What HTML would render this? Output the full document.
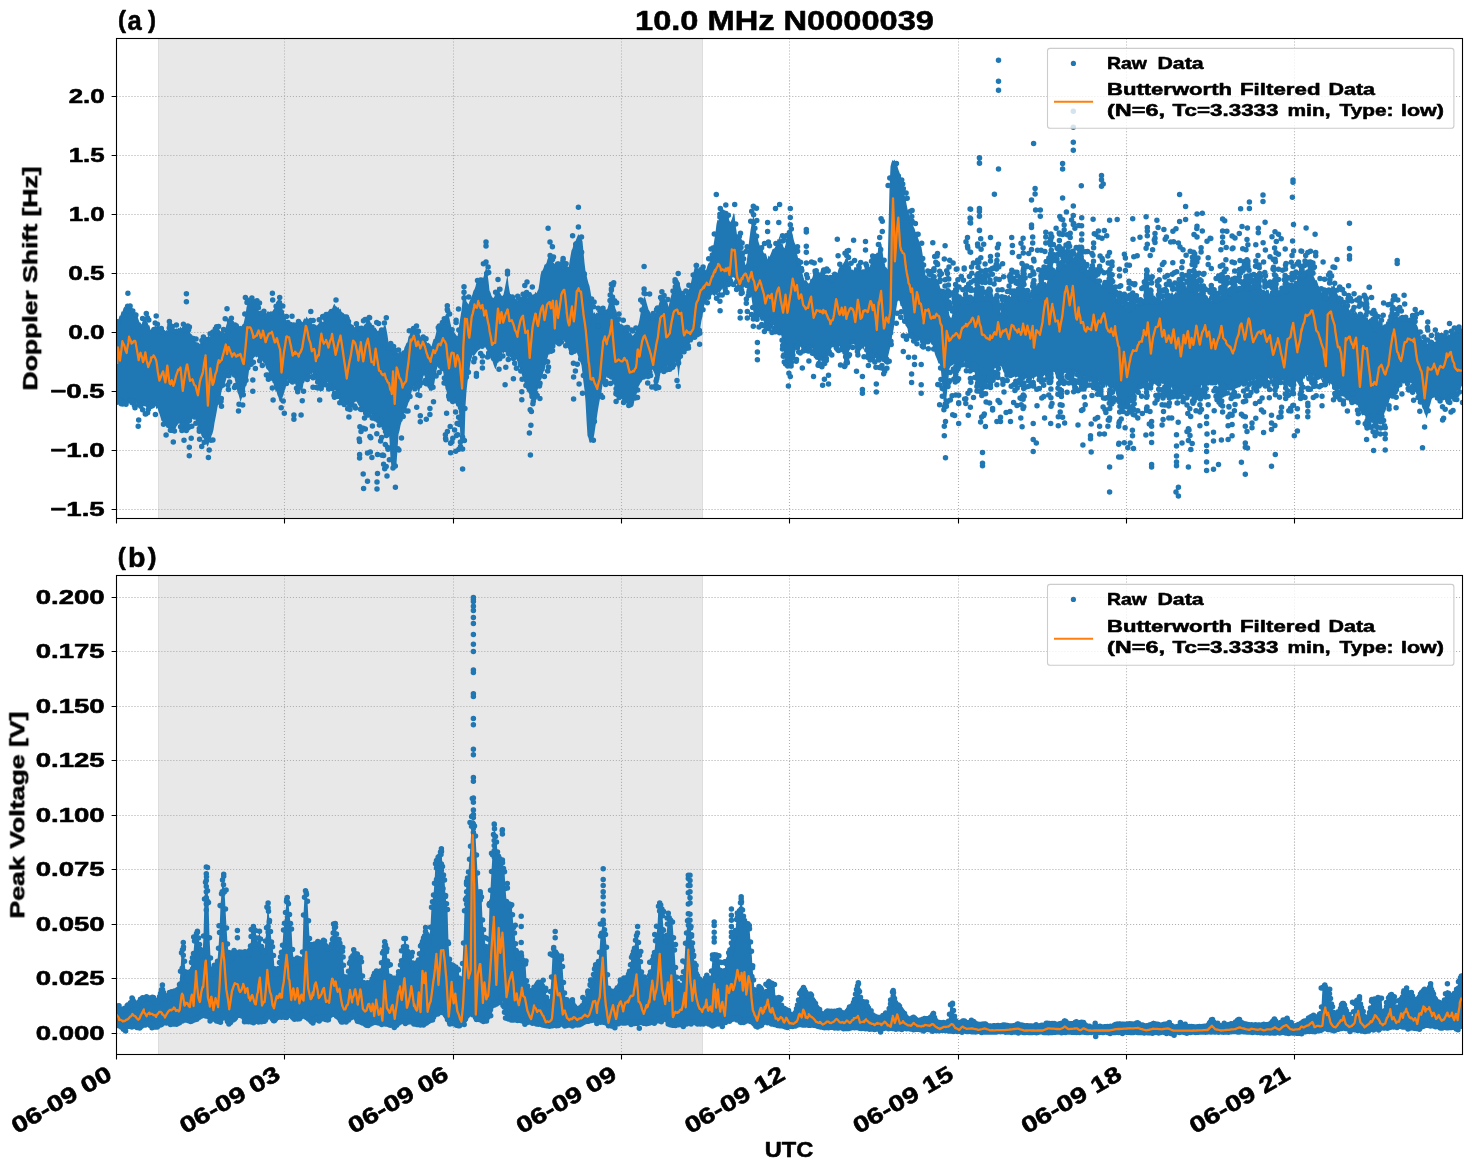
<!DOCTYPE html><html><head><meta charset="utf-8"><title>chart</title><style>html,body{margin:0;padding:0;background:#fff}svg{display:block}text{-webkit-font-smoothing:antialiased}text{font-family:'Liberation Sans',sans-serif;font-weight:bold;fill:#000;stroke:#000;stroke-width:0.55px;stroke-linejoin:round}</style></head><body>
<svg width="1472" height="1172" viewBox="0 0 1472 1172">
<rect width="1472" height="1172" fill="#fff"/><g opacity="0.999">
<defs><clipPath id="ca"><rect x="116.5" y="38.5" width="1346.0" height="480.0"/></clipPath><clipPath id="cb"><rect x="116.5" y="575.5" width="1346.0" height="479.0"/></clipPath></defs>
<g clip-path="url(#ca)">
<rect x="158" y="38.5" width="545" height="480.00" fill="#e8e8e8"/>
<path d="M158.5 38.5V518.5M702.5 38.5V518.5" stroke="#dddddd" stroke-width="1" fill="none"/>
<path d="M284.5 38.5V518.5M453.5 38.5V518.5M621.5 38.5V518.5M789.5 38.5V518.5M958.5 38.5V518.5M1126.5 38.5V518.5M1294.5 38.5V518.5M116.5 96.5H1462.5M116.5 155.5H1462.5M116.5 214.5H1462.5M116.5 273.5H1462.5M116.5 332.5H1462.5M116.5 391.5H1462.5M116.5 450.5H1462.5M116.5 509.5H1462.5" stroke="#b0b0b0" stroke-width="1.1" stroke-dasharray="1.1 1.89" fill="none"/>
<path d="M116.5 322.5 117.5 321 118.5 319.2 119.5 315.8 120.5 315.5 121.5 311.4 122.5 311.6 123.5 308.3 124.5 306.4 125.5 308 126.5 306 127.5 305.5 128.5 305.6 129.5 305.3 130.5 306 131.5 307.6 132.5 308.1 133.5 310.8 134.5 313.1 135.5 312.6 136.5 315.3 137.5 316.1 138.5 319.5 139.5 322.3 140.5 322.5 141.5 324.6 142.5 321.4 143.5 320.6 144.5 318.3 145.5 317.8 146.5 321 147.5 322.2 148.5 325.3 149.5 325.4 150.5 330 151.5 329.1 152.5 329.1 153.5 328.8 154.5 326.4 155.5 325.5 156.5 327.4 157.5 327.8 158.5 328.8 159.5 330.1 160.5 331.6 161.5 330.9 162.5 332.5 163.5 331.5 164.5 329.7 165.5 331.2 166.5 330 167.5 330.6 168.5 329.2 169.5 328.9 170.5 329.2 171.5 329.6 172.5 330.5 173.5 330.3 174.5 331.2 175.5 331.2 176.5 328.3 177.5 329.1 178.5 327.8 179.5 328.5 180.5 326.6 181.5 328.6 182.5 326.7 183.5 326.9 184.5 328.4 185.5 329.1 186.5 328 187.5 328.3 188.5 329.2 189.5 329.8 190.5 333.5 191.5 334.3 192.5 335.2 193.5 338.2 194.5 340.1 195.5 341.6 196.5 342.5 197.5 345.6 198.5 345.8 199.5 344.6 200.5 342.9 201.5 341.9 202.5 340.5 203.5 338.4 204.5 337.7 205.5 336 206.5 337 207.5 337 208.5 335.4 209.5 336.7 210.5 335.9 211.5 333.1 212.5 334 213.5 333.5 214.5 331.4 215.5 330.3 216.5 330.8 217.5 330.2 218.5 329 219.5 330.6 220.5 331.8 221.5 332.8 222.5 332.6 223.5 335.4 224.5 331.8 225.5 328 226.5 324.5 227.5 321.4 228.5 322.7 229.5 321.8 230.5 323.8 231.5 322.1 232.5 322.7 233.5 322.6 234.5 324.6 235.5 325.3 236.5 326.1 237.5 324.5 238.5 324.9 239.5 326.2 240.5 325.7 241.5 326.3 242.5 324.5 243.5 323.8 244.5 319.6 245.5 314.8 246.5 307.6 247.5 304 248.5 301.1 249.5 301.7 250.5 301.5 251.5 303.6 252.5 306.3 253.5 307.3 254.5 308.3 255.5 309.1 256.5 308.3 257.5 308.9 258.5 310.6 259.5 311.3 260.5 310.4 261.5 312 262.5 310.9 263.5 312.5 264.5 311.8 265.5 311.5 266.5 313.5 267.5 311.3 268.5 311.5 269.5 312.1 270.5 311.3 271.5 311.6 272.5 311.2 273.5 309.5 274.5 307.9 275.5 306.9 276.5 306 277.5 303.4 278.5 301.9 279.5 300.2 280.5 304.5 281.5 305.6 282.5 309.7 283.5 311.6 284.5 314.3 285.5 317.5 286.5 321.9 287.5 320.7 288.5 322.2 289.5 321.7 290.5 324.8 291.5 324.8 292.5 324 293.5 326.3 294.5 326.4 295.5 323.9 296.5 325.8 297.5 325.3 298.5 324.7 299.5 324.2 300.5 322.3 301.5 321 302.5 322.6 303.5 319.7 304.5 318.2 305.5 319.1 306.5 316.6 307.5 318.3 308.5 319.4 309.5 321.4 310.5 322.5 311.5 322.1 312.5 324.6 313.5 325 314.5 325.8 315.5 325.8 316.5 325.4 317.5 325.1 318.5 323.7 319.5 322 320.5 321.9 321.5 320.5 322.5 321.9 323.5 321.5 324.5 318.7 325.5 319 326.5 318.2 327.5 317.4 328.5 314.3 329.5 313.7 330.5 310.5 331.5 309.4 332.5 307.8 333.5 304.9 334.5 303.7 335.5 306 336.5 306.6 337.5 307.7 338.5 306.9 339.5 309.4 340.5 308.4 341.5 311.7 342.5 312.5 343.5 313.1 344.5 314.3 345.5 314.3 346.5 316.9 347.5 318.1 348.5 318.2 349.5 321.1 350.5 322.7 351.5 324.2 352.5 324.8 353.5 325.1 354.5 327.4 355.5 325.8 356.5 328.9 357.5 330.1 358.5 329.1 359.5 327.8 360.5 327.5 361.5 328.1 362.5 328.1 363.5 326.1 364.5 324.5 365.5 323.8 366.5 320.2 367.5 319.8 368.5 318.5 369.5 319.4 370.5 322.6 371.5 323.2 372.5 326.5 373.5 325.9 374.5 328.3 375.5 327.6 376.5 329.3 377.5 330.9 378.5 330.5 379.5 330.7 380.5 330.4 381.5 331.8 382.5 330.2 383.5 326.7 384.5 325.4 385.5 325.2 386.5 329.7 387.5 335.3 388.5 342.5 389.5 347.9 390.5 348.2 391.5 348.9 392.5 349.4 393.5 349.7 394.5 349.1 395.5 349.6 396.5 351 397.5 352.5 398.5 353.2 399.5 351.4 400.5 351.9 401.5 352.3 402.5 354.9 403.5 351.8 404.5 347.6 405.5 345.6 406.5 343.1 407.5 342.2 408.5 336.8 409.5 335.4 410.5 332.1 411.5 330.7 412.5 326.2 413.5 327.5 414.5 325.2 415.5 327 416.5 328.7 417.5 329.8 418.5 331.3 419.5 333.8 420.5 336.7 421.5 337.6 422.5 337.3 423.5 338.7 424.5 338.3 425.5 340.1 426.5 341.4 427.5 343.2 428.5 342.6 429.5 345.6 430.5 345.8 431.5 346.2 432.5 342.8 433.5 339.3 434.5 339.1 435.5 335.6 436.5 330.9 437.5 329.7 438.5 329.4 439.5 326.6 440.5 326.7 441.5 325.9 442.5 323.5 443.5 320.7 444.5 319.3 445.5 315 446.5 313.8 447.5 309.9 448.5 314.4 449.5 318.4 450.5 323.4 451.5 327.6 452.5 329.7 453.5 331.4 454.5 332.8 455.5 334.1 456.5 335.6 457.5 336.3 458.5 330.9 459.5 322.8 460.5 316.7 461.5 310.3 462.5 301.4 463.5 292.4 464.5 291.4 465.5 296 466.5 301.6 467.5 303.1 468.5 304.5 469.5 301.5 470.5 299.1 471.5 296.8 472.5 294.2 473.5 290.7 474.5 289.2 475.5 286.5 476.5 281.9 477.5 282.5 478.5 281.9 479.5 280.8 480.5 281.1 481.5 280.7 482.5 280.6 483.5 277 484.5 273.6 485.5 269.6 486.5 267.1 487.5 273.8 488.5 281 489.5 290.5 490.5 292.6 491.5 295.7 492.5 297.4 493.5 298 494.5 296.2 495.5 291.7 496.5 291.4 497.5 286.3 498.5 290 499.5 291.7 500.5 293.7 501.5 295.5 502.5 295.9 503.5 294.4 504.5 290.1 505.5 284.8 506.5 279.5 507.5 274.5 508.5 284.8 509.5 290.4 510.5 296.6 511.5 296.1 512.5 295 513.5 295.4 514.5 296 515.5 298.8 516.5 299.7 517.5 300.4 518.5 300.9 519.5 300.4 520.5 299.2 521.5 297.5 522.5 294.6 523.5 293.3 524.5 291.8 525.5 292.3 526.5 295.1 527.5 296.4 528.5 299.6 529.5 298.8 530.5 299 531.5 298 532.5 295.6 533.5 294.2 534.5 294 535.5 291.8 536.5 293.2 537.5 291 538.5 289.1 539.5 282.8 540.5 275.1 541.5 271 542.5 270.4 543.5 268.2 544.5 264.7 545.5 264.3 546.5 263 547.5 259.2 548.5 256.9 549.5 256.8 550.5 258.7 551.5 259.2 552.5 261.3 553.5 264.3 554.5 265.4 555.5 266.1 556.5 264.9 557.5 268 558.5 268.5 559.5 267 560.5 266.5 561.5 263.9 562.5 262.9 563.5 262.8 564.5 262.7 565.5 261.9 566.5 263.7 567.5 265.7 568.5 268.9 569.5 262 570.5 256.1 571.5 250.6 572.5 248.5 573.5 244.7 574.5 241.6 575.5 240.9 576.5 238.6 577.5 236 578.5 234 579.5 236.9 580.5 239 581.5 238.9 582.5 241.2 583.5 251.9 584.5 262.7 585.5 271.1 586.5 275.2 587.5 279.4 588.5 283.3 589.5 286 590.5 291.6 591.5 297.9 592.5 306.1 593.5 313.5 594.5 312.1 595.5 314.3 596.5 312.4 597.5 313.3 598.5 310.7 599.5 310.8 600.5 313.3 601.5 313.4 602.5 312.3 603.5 313.1 604.5 311.4 605.5 312.4 606.5 310.1 607.5 308.6 608.5 304.7 609.5 297.5 610.5 293.3 611.5 288.4 612.5 292.2 613.5 299.4 614.5 304.5 615.5 308.7 616.5 311 617.5 315.8 618.5 318.5 619.5 322.6 620.5 324.3 621.5 324.1 622.5 324.5 623.5 325.6 624.5 325.2 625.5 327.5 626.5 329.1 627.5 328.8 628.5 329 629.5 332.8 630.5 332.1 631.5 334.1 632.5 335.8 633.5 335 634.5 333.4 635.5 331.3 636.5 329 637.5 326.5 638.5 324 639.5 319.4 640.5 313.7 641.5 308.3 642.5 301.7 643.5 298.2 644.5 296.5 645.5 298.5 646.5 302.5 647.5 306 648.5 309.4 649.5 310.9 650.5 312.9 651.5 315.1 652.5 318.8 653.5 317.9 654.5 314.4 655.5 312.9 656.5 311.5 657.5 309 658.5 305.6 659.5 302 660.5 300.1 661.5 296.4 662.5 294.7 663.5 295.3 664.5 297.6 665.5 300 666.5 300.7 667.5 302.8 668.5 307 669.5 302.5 670.5 298.3 671.5 294.2 672.5 291.8 673.5 286.8 674.5 285.9 675.5 284.2 676.5 281.5 677.5 279.2 678.5 280.5 679.5 283.3 680.5 287.2 681.5 290 682.5 294.2 683.5 295.8 684.5 294.4 685.5 295.2 686.5 292.6 687.5 291.8 688.5 291.2 689.5 287.6 690.5 285.2 691.5 280.1 692.5 275.5 693.5 272.5 694.5 268 695.5 265.8 696.5 266.2 697.5 267.5 698.5 270.1 699.5 270.7 700.5 270.5 701.5 271 702.5 272 703.5 270.4 704.5 270.1 705.5 271.2 706.5 268.8 707.5 265.5 708.5 263.3 709.5 262.6 710.5 255.2 711.5 253.3 712.5 246.9 713.5 245 714.5 238.8 715.5 232.3 716.5 224.1 717.5 219.7 718.5 220.4 719.5 218.1 720.5 216.2 721.5 214.9 722.5 214.2 723.5 217 724.5 214.5 725.5 215.7 726.5 214.4 727.5 215.2 728.5 217.2 729.5 220.9 730.5 221.9 731.5 219.9 732.5 216.9 733.5 213.2 734.5 214.1 735.5 224.8 736.5 230.7 737.5 238.9 738.5 242.9 739.5 245.9 740.5 250.4 741.5 255 742.5 257 743.5 259.1 744.5 260.6 745.5 265.3 746.5 263.1 747.5 255 748.5 245.8 749.5 238.1 750.5 230.2 751.5 224.4 752.5 219.2 753.5 214.3 754.5 221.5 755.5 228.3 756.5 234 757.5 236.4 758.5 241.7 759.5 244.8 760.5 247.5 761.5 247.7 762.5 248.5 763.5 252.5 764.5 253.5 765.5 253.3 766.5 255.2 767.5 259.4 768.5 255.6 769.5 256.7 770.5 254.4 771.5 252.1 772.5 249.2 773.5 248.7 774.5 248.3 775.5 246.4 776.5 243.2 777.5 238.9 778.5 239.6 779.5 236 780.5 238.1 781.5 243.6 782.5 243.6 783.5 247.1 784.5 248.3 785.5 244.4 786.5 240.3 787.5 236 788.5 235.5 789.5 230.4 790.5 226.1 791.5 233 792.5 233.5 793.5 238.8 794.5 242.5 795.5 244.5 796.5 252 797.5 255.4 798.5 260 799.5 265.5 800.5 266.6 801.5 270.5 802.5 273.5 803.5 277.2 804.5 280.4 805.5 280 806.5 280.6 807.5 282.3 808.5 283.6 809.5 283 810.5 278.6 811.5 279.1 812.5 277.2 813.5 273.3 814.5 270.4 815.5 268.5 816.5 272.9 817.5 270.9 818.5 271.9 819.5 272.1 820.5 275.8 821.5 274.1 822.5 275.5 823.5 274.2 824.5 277.1 825.5 274.2 826.5 275.4 827.5 275.2 828.5 276.6 829.5 275.9 830.5 276.8 831.5 277.3 832.5 279.3 833.5 280.9 834.5 275.5 835.5 274.8 836.5 273.5 837.5 272.8 838.5 269 839.5 267.1 840.5 265.2 841.5 264.3 842.5 264.9 843.5 262.9 844.5 261.4 845.5 258.4 846.5 259.1 847.5 259.4 848.5 261.3 849.5 265.6 850.5 265.1 851.5 269.7 852.5 269.6 853.5 270.6 854.5 266.9 855.5 267.3 856.5 267.7 857.5 266 858.5 266.6 859.5 266.8 860.5 266.8 861.5 270 862.5 269.7 863.5 272.1 864.5 271.9 865.5 270.8 866.5 270.6 867.5 270.1 868.5 266.5 869.5 267.3 870.5 264.2 871.5 262.9 872.5 261.1 873.5 260.1 874.5 255.4 875.5 255.9 876.5 252.7 877.5 253 878.5 248.4 879.5 245.3 880.5 241.4 881.5 244.6 882.5 250.9 883.5 259 884.5 262.6 885.5 267 886.5 267.4 887.5 269.6 888.5 228.7 889.5 188.5 890.5 166.5 891.5 162.5 892.5 160 893.5 161 894.5 159.4 895.5 162.7 896.5 163.2 897.5 166.5 898.5 170 899.5 172.6 900.5 177.1 901.5 180.1 902.5 186 903.5 191.5 904.5 195 905.5 198.6 906.5 204 907.5 208.9 908.5 212.2 909.5 215.3 910.5 219 911.5 221.9 912.5 222.8 913.5 226.5 914.5 228.4 915.5 231.7 916.5 236.5 917.5 236.3 918.5 239.2 919.5 242.1 920.5 245.2 921.5 247.2 922.5 253.8 923.5 260.1 924.5 267.3 925.5 275.3 926.5 275.6 927.5 276.3 928.5 277.6 929.5 277.5 930.5 278.3 931.5 276.4 932.5 276.2 933.5 277.3 934.5 278.8 935.5 278.7 936.5 278.7 937.5 279.8 938.5 281 939.5 285.3 940.5 288.6 941.5 290.5 942.5 295.3 943.5 297.2 944.5 296.4 945.5 301.2 946.5 299.3 947.5 305.1 948.5 309.5 949.5 315.6 950.5 317.6 951.5 317.7 952.5 313.1 953.5 311.8 954.5 312.4 955.5 309.6 956.5 306.3 957.5 302 958.5 301.8 959.5 300.8 960.5 301.9 961.5 302.8 962.5 300.8 963.5 304.1 964.5 304.1 965.5 304.2 966.5 305 967.5 301 968.5 302.3 969.5 300.1 970.5 299.8 971.5 298.9 972.5 299.5 973.5 297.4 974.5 298.7 975.5 298.6 976.5 297.8 977.5 299.3 978.5 298 979.5 298.1 980.5 297.1 981.5 298.9 982.5 297.7 983.5 295.7 984.5 295.8 985.5 298.2 986.5 297.3 987.5 295.1 988.5 296.5 989.5 297.7 990.5 298.7 991.5 301.2 992.5 302.4 993.5 305 994.5 309.9 995.5 309.8 996.5 310.7 997.5 313.2 998.5 313.8 999.5 313.1 1000.5 313.1 1001.5 307.6 1002.5 305.6 1003.5 301.7 1004.5 297.8 1005.5 296.7 1006.5 296.5 1007.5 296.3 1008.5 295.1 1009.5 295 1010.5 297.2 1011.5 293.7 1012.5 293.5 1013.5 292.9 1014.5 292.4 1015.5 295 1016.5 292.9 1017.5 293.6 1018.5 294.9 1019.5 296 1020.5 298.6 1021.5 295.8 1022.5 298.6 1023.5 297.5 1024.5 298 1025.5 297.4 1026.5 299.5 1027.5 300.5 1028.5 300.3 1029.5 299.6 1030.5 299 1031.5 298.7 1032.5 295.7 1033.5 294.5 1034.5 292.9 1035.5 292.8 1036.5 293 1037.5 292.7 1038.5 292.7 1039.5 290.4 1040.5 287.2 1041.5 287.6 1042.5 288.6 1043.5 286 1044.5 284.7 1045.5 281.4 1046.5 283.7 1047.5 280.3 1048.5 277.6 1049.5 276.8 1050.5 276 1051.5 275.7 1052.5 273.1 1053.5 274.4 1054.5 272.9 1055.5 270.3 1056.5 269.2 1057.5 267.9 1058.5 268.3 1059.5 268.6 1060.5 267.1 1061.5 264 1062.5 263.2 1063.5 263.3 1064.5 263.1 1065.5 264.2 1066.5 262 1067.5 259.3 1068.5 261.9 1069.5 258 1070.5 258.3 1071.5 257.7 1072.5 256.9 1073.5 258.7 1074.5 259.1 1075.5 262.2 1076.5 263.3 1077.5 263.1 1078.5 265.2 1079.5 264.8 1080.5 266 1081.5 269 1082.5 269.2 1083.5 270.7 1084.5 271.9 1085.5 272.9 1086.5 270.6 1087.5 274 1088.5 276.2 1089.5 274.8 1090.5 275 1091.5 276.5 1092.5 276.7 1093.5 278.4 1094.5 279.3 1095.5 280.5 1096.5 281.5 1097.5 280.3 1098.5 282.6 1099.5 282.3 1100.5 283.3 1101.5 285.2 1102.5 285.6 1103.5 284.1 1104.5 286.5 1105.5 286.5 1106.5 284.2 1107.5 287.8 1108.5 288.8 1109.5 289.1 1110.5 288.7 1111.5 290.4 1112.5 293.2 1113.5 292.6 1114.5 294.1 1115.5 296 1116.5 297.8 1117.5 300.5 1118.5 300.5 1119.5 301.6 1120.5 300.7 1121.5 302.2 1122.5 304.7 1123.5 302.7 1124.5 304.4 1125.5 306.1 1126.5 306 1127.5 306.5 1128.5 309.2 1129.5 307.7 1130.5 307.1 1131.5 305.8 1132.5 307.7 1133.5 305.9 1134.5 306.9 1135.5 303.3 1136.5 303.4 1137.5 303.2 1138.5 301.5 1139.5 304.5 1140.5 303.4 1141.5 300.4 1142.5 302.8 1143.5 301.5 1144.5 302.5 1145.5 302 1146.5 300.7 1147.5 301.5 1148.5 301.9 1149.5 300.8 1150.5 300 1151.5 300 1152.5 300.7 1153.5 302 1154.5 301.8 1155.5 300 1156.5 301 1157.5 302.3 1158.5 301.8 1159.5 299 1160.5 301 1161.5 300.3 1162.5 296.9 1163.5 297.9 1164.5 299 1165.5 295.6 1166.5 296.6 1167.5 297.4 1168.5 296 1169.5 296.1 1170.5 295.5 1171.5 292.2 1172.5 292.2 1173.5 294.8 1174.5 293.8 1175.5 292 1176.5 292.4 1177.5 291.5 1178.5 289 1179.5 290.8 1180.5 288.6 1181.5 289.1 1182.5 287.7 1183.5 286 1184.5 288.5 1185.5 285.3 1186.5 287.5 1187.5 288 1188.5 286.7 1189.5 287.5 1190.5 288.9 1191.5 289.3 1192.5 287.7 1193.5 289.2 1194.5 290.8 1195.5 292.8 1196.5 290.7 1197.5 290.2 1198.5 292.9 1199.5 291.9 1200.5 292.8 1201.5 292.1 1202.5 293.5 1203.5 294.7 1204.5 294.9 1205.5 294.8 1206.5 295.3 1207.5 296.1 1208.5 298.6 1209.5 296.1 1210.5 297.5 1211.5 300.3 1212.5 300.7 1213.5 298.3 1214.5 299.4 1215.5 302 1216.5 300.2 1217.5 300.1 1218.5 298.3 1219.5 297.8 1220.5 297.5 1221.5 298.7 1222.5 298.7 1223.5 295.9 1224.5 296.9 1225.5 294.8 1226.5 294.4 1227.5 295.4 1228.5 292.2 1229.5 293.4 1230.5 294.9 1231.5 292 1232.5 291 1233.5 293.2 1234.5 289.6 1235.5 291.5 1236.5 289.7 1237.5 288.4 1238.5 290.9 1239.5 289.7 1240.5 286.7 1241.5 286.5 1242.5 287.6 1243.5 284.5 1244.5 285.7 1245.5 286.5 1246.5 286.9 1247.5 288 1248.5 287.4 1249.5 287.3 1250.5 285.2 1251.5 285.1 1252.5 285.6 1253.5 286.7 1254.5 288.3 1255.5 285.4 1256.5 285.2 1257.5 284.4 1258.5 287.9 1259.5 287.8 1260.5 288 1261.5 288.2 1262.5 289.7 1263.5 290.1 1264.5 289.9 1265.5 291.3 1266.5 289.1 1267.5 290.2 1268.5 289.6 1269.5 294 1270.5 290.7 1271.5 291.4 1272.5 295.1 1273.5 291.6 1274.5 293 1275.5 293.6 1276.5 294.2 1277.5 293.6 1278.5 290.2 1279.5 290.3 1280.5 293.5 1281.5 291.8 1282.5 291.5 1283.5 291.4 1284.5 291.7 1285.5 289.7 1286.5 290.4 1287.5 289.4 1288.5 287.3 1289.5 287.8 1290.5 287.5 1291.5 285.8 1292.5 285 1293.5 283.2 1294.5 280.8 1295.5 280.3 1296.5 281.3 1297.5 279.3 1298.5 277.8 1299.5 277.4 1300.5 278.8 1301.5 277.6 1302.5 277.6 1303.5 276.3 1304.5 276.3 1305.5 273.2 1306.5 271.5 1307.5 273.1 1308.5 273.2 1309.5 275.3 1310.5 272.5 1311.5 273.5 1312.5 276 1313.5 276.1 1314.5 278 1315.5 280.3 1316.5 280.1 1317.5 282.4 1318.5 285.7 1319.5 287.1 1320.5 287.8 1321.5 292.5 1322.5 292.2 1323.5 296.9 1324.5 298.7 1325.5 298.5 1326.5 298 1327.5 299.1 1328.5 295.1 1329.5 291.1 1330.5 290.8 1331.5 285.5 1332.5 286.8 1333.5 285 1334.5 284.6 1335.5 290 1336.5 292.3 1337.5 293.9 1338.5 296.9 1339.5 299.7 1340.5 300.7 1341.5 302.5 1342.5 304.2 1343.5 305.1 1344.5 304.3 1345.5 306.4 1346.5 305.9 1347.5 307.8 1348.5 307.6 1349.5 310.5 1350.5 309 1351.5 313 1352.5 311.3 1353.5 310.7 1354.5 313.3 1355.5 311 1356.5 312.2 1357.5 314.4 1358.5 312 1359.5 314.6 1360.5 314.6 1361.5 314.6 1362.5 314.2 1363.5 314.6 1364.5 315.1 1365.5 314.1 1366.5 317.9 1367.5 317.2 1368.5 320.3 1369.5 318.3 1370.5 321.5 1371.5 324.1 1372.5 322.7 1373.5 325.7 1374.5 326.5 1375.5 329.8 1376.5 331.3 1377.5 330.1 1378.5 328.6 1379.5 325.5 1380.5 327.6 1381.5 327 1382.5 326.3 1383.5 324.7 1384.5 324.3 1385.5 324.3 1386.5 321.2 1387.5 321.8 1388.5 322.6 1389.5 320.9 1390.5 318.5 1391.5 318.7 1392.5 315.7 1393.5 316.5 1394.5 316.7 1395.5 316.5 1396.5 314.3 1397.5 317.1 1398.5 317.2 1399.5 316.1 1400.5 316.4 1401.5 316.6 1402.5 318.2 1403.5 318.2 1404.5 319.7 1405.5 318.9 1406.5 318.6 1407.5 319.3 1408.5 319.5 1409.5 321.5 1410.5 320.9 1411.5 319.6 1412.5 320 1413.5 321.4 1414.5 320.6 1415.5 321.9 1416.5 324.4 1417.5 326.3 1418.5 329.5 1419.5 333.6 1420.5 334.9 1421.5 338 1422.5 341.8 1423.5 343.8 1424.5 343.7 1425.5 342.8 1426.5 343.8 1427.5 343.5 1428.5 343.4 1429.5 345.2 1430.5 344.4 1431.5 342.4 1432.5 341.2 1433.5 340.5 1434.5 341.9 1435.5 341.5 1436.5 340.5 1437.5 339.6 1438.5 338.5 1439.5 336.5 1440.5 338.2 1441.5 336.9 1442.5 337.2 1443.5 336.8 1444.5 336 1445.5 334.4 1446.5 333.3 1447.5 335.8 1448.5 334 1449.5 334.9 1450.5 332.2 1451.5 331.7 1452.5 331.4 1453.5 332.8 1454.5 330.6 1455.5 331.2 1456.5 331.3 1457.5 330.2 1458.5 330.7 1459.5 331.7 1460.5 328.8 1461.5 330.8 1462.5 330.9 L1462.5 385.7 1461.5 386.2 1460.5 389.4 1459.5 390.9 1458.5 390.5 1457.5 390.1 1456.5 392.6 1455.5 393.7 1454.5 395.2 1453.5 396.9 1452.5 396.9 1451.5 396.6 1450.5 397.7 1449.5 398.6 1448.5 399.3 1447.5 398.4 1446.5 399.6 1445.5 400.5 1444.5 399.7 1443.5 400.4 1442.5 400.1 1441.5 400.7 1440.5 400.2 1439.5 400.7 1438.5 400.7 1437.5 398.7 1436.5 397.9 1435.5 400.3 1434.5 397.3 1433.5 397.7 1432.5 398.1 1431.5 399.7 1430.5 403.8 1429.5 406.8 1428.5 411.3 1427.5 415.2 1426.5 418.5 1425.5 415 1424.5 413.2 1423.5 409.5 1422.5 408.3 1421.5 404.5 1420.5 402.9 1419.5 402.1 1418.5 397.2 1417.5 397.1 1416.5 394.4 1415.5 391.6 1414.5 389.5 1413.5 387.1 1412.5 385.4 1411.5 383.4 1410.5 382.7 1409.5 383.5 1408.5 382.2 1407.5 384.2 1406.5 382.8 1405.5 382.9 1404.5 383.6 1403.5 383.6 1402.5 383.7 1401.5 381.8 1400.5 385.2 1399.5 384.9 1398.5 387.1 1397.5 387.1 1396.5 389.9 1395.5 391.9 1394.5 391.2 1393.5 392.6 1392.5 395 1391.5 395.3 1390.5 397.4 1389.5 399.8 1388.5 403.8 1387.5 404.7 1386.5 407.1 1385.5 411.1 1384.5 412.8 1383.5 416.8 1382.5 415.9 1381.5 416.1 1380.5 414.6 1379.5 418.6 1378.5 416.3 1377.5 415.6 1376.5 417 1375.5 418.8 1374.5 420.3 1373.5 417.1 1372.5 420.2 1371.5 420 1370.5 416.6 1369.5 417.7 1368.5 418.4 1367.5 417.2 1366.5 417.4 1365.5 416.8 1364.5 415.3 1363.5 414.9 1362.5 415.5 1361.5 414.6 1360.5 412 1359.5 410.7 1358.5 407.7 1357.5 405.1 1356.5 405.4 1355.5 401.8 1354.5 399.5 1353.5 399.4 1352.5 399.4 1351.5 399.1 1350.5 397.9 1349.5 398.8 1348.5 397.2 1347.5 394.4 1346.5 395.7 1345.5 394.8 1344.5 393.9 1343.5 392.3 1342.5 394.3 1341.5 393.9 1340.5 391.7 1339.5 389 1338.5 390 1337.5 390.9 1336.5 390.2 1335.5 387.4 1334.5 387.1 1333.5 386.8 1332.5 386.8 1331.5 384.2 1330.5 383.5 1329.5 385.9 1328.5 383.2 1327.5 382.4 1326.5 380.5 1325.5 382.8 1324.5 378.9 1323.5 382 1322.5 378.1 1321.5 380.8 1320.5 378.5 1319.5 379.2 1318.5 377.6 1317.5 377 1316.5 376.8 1315.5 378.4 1314.5 376.8 1313.5 375.8 1312.5 376.7 1311.5 378.5 1310.5 375.9 1309.5 374.5 1308.5 376.2 1307.5 374.7 1306.5 378.7 1305.5 375.8 1304.5 379.1 1303.5 378.6 1302.5 381.4 1301.5 381.8 1300.5 381.8 1299.5 382 1298.5 383.9 1297.5 381.9 1296.5 381.3 1295.5 384.2 1294.5 383.1 1293.5 381.5 1292.5 381.2 1291.5 384.4 1290.5 383.6 1289.5 383.2 1288.5 383 1287.5 384.8 1286.5 381.5 1285.5 382.6 1284.5 382.8 1283.5 380.7 1282.5 380.1 1281.5 383.3 1280.5 382 1279.5 382.5 1278.5 380.1 1277.5 381.6 1276.5 379.5 1275.5 380.5 1274.5 378.3 1273.5 379.5 1272.5 378.5 1271.5 380.5 1270.5 381.4 1269.5 379.3 1268.5 378.1 1267.5 379 1266.5 377.6 1265.5 378.6 1264.5 379.3 1263.5 378.4 1262.5 379.7 1261.5 378.9 1260.5 379.7 1259.5 378.5 1258.5 380.9 1257.5 381.1 1256.5 381.2 1255.5 379.2 1254.5 381.6 1253.5 381.3 1252.5 381.1 1251.5 380.3 1250.5 382.3 1249.5 382 1248.5 381.3 1247.5 383.5 1246.5 381.7 1245.5 382.4 1244.5 384.5 1243.5 381.5 1242.5 384.9 1241.5 384.5 1240.5 383.8 1239.5 382.9 1238.5 383.8 1237.5 384.5 1236.5 383.9 1235.5 385.6 1234.5 383.8 1233.5 384 1232.5 384.1 1231.5 388.2 1230.5 384.9 1229.5 385.4 1228.5 386.4 1227.5 387 1226.5 387.9 1225.5 384.8 1224.5 385.5 1223.5 386.8 1222.5 383.2 1221.5 384 1220.5 383.9 1219.5 382.8 1218.5 385.7 1217.5 383 1216.5 384.4 1215.5 381.7 1214.5 382 1213.5 385.5 1212.5 385.7 1211.5 382.5 1210.5 384.4 1209.5 383.2 1208.5 385.9 1207.5 384.4 1206.5 386.6 1205.5 384.3 1204.5 386.6 1203.5 387.7 1202.5 386.6 1201.5 385 1200.5 388.7 1199.5 389.4 1198.5 386.8 1197.5 390.4 1196.5 388.1 1195.5 389 1194.5 392.5 1193.5 390.6 1192.5 394.9 1191.5 392.2 1190.5 392.5 1189.5 396.4 1188.5 396.6 1187.5 397.6 1186.5 397.3 1185.5 395.7 1184.5 394.5 1183.5 394.4 1182.5 396.3 1181.5 393.6 1180.5 391.1 1179.5 393.1 1178.5 392.5 1177.5 389.7 1176.5 389 1175.5 390.4 1174.5 386.7 1173.5 387.3 1172.5 388.5 1171.5 385.9 1170.5 386.7 1169.5 385.3 1168.5 386.6 1167.5 384.5 1166.5 386.9 1165.5 386.3 1164.5 385.4 1163.5 383.8 1162.5 384.1 1161.5 383.1 1160.5 385.6 1159.5 382.7 1158.5 382 1157.5 382.1 1156.5 382.3 1155.5 383.9 1154.5 384.2 1153.5 381.5 1152.5 381.7 1151.5 381.8 1150.5 383.5 1149.5 383.6 1148.5 381.3 1147.5 384.9 1146.5 382.5 1145.5 382.1 1144.5 384.3 1143.5 384.9 1142.5 385.5 1141.5 386.3 1140.5 387.5 1139.5 387.5 1138.5 390.1 1137.5 388.5 1136.5 390.8 1135.5 393.9 1134.5 395.6 1133.5 395.6 1132.5 395.8 1131.5 398.6 1130.5 398 1129.5 399 1128.5 400 1127.5 400.7 1126.5 404.7 1125.5 405.9 1124.5 405.6 1123.5 407.5 1122.5 406.8 1121.5 407.7 1120.5 404 1119.5 402.1 1118.5 401.6 1117.5 398.5 1116.5 396 1115.5 390.7 1114.5 391.6 1113.5 390.3 1112.5 388.1 1111.5 389 1110.5 387.9 1109.5 387.7 1108.5 387 1107.5 385.3 1106.5 387.9 1105.5 384.8 1104.5 384.6 1103.5 386 1102.5 386.1 1101.5 385 1100.5 384.3 1099.5 383.2 1098.5 381.3 1097.5 382.9 1096.5 381.9 1095.5 380 1094.5 379.6 1093.5 380.7 1092.5 378.7 1091.5 379.1 1090.5 377.1 1089.5 375.9 1088.5 376.2 1087.5 375.5 1086.5 375.8 1085.5 377.4 1084.5 377.1 1083.5 376.3 1082.5 377 1081.5 375.4 1080.5 375.5 1079.5 372.6 1078.5 374.1 1077.5 374.6 1076.5 375.6 1075.5 371.7 1074.5 373.6 1073.5 372.2 1072.5 373.2 1071.5 372.4 1070.5 371.3 1069.5 372.4 1068.5 374.4 1067.5 373.4 1066.5 373.7 1065.5 371.7 1064.5 370.9 1063.5 372.8 1062.5 372.7 1061.5 370.9 1060.5 371.3 1059.5 372.3 1058.5 370.6 1057.5 374.2 1056.5 372.9 1055.5 374.5 1054.5 372.1 1053.5 371.8 1052.5 374.7 1051.5 373 1050.5 373 1049.5 372.5 1048.5 373.4 1047.5 374.4 1046.5 375.7 1045.5 374.7 1044.5 375.2 1043.5 376.5 1042.5 375.7 1041.5 378.3 1040.5 375.4 1039.5 378.9 1038.5 376.9 1037.5 378.2 1036.5 376.3 1035.5 376.9 1034.5 377.5 1033.5 380.2 1032.5 377.8 1031.5 380.6 1030.5 380.4 1029.5 377.7 1028.5 381 1027.5 380.6 1026.5 378.6 1025.5 377 1024.5 379.7 1023.5 377 1022.5 376.5 1021.5 378.8 1020.5 379.2 1019.5 377.8 1018.5 376.9 1017.5 376.8 1016.5 377 1015.5 378.1 1014.5 375.3 1013.5 374.9 1012.5 375.2 1011.5 376.1 1010.5 375.3 1009.5 375.9 1008.5 372.9 1007.5 374.4 1006.5 374.9 1005.5 374.6 1004.5 373 1003.5 372.2 1002.5 369.2 1001.5 366.8 1000.5 365.7 999.5 367.3 998.5 366.5 997.5 366.2 996.5 365 995.5 365.8 994.5 369.1 993.5 370.6 992.5 371.6 991.5 372.6 990.5 373.8 989.5 373.7 988.5 376.2 987.5 381.3 986.5 382.7 985.5 382.8 984.5 385.4 983.5 387.6 982.5 384.3 981.5 381.3 980.5 377.2 979.5 374.7 978.5 373.4 977.5 371.3 976.5 366.7 975.5 366.8 974.5 366.1 973.5 363.6 972.5 365.8 971.5 362 970.5 364.9 969.5 364.9 968.5 363.8 967.5 361.7 966.5 363.8 965.5 362.6 964.5 361.5 963.5 363 962.5 364.5 961.5 362.6 960.5 366.5 959.5 366.1 958.5 366.4 957.5 366.2 956.5 366.4 955.5 365.1 954.5 363.9 953.5 364.6 952.5 365.2 951.5 365.8 950.5 366.4 949.5 368.4 948.5 378.4 947.5 387.5 946.5 397.4 945.5 402.3 944.5 403.3 943.5 400.9 942.5 388.8 941.5 376.8 940.5 365.7 939.5 363.6 938.5 363.4 937.5 360.5 936.5 357.9 935.5 355.8 934.5 352.6 933.5 348.8 932.5 345 931.5 344.4 930.5 342.6 929.5 341.2 928.5 341.3 927.5 341.4 926.5 344.3 925.5 342.1 924.5 342.7 923.5 342 922.5 343.8 921.5 344.1 920.5 343.5 919.5 340.2 918.5 340.9 917.5 341.1 916.5 339 915.5 341.2 914.5 341 913.5 338 912.5 338.2 911.5 337 910.5 334.9 909.5 335.2 908.5 334.8 907.5 328.6 906.5 326.8 905.5 325.6 904.5 321.6 903.5 316.4 902.5 309.5 901.5 306.2 900.5 305.7 899.5 301.1 898.5 300.4 897.5 301.4 896.5 307.7 895.5 314 894.5 322.7 893.5 330.1 892.5 333.1 891.5 341 890.5 346.3 889.5 350.6 888.5 354.8 887.5 359.3 886.5 361.2 885.5 361.8 884.5 363.7 883.5 362.1 882.5 362 881.5 360.4 880.5 358.9 879.5 357.5 878.5 357.5 877.5 358 876.5 356.4 875.5 355.3 874.5 356 873.5 355.1 872.5 354.7 871.5 354.3 870.5 351.9 869.5 352.4 868.5 351.4 867.5 348.8 866.5 348.6 865.5 348.2 864.5 346.2 863.5 350 862.5 348.2 861.5 348.9 860.5 350.8 859.5 350.1 858.5 350.5 857.5 353.7 856.5 350.8 855.5 350.5 854.5 345.4 853.5 342 852.5 342.3 851.5 345.6 850.5 348.9 849.5 350.2 848.5 353.4 847.5 360.1 846.5 361.3 845.5 360.6 844.5 357.8 843.5 354.5 842.5 354 841.5 349.4 840.5 348.5 839.5 345.9 838.5 348.5 837.5 346.8 836.5 345.5 835.5 342.7 834.5 344 833.5 344.2 832.5 343.5 831.5 348.3 830.5 350.5 829.5 352 828.5 352.8 827.5 357.9 826.5 360.7 825.5 358.8 824.5 359.2 823.5 362.3 822.5 362.6 821.5 360.8 820.5 360.8 819.5 363.6 818.5 363.3 817.5 359.1 816.5 357.8 815.5 355.6 814.5 354.3 813.5 353 812.5 349.2 811.5 347.1 810.5 347.5 809.5 347.8 808.5 349.1 807.5 350.3 806.5 352.1 805.5 351.3 804.5 351.8 803.5 352.3 802.5 350.5 801.5 348.9 800.5 345.6 799.5 346.1 798.5 343.9 797.5 342.8 796.5 345.9 795.5 351.2 794.5 353.9 793.5 360.5 792.5 361.4 791.5 361.4 790.5 362.2 789.5 364.2 788.5 361.6 787.5 360.5 786.5 360.8 785.5 361.5 784.5 355.7 783.5 349.5 782.5 343.2 781.5 336.2 780.5 333.6 779.5 332.4 778.5 330.5 777.5 330.7 776.5 327.5 775.5 328.8 774.5 326.9 773.5 325.1 772.5 327.7 771.5 327.9 770.5 327.7 769.5 326.6 768.5 326.7 767.5 326.8 766.5 326.2 765.5 326.9 764.5 325.1 763.5 320.7 762.5 320.7 761.5 320.9 760.5 320 759.5 317.5 758.5 317 757.5 318.2 756.5 317 755.5 319.6 754.5 320.7 753.5 313 752.5 305.1 751.5 297.8 750.5 293.1 749.5 292 748.5 290.9 747.5 286.1 746.5 284.8 745.5 286.6 744.5 286.6 743.5 288.1 742.5 292 741.5 292.4 740.5 290.1 739.5 288.5 738.5 285.5 737.5 285.3 736.5 281.2 735.5 281.5 734.5 277.7 733.5 275.8 732.5 277.6 731.5 280.5 730.5 281.4 729.5 283.2 728.5 283.1 727.5 283.3 726.5 284.3 725.5 286.1 724.5 289 723.5 288.1 722.5 288.8 721.5 289.8 720.5 291.2 719.5 294.4 718.5 292.1 717.5 294 716.5 295.2 715.5 294.6 714.5 296.5 713.5 295.3 712.5 294.5 711.5 294.9 710.5 298.3 709.5 298.1 708.5 297.1 707.5 298.5 706.5 301.1 705.5 303.9 704.5 304.6 703.5 309.1 702.5 316.5 701.5 320.2 700.5 326.5 699.5 333.6 698.5 334.8 697.5 334.4 696.5 336.9 695.5 339.1 694.5 337.7 693.5 339.6 692.5 342.1 691.5 342.5 690.5 342.3 689.5 343.7 688.5 344.8 687.5 345.7 686.5 348.2 685.5 347.4 684.5 350.1 683.5 349.1 682.5 350.9 681.5 355.8 680.5 362.4 679.5 369.6 678.5 378.2 677.5 368 676.5 363 675.5 361.9 674.5 364.8 673.5 362.7 672.5 366.1 671.5 366.6 670.5 367.3 669.5 365.9 668.5 366.5 667.5 365.8 666.5 366.7 665.5 367.7 664.5 369.8 663.5 368.8 662.5 368.5 661.5 372.4 660.5 372.9 659.5 378.1 658.5 379.3 657.5 381.2 656.5 382.8 655.5 377.1 654.5 373.7 653.5 371.2 652.5 369.5 651.5 370.8 650.5 372.9 649.5 372.9 648.5 373.6 647.5 376.1 646.5 375.6 645.5 378 644.5 377.2 643.5 378.9 642.5 380.1 641.5 381.9 640.5 382.9 639.5 384.9 638.5 386.7 637.5 390.1 636.5 395.1 635.5 396.1 634.5 400.1 633.5 405.5 632.5 406.8 631.5 407.4 630.5 406.3 629.5 405.9 628.5 403.8 627.5 404.8 626.5 403.3 625.5 402.9 624.5 401.9 623.5 401.6 622.5 400.4 621.5 398.6 620.5 398.2 619.5 397.5 618.5 395.6 617.5 394.3 616.5 392.5 615.5 388.5 614.5 386.5 613.5 381 612.5 377.3 611.5 376.1 610.5 376 609.5 375.4 608.5 375.8 607.5 373.8 606.5 377.6 605.5 379.6 604.5 380.5 603.5 381.2 602.5 384.9 601.5 391.6 600.5 396.1 599.5 401.3 598.5 406.8 597.5 413.1 596.5 420 595.5 425.9 594.5 433 593.5 438.7 592.5 440 591.5 442.2 590.5 442.8 589.5 442.6 588.5 438 587.5 435.7 586.5 420.1 585.5 401.5 584.5 390.1 583.5 382.6 582.5 373.5 581.5 365.2 580.5 362.6 579.5 359.4 578.5 357.3 577.5 354.6 576.5 351.7 575.5 351.6 574.5 351.6 573.5 351.3 572.5 351.3 571.5 353.4 570.5 353.6 569.5 353.2 568.5 349.5 567.5 347.4 566.5 347.2 565.5 342.7 564.5 342 563.5 339.8 562.5 342 561.5 342.4 560.5 340.5 559.5 340.8 558.5 343.1 557.5 344 556.5 342.1 555.5 344.3 554.5 345.4 553.5 346.2 552.5 344.9 551.5 348.6 550.5 350.6 549.5 354.7 548.5 354.6 547.5 358 546.5 362.3 545.5 365.3 544.5 371 543.5 371.5 542.5 375.5 541.5 379.1 540.5 380.2 539.5 384.5 538.5 386.2 537.5 390.2 536.5 391.5 535.5 393.5 534.5 392.9 533.5 395.7 532.5 394.9 531.5 398.5 530.5 397.4 529.5 395 528.5 392.6 527.5 392.3 526.5 389.5 525.5 386.9 524.5 382.5 523.5 380.5 522.5 377 521.5 373.3 520.5 370.5 519.5 367.2 518.5 365.1 517.5 361.4 516.5 359.9 515.5 356.9 514.5 355.4 513.5 356.9 512.5 356.2 511.5 353.2 510.5 353.3 509.5 352.4 508.5 352.3 507.5 350.3 506.5 350.5 505.5 349.3 504.5 351.5 503.5 353.4 502.5 352.3 501.5 355.1 500.5 355.8 499.5 359.4 498.5 362.4 497.5 363.1 496.5 366.6 495.5 369.5 494.5 367.3 493.5 364.4 492.5 361.3 491.5 360.4 490.5 358.6 489.5 354.5 488.5 352.3 487.5 350.7 486.5 349.6 485.5 347.5 484.5 347.3 483.5 344.8 482.5 343.8 481.5 344.3 480.5 344.6 479.5 346.2 478.5 350 477.5 351.2 476.5 352.6 475.5 354.1 474.5 355.3 473.5 356.3 472.5 355.1 471.5 358.6 470.5 362 469.5 369.8 468.5 374.8 467.5 382.1 466.5 391.1 465.5 406 464.5 440.4 463.5 442.4 462.5 440.8 461.5 441.3 460.5 440.6 459.5 416.3 458.5 407.6 457.5 404.8 456.5 405 455.5 403.8 454.5 401.7 453.5 402.4 452.5 399.8 451.5 401 450.5 401.1 449.5 399.5 448.5 397.4 447.5 395.8 446.5 391 445.5 388.8 444.5 380.8 443.5 374 442.5 367.3 441.5 363.3 440.5 364.4 439.5 365.5 438.5 366.7 437.5 366.8 436.5 370.6 435.5 376.3 434.5 382.4 433.5 387.9 432.5 390.6 431.5 391 430.5 390.5 429.5 391.1 428.5 388.4 427.5 387.3 426.5 384.4 425.5 380.9 424.5 375.6 423.5 375.7 422.5 380 421.5 383.2 420.5 386 419.5 390.9 418.5 392.4 417.5 390 416.5 386.7 415.5 386.9 414.5 383.6 413.5 387.6 412.5 388.7 411.5 391.9 410.5 397.3 409.5 400.9 408.5 402.6 407.5 405.7 406.5 407.9 405.5 411 404.5 412.8 403.5 416.3 402.5 421 401.5 421.9 400.5 425.6 399.5 430.7 398.5 434.2 397.5 449.5 396.5 464.1 395.5 468.7 394.5 466 393.5 466.8 392.5 468.5 391.5 466.9 390.5 459 389.5 440.1 388.5 430.9 387.5 429.4 386.5 428.4 385.5 425.8 384.5 424.2 383.5 423.6 382.5 420.8 381.5 420.1 380.5 421.3 379.5 419.9 378.5 420.3 377.5 418.3 376.5 417.3 375.5 417.9 374.5 416.9 373.5 416 372.5 414.5 371.5 414.6 370.5 416.1 369.5 413.5 368.5 412.8 367.5 413.2 366.5 414.4 365.5 413.5 364.5 412.6 363.5 413.7 362.5 411.8 361.5 409.8 360.5 409.8 359.5 406.6 358.5 405.2 357.5 403.2 356.5 401.5 355.5 401.8 354.5 402.2 353.5 405.6 352.5 406.2 351.5 407.7 350.5 408.1 349.5 407 348.5 408.3 347.5 406.2 346.5 405 345.5 404.8 344.5 403.6 343.5 402 342.5 399.9 341.5 397.7 340.5 398 339.5 397.6 338.5 394.8 337.5 392.8 336.5 391.6 335.5 390.8 334.5 388.5 333.5 387.7 332.5 389.1 331.5 386.8 330.5 386.2 329.5 383.8 328.5 385 327.5 381.9 326.5 383.5 325.5 384.4 324.5 385.2 323.5 387.9 322.5 388.1 321.5 389.9 320.5 392 319.5 389.5 318.5 388.1 317.5 383.9 316.5 382 315.5 380 314.5 378.3 313.5 375.3 312.5 372.6 311.5 375.2 310.5 373.8 309.5 374.8 308.5 374.9 307.5 377.8 306.5 377.2 305.5 378.7 304.5 381.9 303.5 383.6 302.5 389.4 301.5 391 300.5 390.1 299.5 388.8 298.5 389.6 297.5 386.5 296.5 387.5 295.5 384.7 294.5 382 293.5 382.7 292.5 380.8 291.5 381.9 290.5 379.2 289.5 377.8 288.5 379.6 287.5 379.5 286.5 383.4 285.5 388.5 284.5 391.1 283.5 395.1 282.5 397.5 281.5 400.5 280.5 402 279.5 401.2 278.5 397.2 277.5 395.2 276.5 391.6 275.5 390.9 274.5 387.5 273.5 383.4 272.5 382.6 271.5 378.6 270.5 376.9 269.5 375.2 268.5 371 267.5 369.7 266.5 368.9 265.5 366.3 264.5 363.6 263.5 363 262.5 360.2 261.5 359.6 260.5 360.8 259.5 359.7 258.5 358.8 257.5 356.5 256.5 357.5 255.5 356.4 254.5 357 253.5 358.3 252.5 359.7 251.5 360.7 250.5 361.4 249.5 366.8 248.5 374.5 247.5 380.7 246.5 385.6 245.5 386.4 244.5 390.6 243.5 391.5 242.5 396.8 241.5 399.1 240.5 402.2 239.5 398.1 238.5 394.4 237.5 392.4 236.5 387.3 235.5 382.4 234.5 377.9 233.5 376.1 232.5 372.9 231.5 375.5 230.5 375.1 229.5 375.9 228.5 376 227.5 377.4 226.5 378 225.5 381.6 224.5 384.8 223.5 386.1 222.5 388.4 221.5 391.2 220.5 397.4 219.5 398.7 218.5 403 217.5 407 216.5 412.8 215.5 417.9 214.5 423 213.5 429.8 212.5 433.6 211.5 435.7 210.5 439.2 209.5 441 208.5 444.7 207.5 446.7 206.5 444.4 205.5 442 204.5 440.3 203.5 437.9 202.5 437.7 201.5 435.7 200.5 431.9 199.5 428.5 198.5 425.5 197.5 424.1 196.5 421.9 195.5 419.5 194.5 416.3 193.5 418.2 192.5 418 191.5 420 190.5 421.9 189.5 422.9 188.5 423.9 187.5 427.3 186.5 428.8 185.5 429.2 184.5 431.1 183.5 430.4 182.5 427.4 181.5 428 180.5 424.6 179.5 423.4 178.5 423.6 177.5 424.9 176.5 426.3 175.5 428.7 174.5 430.3 173.5 429.1 172.5 431.3 171.5 431 170.5 430.6 169.5 429 168.5 428.5 167.5 427.9 166.5 427.6 165.5 425.5 164.5 424.2 163.5 423.5 162.5 421.4 161.5 420.8 160.5 417.2 159.5 414 158.5 411.4 157.5 408.1 156.5 409.2 155.5 405.9 154.5 406.9 153.5 406.8 152.5 407 151.5 404.8 150.5 405.1 149.5 406 148.5 405.7 147.5 405.8 146.5 403.9 145.5 404.7 144.5 403.5 143.5 402.7 142.5 404.2 141.5 405 140.5 403.3 139.5 404.7 138.5 405.5 137.5 405.2 136.5 402.9 135.5 402.1 134.5 404.6 133.5 401.9 132.5 402.5 131.5 401.6 130.5 401.9 129.5 402.6 128.5 403.7 127.5 403.5 126.5 401.2 125.5 402.9 124.5 401.9 123.5 402 122.5 400.8 121.5 401.6 120.5 403.2 119.5 402.2 118.5 403.7 117.5 401.7 116.5 403.4Z" fill="#1f77b4"/>
<path d="M116.3 402.5h0M118.7 321.9h0M116.4 321.6h0M121.2 403.8h0M123.2 402.1h0M121.3 400.4h0M122.5 403.9h0M124.8 402.4h0M126 404.3h0M130.1 306h0M127.6 306.2h0M130 400.6h0M134.1 401.6h0M132.8 310.9h0M131.8 402.4h0M134.4 405.6h0M135 407.7h0M135.9 314.9h0M135.4 314.8h0M138.9 404.7h0M140.7 404.3h0M140.7 406.2h0M142.6 318.5h0M142.6 409.7h0M145.3 414.1h0M147.6 412.8h0M145.3 403.7h0M145.2 403.6h0M147.4 317.7h0M148.8 320.1h0M148.2 405.1h0M148.4 409.3h0M150.8 406.4h0M152.5 405.8h0M150 404.2h0M153.9 329.6h0M156.2 315.9h0M157.4 324.2h0M155.2 323.1h0M158.1 328.9h0M160.3 329.4h0M161.3 328.5h0M161.3 329.5h0M158.4 330.4h0M159.1 330.8h0M161.4 331.3h0M162.6 332.3h0M163.5 424.2h0M169.3 328h0M172.2 326.6h0M169.4 321.6h0M169.9 325.1h0M171.2 330.2h0M170.4 430.3h0M172.2 430.3h0M173.5 331h0M176.5 331.4h0M174.4 431h0M176.4 324.9h0M180.6 426.8h0M182.6 423.8h0M181.9 430.5h0M183.4 324.2h0M186.3 430.6h0M183.6 329.9h0M185.2 326.6h0M187.8 326h0M188.1 428h0M186.8 327.5h0M189.4 326.9h0M187.3 425.4h0M187 423.3h0M188.6 329.7h0M189.4 420.4h0M193.4 338.6h0M191.8 426.2h0M196 339h0M194.5 416.9h0M196.8 345.1h0M195.9 423.3h0M198.6 423.3h0M200 346.6h0M199.3 431.2h0M199.3 428.6h0M201.7 446.5h0M201.9 340.4h0M203.5 337.5h0M203.5 338.7h0M203.4 336.9h0M204.3 442.2h0M209.2 449.9h0M210.1 333.8h0M211 440.2h0M211.9 332.9h0M213 332h0M212.9 440.1h0M217 330.9h0M215.3 329.1h0M218.6 326.4h0M216.6 326.8h0M218.5 397.9h0M218.2 402h0M220 398.6h0M221.3 398.5h0M221 401.2h0M221.4 333.8h0M222.5 385.3h0M223.6 329.4h0M225.2 318.8h0M228.4 389.6h0M229.6 382h0M230.5 323h0M228.9 375.8h0M227.9 385h0M231.4 318.3h0M229.4 321.1h0M231.5 323.1h0M231.8 372.4h0M234.6 375.1h0M235.4 385.5h0M235 324.9h0M236.2 325.8h0M234.5 387.4h0M238 386.7h0M242.7 405.1h0M243.3 394.8h0M242.5 390.7h0M244.8 313.9h0M245.4 297.4h0M247 302.5h0M246 380.3h0M247.3 300.1h0M247.9 367.7h0M247.7 366.5h0M253.2 302h0M251.1 364.2h0M251.6 361.4h0M251.9 298h0M254.1 306.2h0M252.3 302.3h0M257 300.8h0M253.4 362.2h0M256.4 302.6h0M254.3 306.7h0M258.4 307.8h0M258.1 304.1h0M255.4 368.4h0M259.5 303h0M259.7 360.7h0M260.7 358.8h0M261.6 313.2h0M263.9 311.3h0M262.3 365.6h0M266.4 375h0M268.4 379.3h0M268.4 376h0M271.4 377.9h0M267.5 375.1h0M272.7 300h0M272.3 388.1h0M276.1 306.2h0M278.5 303.7h0M279.6 303.7h0M281.2 407.7h0M279.7 297.5h0M279.4 302.5h0M281.3 312h0M282.8 306h0M283.2 401.1h0M287.9 322.5h0M286.4 316.4h0M289.9 380.3h0M286.5 383.4h0M290.5 324.6h0M292 316.3h0M292.5 381.9h0M293.6 325h0M295.4 325.3h0M296.5 388.3h0M298.5 321.5h0M297.7 391.7h0M297.9 389.8h0M300.6 324.6h0M303.6 391.3h0M307.3 379.4h0M308.9 376.6h0M309.4 322.6h0M310.7 320.5h0M313.7 375.9h0M313.2 320.6h0M310.8 311.4h0M313.6 326.7h0M313.1 377.7h0M316.3 387.6h0M317.7 382h0M317.9 387.9h0M319.2 319.8h0M321.2 388.4h0M324.7 318.2h0M322.7 316.6h0M325.4 384.8h0M327.5 318.9h0M325.8 384.7h0M328.7 389.1h0M326.2 314.5h0M329.9 313.6h0M330.2 385.7h0M329.7 314.6h0M331.3 311.6h0M330.5 386.3h0M332.5 388.4h0M334.6 393.5h0M335.6 396.1h0M336 300h0M334 395.5h0M338 392.3h0M338 396.2h0M337.4 394.3h0M339.8 402.7h0M341.7 399.8h0M344.2 404.6h0M347.7 408.8h0M345.8 317.2h0M347.2 318.7h0M346.5 317.1h0M348.5 321.5h0M350 409.4h0M348.9 417h0M354.6 405.9h0M356.4 323.7h0M355.5 408h0M359.3 329h0M357.7 328h0M361.4 328.3h0M361.2 409.4h0M360.6 409.2h0M365.7 413.1h0M363.5 320.7h0M365.1 319.4h0M364.5 417.9h0M369.6 317.8h0M368.2 415.1h0M369.2 317.5h0M371.9 327.5h0M373.9 415.9h0M372.2 418h0M376.4 416.4h0M373 416.8h0M376.7 322.4h0M377.1 416.3h0M375.8 419h0M378.5 323.6h0M378.3 420.6h0M380.7 420.3h0M382 332.1h0M382.1 421.4h0M381.6 330.1h0M384.4 323.1h0M384.3 427.7h0M384.3 427.6h0M382.8 424h0M382.5 424h0M385.5 431.5h0M387.6 433.5h0M388.1 429.4h0M388.3 348h0M390.7 343.5h0M393.3 349h0M392.3 346.9h0M393.6 346.6h0M393 468h0M393.5 348.7h0M394 350h0M395.3 466.1h0M394.5 351.9h0M398.5 349.9h0M397.9 448.7h0M398.9 450h0M401.5 437.9h0M403.9 352.9h0M403.2 416.5h0M404.4 410.1h0M406.4 411.1h0M408 411h0M409.3 330.8h0M410 396.6h0M413.5 328.5h0M414.8 388.8h0M416 384h0M416.5 326.1h0M419.8 395.4h0M417.9 394.7h0M418.4 331.2h0M419.5 385.7h0M423.2 337.1h0M421.3 383.1h0M426 338.8h0M425.2 380.5h0M426.3 383.8h0M428 346.1h0M433.5 401.8h0M433 387.2h0M436.1 376h0M438.8 329.2h0M438.3 327.4h0M440.6 366.2h0M439.2 372.4h0M439.3 326h0M442.4 322.5h0M442.3 368.6h0M441.3 365.7h0M444.4 378h0M444.3 318.7h0M444.1 383h0M446.4 383.5h0M447.7 310.8h0M448.7 395.4h0M448.8 396.8h0M449.5 399h0M449.6 314.1h0M452.7 401.6h0M453.6 400.4h0M452.1 329.7h0M452.1 398.8h0M455.6 412.1h0M458.7 404.2h0M458.8 330h0M460.5 407.4h0M460.9 420.9h0M458.6 417.3h0M460.5 446.6h0M460.4 441.9h0M464.4 440.6h0M464.9 408.6h0M468.7 297h0M466.4 377.1h0M468.4 372.3h0M473.8 361.8h0M474.7 358.4h0M477.5 280.4h0M477.6 347.4h0M480.5 280.1h0M482.1 346.2h0M482 343.6h0M482.1 280.2h0M480.6 353.5h0M484 343.9h0M486.6 273.4h0M483.4 263.7h0M488.1 266.9h0M488.7 272.5h0M488.7 353.1h0M487.6 357.1h0M488.5 355.8h0M495.6 292.3h0M498 279.6h0M499 369.3h0M499.9 289.2h0M499.7 358.8h0M502.9 355.9h0M505.2 349.5h0M508.4 352.9h0M506.8 349.7h0M508.3 359.6h0M511.4 354.4h0M508.7 354.1h0M509.4 296.6h0M512.3 297h0M513.4 358.6h0M516.7 356.1h0M514.7 363.2h0M520.5 365h0M516.4 368.2h0M517.7 296.2h0M522.1 299.6h0M518.6 298.2h0M520.8 371h0M523.1 294.3h0M522.1 379.3h0M524.8 285.6h0M526.6 292.6h0M525.9 385.5h0M527 282h0M528.2 294.4h0M529.2 294.6h0M527.5 300.6h0M532 396.6h0M530.5 296.4h0M532.9 403.8h0M533.3 401.3h0M533.8 396.6h0M532.3 287.1h0M534.3 397.8h0M535.6 392.9h0M534.3 397.1h0M534.3 397.4h0M537.2 395.4h0M539.4 385.9h0M539.6 385.2h0M539.9 398.5h0M540 383.2h0M544.4 376.6h0M547.7 370.9h0M548.5 366.9h0M544.5 362.2h0M550.1 255.4h0M547.6 361.7h0M552.5 259.4h0M553.5 257.1h0M551 351.3h0M551.5 264.6h0M552.8 346.1h0M552.5 350.4h0M557.6 264h0M556.6 265.6h0M557.7 342.4h0M558.9 266.7h0M558.4 264.1h0M559.2 343.7h0M563.4 264.2h0M563.2 258.9h0M561.3 341.9h0M563.1 258.4h0M562.9 260.7h0M565.7 345.8h0M566.1 263.8h0M568.5 269.4h0M571.6 352.5h0M575.7 244.3h0M575.4 370.9h0M572.6 235.8h0M573.4 363.3h0M574.3 351.2h0M577.3 364.3h0M580.7 359h0M581.5 237.1h0M583.4 375.6h0M581.6 252.2h0M582.5 393.3h0M584.4 274.1h0M591.6 298.9h0M593.4 306.7h0M594.1 302h0M593.4 440.3h0M594.4 421.5h0M599.9 310.8h0M600.9 395.2h0M599.8 310.8h0M602.5 397.3h0M602.5 311.3h0M600.8 312.3h0M605.1 383.1h0M603 308.3h0M605.2 311.9h0M605.6 384.6h0M605.8 381.5h0M610.3 300.8h0M610 300.6h0M611.4 289h0M609.2 375.4h0M611.5 377h0M613.7 282.8h0M613.1 285h0M614.2 381.8h0M610.5 383.4h0M612.5 297h0M613.4 302.6h0M614.6 300.7h0M616.1 388.7h0M616.6 302.7h0M616.4 392.6h0M615.9 393.7h0M617.1 394.4h0M618.7 319.3h0M619 314h0M619.2 397.4h0M619.4 395.3h0M623.3 320.2h0M627.6 327.5h0M626.7 327.4h0M623.6 402.5h0M626 329.9h0M628.8 405.5h0M631.6 330h0M632.6 331.1h0M635.9 327.9h0M637.5 397.4h0M635.1 397.9h0M637.6 389.9h0M642 310h0M642.8 302.2h0M640.7 300.1h0M645 293.7h0M643.5 377h0M647.7 382.9h0M648 376.4h0M650.6 375.6h0M649.9 372.3h0M653.2 313.5h0M653 318h0M651.8 386.9h0M655.9 385.4h0M658.7 387.5h0M656.6 309.5h0M657.5 307.9h0M656.1 380.9h0M661.8 299.5h0M660.6 297.4h0M661.9 291.8h0M664.1 295.4h0M664 367.1h0M663.8 371.4h0M667.9 299.5h0M667.8 368.8h0M666.7 369.7h0M669.8 369.2h0M670 368.3h0M673 291h0M675.1 279.8h0M675.3 286.7h0M672.6 367.3h0M676.5 284.8h0M674 364.7h0M677.2 284.1h0M675.1 281.7h0M678.6 363.1h0M680.4 356.2h0M682.8 293.6h0M683.5 349.4h0M687 348.3h0M684 351.8h0M688.5 292.2h0M688.5 347.9h0M685.9 291h0M688.9 285.3h0M688.2 345.8h0M693.2 274.9h0M696.2 265.5h0M696.5 265.6h0M694.6 337.3h0M698.5 333.9h0M697.1 334.7h0M698.5 271.2h0M700.3 271.6h0M701.2 269.5h0M699.4 330.5h0M699.8 333.3h0M703.3 271.5h0M700.5 272.8h0M703 309.7h0M703.1 267h0M707.3 302.8h0M708.7 258.7h0M708.4 297.3h0M712.3 255.1h0M711 248.9h0M712.9 248.1h0M714.3 234.1h0M716.5 298.2h0M719.7 294.9h0M720.1 310.8h0M719.9 216.9h0M719.9 214.2h0M722.2 295h0M722.3 212h0M724.8 214.8h0M725.9 213.6h0M725.6 292h0M725.2 288.9h0M727 292.4h0M725.2 213.4h0M728.4 215.2h0M725.8 285.3h0M727 216.2h0M726.3 282.4h0M730.5 282.6h0M730.5 281h0M729.1 283.3h0M728.3 284.4h0M733.4 284.4h0M734.7 274.9h0M732.6 283.9h0M736.8 281.4h0M736.6 289.4h0M735.7 223.9h0M739 286.7h0M739.1 240.2h0M739.4 236.2h0M740.5 233.3h0M738.5 287.9h0M737.7 243h0M738 241.7h0M741.6 290.4h0M737.5 288h0M738.3 245.6h0M742.1 243.1h0M742.2 254.5h0M741.2 252.7h0M741.2 293.5h0M741 247.5h0M742.2 292.8h0M741.7 259.1h0M746.3 303.3h0M746 251.6h0M743.6 258.8h0M746.8 285.6h0M746.4 299.1h0M747.1 246.7h0M748.3 295.6h0M749.2 290.4h0M748.9 292.3h0M749 295.2h0M750.7 221.3h0M752.1 292.7h0M752.7 307.4h0M753.6 214.8h0M751.7 211.3h0M751.6 314.6h0M753.8 222.9h0M756.5 208.2h0M757 319.2h0M756.8 220.5h0M754.9 228.2h0M754.6 228.2h0M755.9 317.3h0M756.6 236.3h0M759 327h0M761.6 247.7h0M762.9 325.6h0M764.5 243.5h0M761.7 324.4h0M764.4 331.5h0M765.4 326.4h0M768.8 326.4h0M769.3 327.4h0M766.9 328.1h0M768.4 242h0M769 328.8h0M769.5 245.8h0M772 332.4h0M774.7 328.2h0M777.2 329h0M775.9 243.4h0M776.8 329.7h0M775.9 329h0M775.4 331.7h0M779.6 332.8h0M775.9 329.9h0M782.5 235.8h0M782.7 240.9h0M782.7 345.5h0M782.1 340.2h0M784.1 237.4h0M783.3 356.2h0M783.7 344h0M782.5 348.9h0M783.8 355h0M786.6 356.7h0M784.3 361.9h0M788.1 241.3h0M786.3 362.8h0M785.6 364h0M786.7 235.4h0M787.7 366h0M788.9 373.3h0M787.1 361.1h0M790.7 365.4h0M791.1 366h0M789.4 232.6h0M791.3 229h0M791.2 362.9h0M796.5 359.5h0M792.6 357.5h0M796.2 361.2h0M792.9 354.9h0M796.1 360.6h0M797.6 251.2h0M798.1 260.7h0M799.1 343.1h0M798.5 344.9h0M797.4 347.4h0M796.4 346h0M797.5 246.8h0M800.5 262.2h0M798.9 266.9h0M798.7 351.9h0M800.2 353h0M801.8 270.4h0M801.4 268.5h0M806.6 274.8h0M807.4 277.7h0M803.3 351h0M807.9 347h0M809.5 347.2h0M808.1 350.9h0M808.9 360.9h0M812.4 353.2h0M808.4 347.4h0M811.5 261.9h0M810.8 351.2h0M815.1 271.1h0M816.1 355.8h0M817.3 357.2h0M815.4 272.7h0M816.2 270.7h0M818.1 365.2h0M818.8 363.5h0M821.9 366.8h0M823.2 272.1h0M822.3 274.3h0M821.3 364.3h0M824.7 363.5h0M826.7 269.1h0M822.4 276.5h0M826.6 277.5h0M826.3 358.2h0M825.5 359h0M823.7 270h0M828.2 270.7h0M824.4 379.2h0M825.5 270.9h0M826.3 360.4h0M830.7 277.5h0M830.2 353.7h0M829.2 351.7h0M832.5 278.3h0M831.8 355h0M834.6 343.7h0M832.1 280.4h0M831.6 344.8h0M834.7 274.2h0M836.2 347.5h0M838.6 350.4h0M836.7 348.4h0M838 350h0M837.3 239.3h0M841.4 349.6h0M839.8 264.3h0M840.5 364.9h0M846.6 358.7h0M845.6 356.8h0M844.5 366.4h0M846.7 361.3h0M845 253.3h0M845 365.8h0M846 363.3h0M846.7 255.6h0M847 361.6h0M848.5 257.6h0M847.4 362.8h0M848.6 250.5h0M848.6 356.1h0M851.1 263.3h0M849.5 354.7h0M852.4 341.8h0M854.6 260.6h0M852.7 347.5h0M857.9 355.1h0M858.8 265.8h0M857.4 351.5h0M859.1 267.5h0M860.7 262.6h0M863.2 272.1h0M864 356.8h0M867.2 269.2h0M865.9 264.1h0M866.8 350h0M868.4 365.6h0M866.6 265.7h0M868 357.4h0M868.5 354.1h0M869.9 351.5h0M870.1 360.1h0M871.5 261.3h0M873.6 257.1h0M870.5 356.3h0M872.7 359.4h0M872.3 260.6h0M872.7 255.9h0M874.8 362h0M875.3 355.3h0M876.3 256.6h0M875.9 367.3h0M880.7 249.4h0M878.4 244.6h0M879.7 237.5h0M879.1 360.1h0M881.8 368h0M879.4 367.6h0M878.5 359h0M881.9 365.4h0M883.7 373.7h0M884.1 260.2h0M887.4 362h0M886.9 368.3h0M889.2 361.2h0M886.5 358.9h0M888.1 185.4h0M889.8 178h0M890.9 341.2h0M891.2 344.6h0M890.7 332.7h0M896.3 323.2h0M896.4 163.4h0M897 313.3h0M896 163.8h0M898.4 175.9h0M901.7 180h0M901.3 180.7h0M901.2 311.7h0M900.8 317.3h0M904.7 321.3h0M902.8 191h0M902.7 184h0M906.1 193h0M903.9 199.2h0M907.2 198.2h0M910.5 211.3h0M906.5 339.2h0M910.6 335.7h0M910.8 335.2h0M907.6 336h0M911.8 216.4h0M911.6 336.2h0M912.1 336.5h0M912 222.6h0M915.4 223.4h0M913.7 341h0M916.7 234.4h0M916.4 338.6h0M916.9 343.7h0M922.2 346h0M923.3 347h0M923.6 344.1h0M923.6 265h0M922.7 258.4h0M927.9 341.8h0M929.3 274.2h0M927.8 271h0M928.3 348.7h0M931.1 271.4h0M931.1 275.1h0M932.8 242.8h0M934 268.7h0M933.7 269.5h0M933.7 349.1h0M934.1 276.8h0M934.7 256.6h0M934.1 270.4h0M935.8 262.3h0M937.3 263.5h0M937.5 253.4h0M937 256.1h0M937.8 384.6h0M940 279.9h0M939.8 275.3h0M939.8 281.6h0M939.7 271.3h0M939.9 384.9h0M940.6 368.1h0M940.9 379.4h0M941 291.3h0M941.4 273.8h0M942.9 291.5h0M942.3 396.3h0M942.2 388.6h0M943.9 409.7h0M944.2 294.9h0M944.3 259.1h0M945 294.3h0M945 286h0M944.5 407h0M945.1 245.7h0M945.1 279.8h0M944.9 292.8h0M946 299.8h0M945.9 294.6h0M945.3 404h0M947 294.1h0M946.7 270.8h0M946.6 299.3h0M947 402.2h0M946.7 400.9h0M946.4 406.3h0M947.5 273.6h0M948.6 294.1h0M948.8 302.1h0M948.8 279h0M947.9 290.8h0M948.1 304.9h0M949 267h0M948.6 308.3h0M948 386.5h0M948.8 382.6h0M949.2 295.4h0M949.4 305h0M949.7 260.3h0M949.7 292.5h0M950.1 372.6h0M949.7 380.8h0M952.1 294h0M952 308.5h0M952.4 308.8h0M953.1 262.9h0M952.3 311h0M952.1 395.8h0M953.2 311.1h0M953.4 369.1h0M954.9 304.4h0M954.8 298.2h0M954.1 307.7h0M954.5 292.1h0M954.7 301.1h0M954.2 292.4h0M955 306.6h0M954.2 302.1h0M954.2 298.4h0M953.9 379.1h0M956 304h0M955.2 305.9h0M955.6 309.5h0M955.7 289.5h0M955.9 302.6h0M955.3 308.8h0M956.1 295h0M955.7 375.2h0M955.4 380.5h0M955.8 395.1h0M955.4 368.7h0M955.3 382.1h0M955.9 366.4h0M955.5 372.4h0M956.4 306.2h0M956.9 296.8h0M956.6 290.7h0M956.6 371.1h0M957.9 279.7h0M957.7 300.6h0M957.5 380.6h0M959 287.1h0M958.7 367h0M958.6 378.8h0M958 369h0M959.2 297h0M959 298h0M961.3 276.4h0M962.4 300.9h0M962.9 289.7h0M962.9 301.2h0M962.2 364.8h0M963.6 299.1h0M963.9 301.4h0M963.9 301.6h0M963.5 280.3h0M963.8 304.6h0M963.5 304.7h0M965.6 294.4h0M965.9 364.4h0M966 241.7h0M966.1 296.3h0M966.7 297h0M966.4 287.5h0M966.1 299.8h0M966.2 298.3h0M966.8 302.8h0M966.4 370.8h0M966.7 365.3h0M967.7 289.7h0M967.8 247.9h0M968 393.2h0M968.9 303.1h0M968.7 284.1h0M968.3 298.7h0M968.7 364.8h0M968.3 415.2h0M968.1 363.3h0M969.4 276.6h0M969 299.5h0M969.8 365.7h0M970.1 370.9h0M969.9 390.6h0M970.5 288.3h0M970.2 297.2h0M971 300.4h0M971 282.2h0M970.4 407.2h0M970.4 378.4h0M970.9 382.3h0M969.9 365.5h0M970.6 366.5h0M971.8 273.3h0M971 290.6h0M971.5 266.9h0M971.3 298.8h0M973.4 263h0M973.6 363.8h0M973.1 364.1h0M973.6 369.3h0M974 280.4h0M974.4 290.2h0M974.8 377.4h0M974.7 368.1h0M976 297.3h0M976.4 294.9h0M976.9 275.5h0M976.8 376.8h0M976 366.2h0M977 299.7h0M978 296.1h0M977.7 296.5h0M977.7 260.3h0M977.2 262.5h0M976.9 297.8h0M977 279h0M977.8 246h0M977.9 297.2h0M977.5 297.6h0M977.8 298.6h0M978 267.2h0M977.9 300.2h0M977.9 288.1h0M977.6 289.8h0M977.9 286.7h0M977 299.1h0M977.2 288.4h0M976.9 292.7h0M976.9 279.8h0M977.9 273.7h0M977 291.1h0M977.1 284.5h0M977 291.9h0M977.6 244h0M977 293.7h0M977.9 280.6h0M977 391.1h0M977.3 375.3h0M977.1 386.1h0M978.1 380.6h0M976.9 386.4h0M977 371.2h0M977.6 383.3h0M977.4 378.4h0M977.6 376.1h0M978.9 262.3h0M977.9 386.2h0M980.7 289.3h0M980.3 293.7h0M980.3 291.7h0M980.4 296.6h0M980.7 238.7h0M980.8 257.7h0M981.1 270.9h0M980.2 391.5h0M980.4 379.3h0M980.2 376.4h0M981.8 293.9h0M982 277.5h0M981.5 276.2h0M981.9 298.2h0M981.7 294.3h0M981.5 293h0M981.1 249.3h0M981.7 288.5h0M982 288.3h0M982 292.1h0M982.1 282.3h0M981.2 381.4h0M982 384.1h0M981.2 380.5h0M982.1 394.2h0M981.4 382.5h0M981.7 393.1h0M981.8 395.4h0M981.2 383.5h0M981.7 380.6h0M981.2 382.9h0M981.7 417h0M982 293.3h0M981.9 297.7h0M982.1 388.2h0M983.7 244.3h0M983.8 291.9h0M984.4 279.2h0M984 277.2h0M984.3 414h0M985.2 272.7h0M985.9 270.2h0M985.2 282.6h0M985.1 299.1h0M985.1 263.9h0M985.6 393.7h0M985.1 393.7h0M985 383.5h0M985.4 426.5h0M986.9 298.1h0M987.1 296.2h0M986.8 386.7h0M987.3 291.8h0M988.4 292.5h0M988.2 275.8h0M988.2 294.3h0M988.3 380.6h0M988.5 386.5h0M989.9 282.4h0M988.9 294.7h0M989 290.1h0M989.8 289.5h0M989 297.2h0M989.1 288.9h0M989.4 294.8h0M989 374.1h0M989.5 377.6h0M989.6 403h0M989.2 373.5h0M990 270.5h0M990.5 256.6h0M990.1 295.6h0M990.2 269.7h0M990.2 298.4h0M990.5 261.1h0M990 280h0M990.3 290.7h0M990.7 296.3h0M990 293h0M990.5 237.5h0M989.9 375h0M990.5 384.4h0M990.5 373.1h0M990.5 387.6h0M990.5 375.7h0M992.3 274.2h0M992.1 268.5h0M992.6 299.6h0M992 268.7h0M991.9 299.8h0M992.1 376.9h0M992.8 372.9h0M993 380.2h0M992.7 376.2h0M993.5 302h0M994 377.4h0M994.1 284h0M994.4 194.2h0M995.1 307.1h0M994.4 372.4h0M994.7 372.8h0M995.9 308.1h0M995.6 310.8h0M995.4 306.3h0M995.8 298.4h0M996.1 309.3h0M996.6 300.6h0M996 279.1h0M996.1 307.7h0M996.4 298.5h0M997 303.8h0M996.9 295.4h0M996.2 264.5h0M996.4 269h0M997 310.9h0M995.9 310.1h0M996.2 306.6h0M996.9 260.6h0M996.5 303.5h0M996.9 384.8h0M996.5 375.7h0M996.2 365.4h0M998 290h0M997.1 265h0M998 313h0M997.1 301.6h0M997.2 296.6h0M997.3 310.2h0M997.7 373.4h0M997.8 366.1h0M997.5 376h0M997.9 377.5h0M997.5 365.3h0M998.8 267h0M998.4 368.4h0M998.1 400.4h0M999.2 279.6h0M1001.2 304.9h0M1001.1 308h0M1002.6 263.8h0M1002.7 300h0M1002.1 298h0M1001.9 296.7h0M1002.1 289.7h0M1003.1 299.7h0M1002.9 384.2h0M1002.7 379.5h0M1003.1 381.6h0M1003.2 297.3h0M1003.6 276.8h0M1004 392.1h0M1003.1 381h0M1003.9 297.7h0M1005.2 297.6h0M1007 375.2h0M1006.1 412.4h0M1007.4 291.5h0M1007.2 380.5h0M1007 374h0M1009.3 276.4h0M1009.1 285.9h0M1010.4 280.5h0M1010.2 279.2h0M1010.9 274.3h0M1010.6 375.4h0M1011.8 270.3h0M1011 290.8h0M1011.6 278.4h0M1011.1 292.5h0M1011 281.6h0M1011.2 386.2h0M1012.8 374.6h0M1013.7 278.5h0M1014 384.4h0M1014.2 290.9h0M1014.9 390.5h0M1015.3 272.3h0M1015.8 381.3h0M1016.1 283h0M1017 405.5h0M1016.1 382.8h0M1017.3 283.6h0M1017.5 275.7h0M1017 272.2h0M1017.4 293.5h0M1017.2 383.1h0M1017.2 388h0M1018.4 288.9h0M1019 256.5h0M1018 281.4h0M1018.9 380.4h0M1020.3 285.1h0M1020.8 298.5h0M1020.4 277.5h0M1020.4 298.2h0M1021.1 298.1h0M1020.2 298.8h0M1020.1 277.6h0M1020 379.4h0M1020.5 380.1h0M1020.1 397.9h0M1021.3 288.5h0M1021.2 294.9h0M1021 243.3h0M1021.8 292.3h0M1022 263.5h0M1022 287.2h0M1021.2 282.9h0M1021.8 384.7h0M1022.9 297.9h0M1022.2 293.4h0M1022.5 295.1h0M1022.1 426.8h0M1022.3 396.8h0M1022.8 377.6h0M1023.9 290.4h0M1023.6 268.7h0M1023.8 298.3h0M1024 284.5h0M1023.3 252.9h0M1023.9 270.2h0M1023.3 293.9h0M1023.3 291.5h0M1023 291.4h0M1024 294.6h0M1023.7 290.6h0M1023.8 265.8h0M1024 294.3h0M1024.1 274h0M1023.8 279h0M1023.2 273.3h0M1023.4 282.5h0M1023.1 271h0M1023.3 384.5h0M1023.3 394.9h0M1023.9 396.5h0M1023.1 399.2h0M1023.8 406.7h0M1023.7 388.5h0M1023.9 376.6h0M1023.4 384.8h0M1024.3 295.4h0M1024 294.7h0M1023.9 383h0M1024.2 396.2h0M1025.1 278.1h0M1026.7 294.9h0M1026.5 266.7h0M1026.8 266h0M1026.9 294.9h0M1026 387h0M1027.5 290.5h0M1028.3 294.5h0M1028.7 253.5h0M1029 299.3h0M1028.6 380.4h0M1028.8 386.3h0M1030.8 296.2h0M1030.2 275.7h0M1031.1 267.8h0M1030.4 385.6h0M1032.6 293.6h0M1032.7 286.3h0M1033.6 143.5h0M1033.1 271.7h0M1033.6 259.3h0M1033.9 274.1h0M1034 288.7h0M1032.9 292h0M1034 285h0M1034 260.9h0M1034 284.7h0M1033.1 283.2h0M1033.9 280.5h0M1033.6 287.2h0M1033.2 382.5h0M1033.5 385.2h0M1033 386.1h0M1036.6 290.6h0M1036.8 389.3h0M1037.9 289h0M1037 405.7h0M1038.7 269.8h0M1038.5 291.4h0M1039.8 285.3h0M1039.1 287.2h0M1039.4 288.8h0M1039.3 388.4h0M1039.2 379.8h0M1040.5 376.6h0M1042 278.7h0M1041.1 279.1h0M1041.1 275.2h0M1041 285.9h0M1042.1 270.5h0M1041.3 280.9h0M1041.3 280.3h0M1041.4 271h0M1041.9 286.2h0M1040.9 275.9h0M1041.8 398.1h0M1041.7 382.1h0M1044 267.1h0M1043.3 284.6h0M1043.8 396.5h0M1043.7 385.3h0M1044 380.1h0M1044.9 251.5h0M1045.5 272.6h0M1046 275.6h0M1045.5 275.9h0M1046.6 277.4h0M1046.2 261.6h0M1048 274.5h0M1047.2 269.6h0M1047.9 377.9h0M1047.7 375.3h0M1048.2 276.2h0M1048.2 277.7h0M1048.8 258.8h0M1049 242.4h0M1049 266.6h0M1049 277.2h0M1048.1 270.1h0M1048.9 257.9h0M1048 377.7h0M1048.8 395.1h0M1049.1 382.4h0M1048 372.8h0M1049.7 259.3h0M1049.1 276h0M1049.6 274.8h0M1050.1 261h0M1050.1 271.1h0M1049.4 377.7h0M1050.1 258.7h0M1050.1 274.1h0M1050.8 270.5h0M1050.5 276.1h0M1049.9 259.9h0M1050.8 268.3h0M1050.4 264.2h0M1050.6 245.1h0M1050.4 270.9h0M1050.9 234h0M1050.6 240.1h0M1050.1 274.7h0M1050.7 269.8h0M1050.9 277h0M1050.5 253.9h0M1050.9 276.9h0M1050.7 269h0M1050.8 381.3h0M1051.1 377.8h0M1051 406.3h0M1050.3 382.5h0M1050.2 377.2h0M1050.9 397.8h0M1050.9 389.1h0M1050.7 423.6h0M1050.8 376.3h0M1050.6 375.4h0M1050.9 373.9h0M1051 238.3h0M1051.8 236.8h0M1052.4 260.9h0M1052 403.5h0M1053 270.5h0M1053.4 244.6h0M1054.5 272.4h0M1054.2 254.7h0M1054.2 258h0M1056.1 228.3h0M1056.9 261.1h0M1057 259.3h0M1057.1 248.2h0M1058.1 249.1h0M1058.4 254.1h0M1058.9 265h0M1058.5 268.8h0M1058.9 267.9h0M1057.9 394.2h0M1058.5 376.5h0M1058.8 383.6h0M1059 374.2h0M1058.1 371.9h0M1058 388.2h0M1058.5 371.9h0M1058.1 374.1h0M1059.2 246.4h0M1059.2 233h0M1059.6 234h0M1059.8 216.4h0M1059.5 254.6h0M1059.4 240.6h0M1060 372.4h0M1059.7 389.3h0M1061 219h0M1060.7 265.4h0M1060.4 379.2h0M1061.5 376.9h0M1061.3 373.4h0M1061.8 378.8h0M1061.1 379.7h0M1061.3 393.8h0M1062.1 405.3h0M1062.3 252.3h0M1062.1 263.7h0M1062.2 262.2h0M1062.6 249.3h0M1062.7 219.7h0M1063 257.4h0M1062.6 249.1h0M1062.7 234.4h0M1064.1 258.9h0M1064.1 260.1h0M1062.9 263.3h0M1063.1 380.7h0M1065 382.6h0M1064.7 423.1h0M1063.9 383.6h0M1064.4 370.4h0M1064.9 252.6h0M1066 257.2h0M1066.9 260h0M1067 261.3h0M1067 258.3h0M1066.3 252.1h0M1066.4 212.1h0M1066 245h0M1067.1 392.2h0M1067.1 375.9h0M1067.7 377.4h0M1068.1 247h0M1068.6 243.5h0M1069 256.2h0M1068.1 376.6h0M1068.1 375.3h0M1068.9 383.1h0M1069.6 246.2h0M1069.6 377.3h0M1069 371.6h0M1070.2 233.2h0M1070.5 257.8h0M1070.3 251.9h0M1070.2 237.6h0M1070.9 382.5h0M1071.6 220.1h0M1071 255.7h0M1071.3 372.4h0M1073 380.1h0M1072.1 375.3h0M1073.7 223.6h0M1073.1 251.3h0M1073 371.7h0M1073.7 391.8h0M1074 254h0M1074.8 387.5h0M1074.1 380.5h0M1074.4 384.8h0M1074.9 228.2h0M1075.4 259.4h0M1075 259.8h0M1076.2 247.6h0M1077.1 255.7h0M1077.6 263h0M1078 425h0M1077.5 374.8h0M1077.1 381h0M1078.9 225.5h0M1078.1 256.6h0M1078.1 256.3h0M1078.7 248.8h0M1079.1 382.6h0M1078.8 373.6h0M1078 390.8h0M1079.8 252.7h0M1079.7 376.3h0M1079.9 258.3h0M1080.8 375.5h0M1081.9 267.4h0M1081 251.1h0M1081.7 262.8h0M1081 269.9h0M1081.9 263.4h0M1081.3 185.8h0M1081.8 234h0M1081.6 239.9h0M1081.7 217.7h0M1081.6 225.7h0M1081.5 266.7h0M1081.3 260.1h0M1081.5 263h0M1081.2 256.7h0M1081.5 265.1h0M1081.4 259.5h0M1081.1 253.6h0M1081.2 258.6h0M1081.7 247.9h0M1081.5 247.2h0M1082 265.7h0M1081.4 259.3h0M1081.4 264.8h0M1081.9 388h0M1081.8 381.7h0M1081.4 377h0M1081.3 379.3h0M1081.8 379.3h0M1081.1 388.9h0M1081.8 377.3h0M1081.7 386.1h0M1081.7 385.5h0M1081 377.9h0M1080.9 379.3h0M1081.5 410.4h0M1082 264h0M1083.3 261.7h0M1083.5 267h0M1084 389h0M1085.1 267.3h0M1084.1 269.9h0M1085 379.7h0M1084.3 397.1h0M1085.1 265.6h0M1085.3 251.7h0M1086 272h0M1085.4 382.8h0M1085.2 386.4h0M1086.8 264.6h0M1086.7 265.5h0M1087.7 274.7h0M1087.3 384.9h0M1087.9 376.9h0M1089.7 379.2h0M1089.5 385h0M1091 269.2h0M1091.1 274.2h0M1090.9 379.1h0M1090.9 270.4h0M1091.9 253.6h0M1091.8 272.8h0M1092.1 385.2h0M1092.9 255.2h0M1092.4 265.8h0M1092 395.4h0M1094.1 270.7h0M1093.5 278h0M1092.9 275.8h0M1093 277.9h0M1093.4 272.5h0M1093.2 268.8h0M1093.5 261.2h0M1093.1 219.3h0M1093.5 387.6h0M1093.9 384.8h0M1094 382.3h0M1094 275.3h0M1094.3 233.7h0M1094.7 379.9h0M1095.9 275.5h0M1095.4 275.3h0M1095.3 234.3h0M1095.1 384.7h0M1097.9 272.1h0M1097.8 274.2h0M1097.2 280.9h0M1097.7 417.5h0M1097.5 394.3h0M1097.1 388.9h0M1097.7 384h0M1098.1 269.4h0M1098.3 273h0M1098.1 389.1h0M1099.3 281.1h0M1099.6 266.3h0M1100.9 389.8h0M1100.8 392.5h0M1100.4 388.3h0M1101 270.4h0M1100.9 394.4h0M1102.1 258.6h0M1102.5 260.2h0M1103 385.3h0M1103.5 397.9h0M1103.1 406.9h0M1104 286.4h0M1104 272.8h0M1104.3 284.9h0M1105 282.6h0M1104.9 409.5h0M1104.4 434h0M1105.9 412.6h0M1105.2 398.3h0M1107.5 397.5h0M1108.8 284.9h0M1108.2 263.1h0M1108.4 272h0M1108.2 286h0M1108.3 419.9h0M1109.8 289.6h0M1110 269.5h0M1109.2 283.4h0M1109.8 283.6h0M1109.4 274h0M1109.1 278.9h0M1109.5 252.4h0M1109.8 279.4h0M1109.8 286.7h0M1109.9 283.5h0M1109.2 288.6h0M1109.5 274.9h0M1109.6 283h0M1109.4 286.4h0M1109.9 290h0M1109.9 390h0M1109.6 395.6h0M1109.1 397.5h0M1109.3 403.2h0M1109.8 408.6h0M1109.9 399.2h0M1109.7 393h0M1109.1 420.3h0M1110.9 286h0M1110.1 392.3h0M1111.5 288.2h0M1111.4 279.8h0M1111.9 280.9h0M1112 291.2h0M1110.9 390.5h0M1111.6 404.1h0M1112.2 274.7h0M1112.7 281.4h0M1112.5 392.2h0M1113.1 402.2h0M1113.8 398.1h0M1114 290.8h0M1115.2 286.9h0M1115.5 291.7h0M1115.9 295h0M1116 399.4h0M1117.2 219.4h0M1117.8 300.9h0M1119 401.4h0M1119.8 294h0M1119.5 275.9h0M1119.4 299.6h0M1119.4 269.3h0M1119.6 286.4h0M1119.6 293.3h0M1119.6 298.4h0M1119 423.1h0M1120 406.2h0M1118.9 443.2h0M1119.7 411.9h0M1119.5 421.5h0M1120.7 298.3h0M1120.7 285.7h0M1120.4 301.4h0M1121.1 411.2h0M1121.2 418.9h0M1124 302.6h0M1123.8 406.8h0M1123.1 411.6h0M1124.3 294.3h0M1124.4 254.2h0M1124.2 296.9h0M1124.3 442.8h0M1125.8 299.6h0M1125 302.2h0M1125.4 306.5h0M1125.1 427.7h0M1126.4 296h0M1127 265.1h0M1126.6 406.6h0M1128 298.7h0M1127.6 403.7h0M1127 413.4h0M1128.4 309.9h0M1128.5 308.2h0M1128.1 310h0M1128 401.8h0M1128.1 400.1h0M1129.4 282.9h0M1129.2 304.4h0M1129 281.3h0M1129 288.4h0M1129.4 265.3h0M1129.9 408.1h0M1129 399.2h0M1129.6 411h0M1129.2 412.1h0M1130.3 294.9h0M1131.9 305.4h0M1131.2 296.5h0M1131.5 304.9h0M1131.8 296.2h0M1131.4 299.7h0M1133 239.3h0M1132.9 304.3h0M1132.1 294.5h0M1132.7 218.8h0M1132.6 283.8h0M1132.9 307.5h0M1132.2 305.8h0M1132.1 294.4h0M1132.8 299.4h0M1132.7 307.2h0M1132.5 307.1h0M1132.7 293h0M1132.1 308.1h0M1132.4 430.3h0M1132.3 400.9h0M1132.8 407.9h0M1132.4 406.4h0M1134 303.8h0M1133.8 256.7h0M1133.5 448.5h0M1133.2 414.6h0M1133.8 409.5h0M1134.5 284.7h0M1134.3 302.3h0M1134.9 283.8h0M1134.7 415.1h0M1134.1 396.6h0M1134.2 403.8h0M1134 399.1h0M1135.9 300.5h0M1135.9 298.3h0M1136.4 295.8h0M1136.9 390h0M1137.2 255.7h0M1136.9 390.7h0M1138.2 392.2h0M1140 237.3h0M1139.9 303.5h0M1139.8 386.7h0M1140.5 301.9h0M1140.4 299.8h0M1141.8 288.6h0M1141.6 396.2h0M1142.3 413.4h0M1142.3 385.7h0M1143.7 287h0M1144.3 282.1h0M1144.6 384.5h0M1146 285.7h0M1145.1 300.9h0M1146.9 292.8h0M1146.1 286.7h0M1146.1 248.2h0M1146.4 300.5h0M1146.5 301.4h0M1147 293.7h0M1146.9 293.7h0M1146.6 279h0M1146.3 297.6h0M1146.4 291.5h0M1146.5 286.1h0M1146.6 295.8h0M1146.1 216.7h0M1145.9 295.6h0M1146 300.2h0M1146.9 293.4h0M1147.1 283.7h0M1146.6 274.5h0M1145.9 288.7h0M1146.2 294.4h0M1146 287.1h0M1146.4 290h0M1146.4 291.5h0M1146.8 300.1h0M1146.6 277.5h0M1146.6 299.8h0M1147.1 271h0M1146 280.4h0M1146.7 270.1h0M1147 296.8h0M1147 275.5h0M1146.6 384.6h0M1146.3 386.7h0M1146.6 397.2h0M1146.6 385.9h0M1146.6 410.5h0M1146.6 408.4h0M1145.9 434.9h0M1146.6 388.3h0M1147.1 395.8h0M1146.5 392.2h0M1146.5 392.6h0M1147.3 302.3h0M1147 406.9h0M1148.4 298.8h0M1148.7 299h0M1150.2 255.5h0M1150.4 290.1h0M1150.9 294.6h0M1150.6 298.1h0M1151 278.7h0M1150.2 300.7h0M1151 290.8h0M1150.9 384.5h0M1150.6 388.1h0M1150 411.4h0M1151.3 298.9h0M1151.6 282.9h0M1151.9 382.2h0M1153 298.1h0M1152.2 276.8h0M1152.9 301.7h0M1154.3 240h0M1155 403h0M1155.9 395.6h0M1156.9 299.8h0M1157.7 285.4h0M1157.8 301.3h0M1157.3 281.5h0M1157.2 301.7h0M1157.5 397.4h0M1157.1 399.7h0M1157.3 382.4h0M1158.7 301.4h0M1158.2 301.5h0M1158.9 286.5h0M1158.4 294.9h0M1158.3 381.3h0M1158.8 384h0M1158.8 394.8h0M1158.7 389.3h0M1158.4 382.5h0M1159.2 279.8h0M1159.2 294.1h0M1159.7 270.1h0M1159.4 290.2h0M1161 296.8h0M1161.8 389.8h0M1162.9 290.7h0M1162.4 264.5h0M1162.7 296h0M1163 397.9h0M1162.3 395h0M1163.5 290h0M1164 262.4h0M1163.5 411.4h0M1163.1 419.4h0M1163.9 229.5h0M1164.9 405.1h0M1164.9 389.6h0M1164.8 387.1h0M1164.4 391.4h0M1165 276.9h0M1165.2 239.3h0M1165.4 289.6h0M1166 290.8h0M1166.5 296.6h0M1166.4 284.5h0M1166.4 237h0M1166.4 291.1h0M1167 294.8h0M1166.6 284.2h0M1166.2 392h0M1166.5 390.1h0M1167.1 392.4h0M1166.1 395h0M1166.1 386.5h0M1166.8 390.6h0M1167.4 275.6h0M1167.5 392h0M1167 384h0M1169.6 296.1h0M1169.2 281.2h0M1169.5 384.8h0M1169.8 384.7h0M1169.2 395.1h0M1169.2 390.8h0M1169.1 386.6h0M1169.4 402.9h0M1169.3 398.1h0M1170.1 284.2h0M1170.7 241.9h0M1170.7 285.1h0M1172.8 262.8h0M1172.3 274.2h0M1172.7 289.3h0M1172.8 287.9h0M1172.8 392.2h0M1172.9 396.8h0M1172.9 231.2h0M1174.3 272.8h0M1174.8 388.3h0M1174.9 282.9h0M1176.7 288.9h0M1176.7 271.7h0M1176.8 394.4h0M1177.6 397.1h0M1177.1 403h0M1177.3 392.7h0M1177.3 389.8h0M1177.6 403h0M1178 287.6h0M1178.5 285.7h0M1179 285.3h0M1178.2 422.2h0M1179.2 279.5h0M1180 247h0M1179.3 291.6h0M1179.1 286h0M1180 283.4h0M1179.9 392.4h0M1180 286h0M1180 395.2h0M1180.2 392.3h0M1181.5 284.7h0M1181.8 267.8h0M1182.3 279h0M1183 286.5h0M1182 274.6h0M1183 249.7h0M1182.7 288.2h0M1182.5 284.6h0M1182.3 261.7h0M1182.7 278.3h0M1182.7 285.5h0M1183.1 401.3h0M1182.8 397.5h0M1183.1 285.1h0M1183.1 401.7h0M1187 280.9h0M1187.1 282.2h0M1186.1 255.3h0M1187 405h0M1186.9 397.7h0M1187 275.3h0M1187 431.6h0M1187.8 413.5h0M1189 287h0M1189.9 278.9h0M1189.6 283.1h0M1189.5 288.1h0M1189.9 287.2h0M1189.4 271.5h0M1190 435.6h0M1189 429.9h0M1189.8 408.8h0M1190.9 276.3h0M1189.9 285h0M1190.2 251.3h0M1190.1 289.2h0M1190.8 449.4h0M1190.1 394.1h0M1190.7 416.5h0M1192 282.3h0M1191.4 290.2h0M1192.8 261.1h0M1192.7 288h0M1192.5 278.5h0M1192.5 286.3h0M1192.1 264.4h0M1192.4 257.3h0M1192.2 284h0M1192.7 400.7h0M1193 403.2h0M1192.5 401.8h0M1192.2 443.4h0M1192.3 394.1h0M1192.9 282.1h0M1193.5 252.2h0M1193.7 258.5h0M1193.8 270.6h0M1193.8 284.8h0M1193.6 286.7h0M1194.9 265.7h0M1194 234.6h0M1194 288.3h0M1194.8 272.5h0M1194.8 276.2h0M1194.6 280.9h0M1194.7 253.7h0M1194.6 275.8h0M1194.8 281.6h0M1194.1 400.9h0M1194.4 397.6h0M1194.6 397.7h0M1194.4 396.4h0M1194.3 397.6h0M1195.8 293.6h0M1195.4 286.3h0M1195.3 397.9h0M1194.9 391h0M1196 410.8h0M1195.5 391.7h0M1196.2 287.6h0M1196.9 273.8h0M1196.4 282.2h0M1196.9 287.7h0M1196.9 261.9h0M1196.6 289.9h0M1196.8 228.5h0M1196.1 393.9h0M1196.8 387.8h0M1197.5 274.8h0M1198 257.9h0M1199 273.3h0M1199.3 289h0M1199.3 280.2h0M1199.9 394.7h0M1199.8 390.6h0M1200 279.8h0M1200.6 285.8h0M1200.3 398.9h0M1201.1 280.7h0M1201.6 287.6h0M1201.5 409.4h0M1202.2 291.9h0M1203.1 293h0M1203.2 293.6h0M1203.4 289.6h0M1203.4 274.3h0M1203.4 286h0M1204 273.4h0M1204 287.4h0M1204.1 389.8h0M1203.7 394.9h0M1203.2 392h0M1204 388.3h0M1205.7 289.6h0M1204.9 391.9h0M1205.4 396.9h0M1205.2 384h0M1206.2 388.7h0M1208 396.6h0M1210.2 290h0M1210.8 238.4h0M1210 292.2h0M1210.2 238.3h0M1211.3 285.5h0M1211.3 268.4h0M1211.1 382.7h0M1212.2 296.7h0M1213.6 298.6h0M1213.1 292.8h0M1214 390.8h0M1214.1 289.7h0M1215.2 382.8h0M1215.5 388.6h0M1216.9 300.6h0M1216.3 300.9h0M1216.6 298.9h0M1216.1 278.4h0M1216.9 296h0M1216 396.3h0M1216.9 396.2h0M1216.1 389.2h0M1217.1 299h0M1217.1 293.4h0M1217.6 293.8h0M1217.4 390.9h0M1217 399.8h0M1218.5 277.6h0M1218.6 276.1h0M1218.2 297.4h0M1219 297.8h0M1218.4 389h0M1218 393.2h0M1218.9 398.2h0M1219 402.2h0M1219.7 277.3h0M1220.9 289.2h0M1220.3 292.3h0M1220.8 287.7h0M1220.3 266.3h0M1220.4 280.7h0M1220.8 404.6h0M1220.3 391.8h0M1221 386.4h0M1221.1 298.4h0M1220.9 249.7h0M1221.5 274.8h0M1221.5 287.6h0M1221.6 291.8h0M1222 384h0M1221.1 384.2h0M1221.7 395.3h0M1221.7 401.1h0M1222.1 277.1h0M1222.8 288.4h0M1222.5 297.2h0M1222.8 265.1h0M1222.5 292.1h0M1223.1 294.8h0M1222.7 276.8h0M1222.8 386.2h0M1222.9 389.6h0M1223.4 279.6h0M1223.9 284.5h0M1224.1 394.1h0M1224 385.9h0M1224.8 291.7h0M1224.3 271.8h0M1224.7 220.8h0M1224 297.2h0M1224.6 296.7h0M1225 286.9h0M1225.9 259.8h0M1225.4 392.8h0M1225.6 387.9h0M1226 269.2h0M1226.3 293.4h0M1226.4 293.4h0M1226.9 231.3h0M1226.2 247.6h0M1225.9 291.6h0M1226 290.6h0M1226.3 284.1h0M1226.6 278.6h0M1226.3 281.7h0M1227.5 277.6h0M1227.2 392.9h0M1229 407h0M1228.9 406.5h0M1229.8 387.9h0M1230.6 289.5h0M1230.9 294.1h0M1231 289.7h0M1230.3 289.9h0M1231.1 293h0M1230.9 282.6h0M1230.6 384.6h0M1231.1 398.4h0M1230 414.2h0M1232 281.5h0M1232.3 279.7h0M1233 279.1h0M1233 248h0M1232.9 287.6h0M1232.4 291.7h0M1232.2 248.7h0M1232.6 388.1h0M1232.8 386h0M1232 394.7h0M1233.3 396.1h0M1234.9 281.4h0M1235 238.1h0M1234.2 279.2h0M1235.1 279.6h0M1234.7 270.9h0M1234.4 262.8h0M1234.9 278.3h0M1234.9 287.2h0M1234.5 290.2h0M1234.1 392.2h0M1234.4 410.8h0M1234.4 385h0M1234.4 392.6h0M1234 382.8h0M1234.1 396.5h0M1234.9 386h0M1235 404.5h0M1233.9 384.9h0M1234.9 285.7h0M1236 385.5h0M1236 396h0M1238.4 384.7h0M1238.3 396h0M1239.7 289.1h0M1240 281.6h0M1239.8 289h0M1239.3 274.1h0M1239.6 288.6h0M1239.5 269.4h0M1239.7 281.1h0M1239.4 276.6h0M1240.6 208.8h0M1240.2 281.8h0M1240.8 272.8h0M1241.4 462.2h0M1241.4 414.2h0M1242 226.5h0M1242.5 283.1h0M1242.7 268.1h0M1242.7 248.8h0M1243.4 284.9h0M1243.5 285.1h0M1243.1 270.5h0M1243.4 401.8h0M1243.3 415.9h0M1243.6 391.1h0M1243.8 383.9h0M1243.2 380.5h0M1244.6 281.3h0M1244 261.8h0M1244.4 264h0M1246.1 278.8h0M1246 249.8h0M1245.7 396h0M1244.9 383.1h0M1245.7 400.9h0M1245.9 276.5h0M1246.3 281.7h0M1247.1 286.9h0M1247.4 288.9h0M1247.8 287.2h0M1247.8 264.1h0M1247 265.5h0M1247 288.8h0M1247.9 261.3h0M1247.2 278.1h0M1247 259.8h0M1246.9 283.1h0M1247.4 228h0M1247.9 266.9h0M1248.1 275.9h0M1248 266.6h0M1247 239.4h0M1247.2 268.2h0M1247.3 283.1h0M1247 431.6h0M1247.1 388.7h0M1247.5 448.1h0M1247.5 395.8h0M1249 270.3h0M1248.9 384.4h0M1249.6 280.5h0M1249 287.1h0M1249 282.7h0M1249.8 287.6h0M1249.6 395.5h0M1250.6 282.3h0M1250.2 278.7h0M1250.9 383.1h0M1251 392.4h0M1251 275.4h0M1253.8 274.5h0M1252.9 280.8h0M1254.7 285.5h0M1253.9 287.2h0M1253.9 388.1h0M1254.4 383.9h0M1253.9 383.2h0M1255.4 280.5h0M1255.3 279.7h0M1255.9 286.1h0M1255.5 266.3h0M1255.2 286.4h0M1255.4 403.6h0M1256.6 275.8h0M1256.3 284.3h0M1256.7 390.8h0M1256.6 391.1h0M1256 385.5h0M1258 255.4h0M1257.8 284.3h0M1257.3 382.1h0M1257.9 382.5h0M1258.6 284.4h0M1259 281.6h0M1259.1 264.9h0M1259.2 286.6h0M1259.7 273.5h0M1259.9 277.6h0M1259.2 267.8h0M1259.1 385.9h0M1259.1 380.5h0M1259.3 378.4h0M1259.7 401.4h0M1259.2 378.5h0M1260.6 276.4h0M1260.8 379.6h0M1260.6 381.7h0M1261.4 410.1h0M1261.5 384h0M1262.1 398.1h0M1263.1 242.7h0M1264.8 287.1h0M1264.4 280.8h0M1264.8 272.5h0M1265.1 222.3h0M1265.5 275.7h0M1265.4 250h0M1264.9 285.7h0M1265.5 282.8h0M1265 286.8h0M1265 282.4h0M1265.4 379.7h0M1265.5 382.3h0M1265.4 385.9h0M1267.8 285.5h0M1267.9 385.5h0M1268.4 382.7h0M1270.1 282.1h0M1269.6 389.6h0M1269.3 397.7h0M1271.7 285.3h0M1272 287.4h0M1271.2 285.5h0M1272 236.8h0M1272.9 292.6h0M1273.8 269.7h0M1273 268.9h0M1273.3 259.5h0M1273.5 267.3h0M1273.5 259.3h0M1273.1 381.8h0M1274.9 281.2h0M1274.5 291.6h0M1274 284.5h0M1275 289.4h0M1274.5 274.7h0M1274.9 279.9h0M1274.6 247.9h0M1274.9 293.2h0M1274.2 291.3h0M1274.5 291.8h0M1274.5 280.9h0M1274.1 384.3h0M1275.9 289.1h0M1276 252.7h0M1275 231.7h0M1275.4 287.3h0M1275.8 290.2h0M1275.1 259.3h0M1276.1 284.1h0M1275.4 261.7h0M1275.4 380.7h0M1275.8 387.5h0M1275.2 381.8h0M1274.9 425.5h0M1275 389.9h0M1275.4 394.8h0M1276 294.5h0M1276.4 294h0M1276.3 241.6h0M1275.9 276.3h0M1276.5 386.5h0M1276.6 379.6h0M1276.3 385h0M1277 292.7h0M1278.9 417.3h0M1279.5 397.3h0M1280.6 382.5h0M1280.9 292.6h0M1281.2 238.7h0M1281.9 288.2h0M1281.9 291h0M1281.6 407.3h0M1282.5 270.3h0M1282.2 290.6h0M1283.2 290.7h0M1284.2 279.7h0M1284.9 280.2h0M1286.1 277.8h0M1285.1 275.5h0M1285.3 277.7h0M1285.8 281.1h0M1285.5 290.4h0M1285.6 285.1h0M1285.5 265h0M1285.2 275.8h0M1285.5 286.3h0M1285.2 279.3h0M1285.5 269h0M1285.2 284.2h0M1286 263.6h0M1285.2 249h0M1285.7 382.4h0M1285.9 381.9h0M1285.3 394.1h0M1285.7 388h0M1285.3 383.5h0M1285.7 398.6h0M1286.7 290.9h0M1287 278.6h0M1287.5 390.8h0M1288.3 288.3h0M1288.6 285h0M1288.5 277.7h0M1288.8 410.8h0M1287.9 383h0M1288.6 395.3h0M1289.4 288.3h0M1290.6 408.3h0M1290.7 384.5h0M1290.9 410.9h0M1291.5 285.4h0M1291.3 262.3h0M1291.9 385.1h0M1292.6 241.1h0M1292 255.6h0M1292.1 273.5h0M1292.1 280.1h0M1292 276.9h0M1292.7 391.7h0M1292.8 405.5h0M1292.9 381h0M1293 388.6h0M1293.1 266.6h0M1293.5 224.5h0M1293.5 405.2h0M1293.7 384.7h0M1293.5 393.7h0M1293.4 383.9h0M1293.2 393.8h0M1295.1 277.3h0M1295 276.1h0M1295.9 271.9h0M1296.7 273.1h0M1297.1 263.9h0M1298.5 262h0M1299.3 278.1h0M1300.1 381.4h0M1300.9 275.4h0M1300.6 265.9h0M1300.2 394.2h0M1300.6 398.6h0M1301.4 274.7h0M1301 272.7h0M1301.7 251.3h0M1301.6 269.8h0M1301 250.9h0M1301.7 272.8h0M1301.5 388.4h0M1301.2 383.8h0M1301.3 391.8h0M1302 269.3h0M1302 272.9h0M1303 387.2h0M1304 273.1h0M1303.9 276.6h0M1303 396.3h0M1304.5 265.5h0M1305 397.4h0M1305.7 255.5h0M1305 261h0M1306.1 228.1h0M1307.8 264.1h0M1307.8 272h0M1307.9 405.7h0M1308 388.2h0M1308.7 262.3h0M1308.3 271.8h0M1308.9 378.8h0M1308.2 389.2h0M1310.4 268.4h0M1310.5 251.2h0M1310.4 262h0M1311 266.4h0M1310.5 269.8h0M1310.1 266h0M1310.5 376.3h0M1310.4 389.2h0M1312 272.8h0M1311.7 274h0M1311.2 378.9h0M1311.8 382.4h0M1313 273.3h0M1313.3 268.2h0M1312.9 262.9h0M1313.3 384.6h0M1313.3 397.5h0M1314.4 266.9h0M1314.2 386.3h0M1314.6 381h0M1315 382.1h0M1315.1 378.4h0M1316.2 395.7h0M1317.7 377.3h0M1319.4 386.8h0M1320 278.6h0M1321.3 288.8h0M1321.2 385.5h0M1323.1 262.1h0M1324.6 279.2h0M1324.4 290.1h0M1324.1 294.3h0M1324.2 291.9h0M1324.9 298.4h0M1325 384.7h0M1324.6 380.7h0M1325.7 297.2h0M1325.3 291.5h0M1325.5 298.7h0M1325.9 292.2h0M1325.1 297.2h0M1325.9 295.9h0M1325.7 383.9h0M1326.5 380.5h0M1328.6 275h0M1328.2 291.9h0M1329.4 274h0M1329.6 283h0M1328.9 289.9h0M1331.6 276.1h0M1333 267h0M1333.5 399.8h0M1334.7 283.2h0M1334.7 387.6h0M1334.8 393.6h0M1335.4 395.3h0M1337 290.3h0M1337 259.6h0M1336.9 392.3h0M1338.5 397.2h0M1339.5 300.6h0M1339.9 299.7h0M1340 299.8h0M1339.1 298.2h0M1339.7 287.1h0M1339.6 392h0M1340 394.2h0M1340 399.6h0M1341.6 289.7h0M1341 299.3h0M1341.5 393.6h0M1342.5 289.4h0M1343.5 302.2h0M1343.4 401.1h0M1343.9 394h0M1344.3 293.5h0M1346.1 393.9h0M1346.1 306.2h0M1346.9 396h0M1347.5 305.8h0M1347.3 394.8h0M1347.4 411.1h0M1348 298.7h0M1348.3 301.1h0M1348.6 295.6h0M1348.6 285.8h0M1348.1 397.8h0M1351.8 301.1h0M1351.6 400.5h0M1352.9 310.5h0M1354.1 293.8h0M1354 307.4h0M1354 398.7h0M1352.9 400.1h0M1355.5 401.5h0M1358 422.5h0M1357.5 410.2h0M1358.3 413.7h0M1359 299.2h0M1359.5 298.1h0M1359.2 306.3h0M1360.3 314.2h0M1359.9 302.6h0M1361.3 303.9h0M1364.3 295.3h0M1364.8 296.5h0M1366 315h0M1365 305.9h0M1365.5 308.3h0M1365.2 423.8h0M1366.3 299h0M1366.9 307.4h0M1366 299.2h0M1366.2 302.2h0M1366.7 304h0M1367 420.9h0M1367.1 428.1h0M1366.6 439.4h0M1366.7 426h0M1367.2 311.7h0M1367.9 418.4h0M1368.7 423.5h0M1369.1 287.2h0M1370.9 415.8h0M1372 322.4h0M1371.4 320.9h0M1371.6 297.6h0M1371 427.2h0M1371.2 419.1h0M1372.1 313.3h0M1372.3 312.4h0M1373.8 310.4h0M1373.7 318.8h0M1373.1 322.9h0M1373.8 323.1h0M1373.1 319.2h0M1373.5 324.2h0M1373 416.2h0M1373.1 420.3h0M1373.1 431.7h0M1373.9 425.9h0M1373.6 418.7h0M1373.6 450.4h0M1374.4 324.1h0M1374.7 324h0M1376.1 329h0M1375.5 319.2h0M1375 313.6h0M1375.8 322.5h0M1375.7 317.2h0M1375.5 330.2h0M1375.6 328h0M1375.4 326.2h0M1375.6 423.3h0M1375.2 433.5h0M1375.1 420.1h0M1375.9 418.7h0M1375.1 435.7h0M1376 421h0M1376.1 432h0M1375.9 325.9h0M1376.5 329.6h0M1376.1 321.9h0M1376.3 416.9h0M1376 416.6h0M1376.9 416.7h0M1377.9 316.4h0M1380 324.2h0M1380.7 327.2h0M1380.2 421.4h0M1380.2 418.1h0M1380.7 427.9h0M1380.6 421.8h0M1381 414.1h0M1381.5 320.3h0M1381.9 416.5h0M1383.2 315.2h0M1383.6 420.6h0M1384.5 425.7h0M1388.1 304.7h0M1389.1 408.9h0M1389 405.7h0M1389.9 320.8h0M1391 304h0M1390.9 316.6h0M1391.3 395.6h0M1392.2 313.3h0M1392.3 309.2h0M1392.9 316.6h0M1393 307.6h0M1392.2 396h0M1393.7 296.1h0M1393 396h0M1393.4 393.4h0M1394.8 296.1h0M1395.2 391.9h0M1397 314.2h0M1396.2 397.2h0M1396.1 407.8h0M1396.4 389.7h0M1397.6 309.5h0M1397.3 309.3h0M1397 386.4h0M1399.7 307.4h0M1399.8 384.7h0M1399.5 384.1h0M1401.3 311.1h0M1404 319.2h0M1401.9 394h0M1405.7 317.2h0M1402.4 317.4h0M1405.7 318.4h0M1408.2 388.6h0M1407.6 383.8h0M1408.7 389.9h0M1413.2 318.1h0M1412.6 315.4h0M1412.6 386.4h0M1412.9 316.9h0M1410.7 320h0M1413.5 390.3h0M1411.4 389.7h0M1415.3 317.5h0M1415.1 321.5h0M1412.6 392.2h0M1413.6 400.2h0M1416.8 314.1h0M1418.1 397.4h0M1420.4 402h0M1420.2 332h0M1419.8 411.2h0M1424.3 344.3h0M1421.7 342.4h0M1422.5 447.7h0M1427.5 340.1h0M1423.8 336.9h0M1427.4 327.5h0M1425.4 340.6h0M1428.2 410.7h0M1430.6 343h0M1431.1 342.2h0M1431.4 335.5h0M1437 338.3h0M1435.3 329.9h0M1437.2 334.8h0M1437.6 398.1h0M1442.5 406.7h0M1441.4 335.5h0M1439.6 337.3h0M1440.1 401.1h0M1445.2 409.2h0M1444.8 335.8h0M1446.1 332.5h0M1448.6 401.9h0M1449.5 323.4h0M1447.8 400.6h0M1448.8 398.4h0M1449.7 402.6h0M1451 412.1h0M1451.2 396.2h0M1451.3 331.3h0M1454.4 327.9h0M1452.3 396.5h0M1457.7 330.6h0M1457 394.4h0M1456.8 399.5h0M1454.8 399.2h0M1459.5 392h0M1459 326.9h0M1461.4 330.9h0M127.9 293.3h0M186.4 293.8h0M186.4 301.7h0M272.4 293.3h0M146.3 313.6h0M227 308.8h0M386.3 317.7h0M138.7 419.9h0M138.2 426.3h0M145.8 413.9h0M155.4 414.4h0M166.1 434.9h0M173.3 442.1h0M184 440.2h0M191.2 438.3h0M199.6 439.2h0M189.3 447.3h0M189.3 455.7h0M208.4 457.4h0M221.5 406.3h0M239 404.3h0M238.5 411h0M252.8 380h0M252.8 391.2h0M273.1 400.1h0M284.3 413.2h0M293.9 415.1h0M293.9 419.2h0M301.1 415.1h0M302.3 400.8h0M313 387.2h0M319.7 400.1h0M334.5 397.2h0M359.6 454.5h0M359.6 458.1h0M363.2 474.1h0M367.5 481.3h0M363.6 488.4h0M377 482h0M377 489.1h0M395.4 487.2h0M363.2 428.2h0M370.3 452.1h0M377.5 454.5h0M384.7 468.8h0M387 476h0M377.5 473.6h0M365.3 428.9h0M372.4 426.1h0M369.9 436.6h0M359.6 441.6h0M359.2 439h0M359.9 426.7h0M367.5 453.1h0M361 431.5h0M371.9 457.4h0M370.8 437.7h0M379.4 425.1h0M376.8 433.8h0M381.6 437.5h0M383.6 464.2h0M382 455.2h0M387.5 447.2h0M386.4 435.4h0M380.6 440.9h0M388 449.3h0M383.6 455.4h0M385.3 444.5h0M389.4 459.7h0M382.8 455h0M386.2 466.5h0M578.4 207.2h0M548.1 228.2h0M578.4 227h0M550 242.1h0M552.4 246.8h0M486 242.1h0M486 246.1h0M486 262.1h0M507.5 271.2h0M507.5 274.1h0M464 286.7h0M464 292.2h0M464 298h0M447.3 305.8h0M447.3 309.4h0M458.5 308.9h0M456.1 320.2h0M456.1 322.6h0M644.1 266.4h0M678.2 273.6h0M644.1 289.1h0M644.1 293.2h0M649.6 293.9h0M611.4 284.3h0M611.4 290.3h0M610.2 295.1h0M598.2 308.2h0M598.2 326.1h0M482.4 356h0M482.4 362h0M482.4 367.9h0M476.4 373.4h0M476.4 376.3h0M505.8 367.2h0M513.4 378.7h0M505.1 384.7h0M521.8 391.8h0M521.8 399.7h0M530.2 409.7h0M531.4 411.6h0M530.9 425.3h0M529.4 433.1h0M530.4 455.1h0M573.6 377h0M579.1 383.9h0M573.6 399h0M616.1 401.4h0M677 380.6h0M678.2 386.3h0M656.7 378.7h0M656 388.2h0M416.7 407.3h0M420.3 415.7h0M420.3 421.7h0M429.9 408.5h0M429.9 414.5h0M426.3 419.3h0M446.6 413.3h0M450.2 426.4h0M445.4 434.8h0M450.6 443.2h0M450.6 452.7h0M462.6 437.2h0M462.6 449.1h0M462.6 469h0M457.1 423.5h0M461.3 416.8h0M451.9 442h0M447.4 431.4h0M445.6 438.4h0M457.7 434.7h0M459.5 424.5h0M456.5 435.5h0M454.6 430.1h0M458.9 449.3h0M452.8 438.3h0M445.9 439.8h0M455.7 451.3h0M458.6 423.3h0M716.3 194.5h0M725.8 205h0M720.3 208.5h0M734.7 204.5h0M753.3 206.2h0M779.6 204.5h0M775.5 208.5h0M790.3 208.5h0M767.6 222.4h0M767.6 231.5h0M778.8 222.4h0M790.3 217.6h0M790.3 224.8h0M806.3 229.6h0M806.3 232h0M806.3 246.3h0M806.3 252.3h0M806.3 263h0M820.2 259.9h0M814.2 263h0M853.6 240.3h0M847.2 251.1h0M865.5 241.5h0M865.5 249.9h0M838.1 255.8h0M881.1 218.8h0M882.3 221.2h0M882.3 231.5h0M903.3 188.5h0M912.1 210.5h0M912.1 221.2h0M918.1 234.3h0M921.7 243.2h0M979.5 157.9h0M979.5 163.2h0M970.6 209.3h0M979.5 209.3h0M979.5 215.9h0M970.6 218.8h0M970.6 223.1h0M979.5 230.3h0M967.5 237.4h0M967.5 246.3h0M970.6 252.3h0M937.2 264.2h0M957 269h0M964.2 269h0M947.9 278.5h0M948.4 285h0M955.6 284.5h0M740.2 311.5h0M740.2 317.9h0M747.3 311.5h0M747.3 317.9h0M753.3 319.1h0M753.3 326.3h0M757.4 342.5h0M757.4 352.1h0M757.4 359.7h0M719.9 301.2h0M699.6 344.2h0M790.3 376.4h0M788.4 386h0M822.6 385.3h0M828.5 384.1h0M813.5 376.4h0M828.5 375.3h0M802.3 368.1h0M856.5 371.2h0M862.4 376.4h0M862.4 389.6h0M862.4 393.2h0M876.3 384.1h0M876.3 392h0M884.7 371.2h0M911.6 374.1h0M911.6 382.4h0M921.2 384.8h0M921.2 393.2h0M903.3 351.4h0M908.5 357.3h0M914.5 357.3h0M914.5 364.5h0M921.2 364.5h0M903.3 335.8h0M952.7 414.7h0M958.7 402.7h0M964.7 399.1h0M998.5 60.3h0M998.5 81.3h0M998.5 90.2h0M998.5 169h0M979.4 157.7h0M979.4 163h0M1073.3 142.2h0M1073.3 150.3h0M1062.6 163.5h0M1062.6 169h0M1101.5 175.4h0M1101.5 179.7h0M1103.2 184h0M1101.5 186.2h0M1035.1 188.6h0M1035.1 194h0M1031.5 200h0M1035.6 210.1h0M1040.3 210.1h0M1040.3 216.3h0M1062.6 198.1h0M1073.3 206h0M1073.3 215.5h0M1073.3 224.4h0M970.1 209.1h0M979.4 208.4h0M979.4 211.5h0M979.4 216.3h0M970.1 217.9h0M970.1 222.7h0M979.4 230.4h0M967.5 237.5h0M967.5 245.9h0M970.1 252.1h0M1109.6 220.3h0M1179.6 194.5h0M1185.6 206.5h0M1197 213.9h0M1202.3 213.2h0M1222.6 219.1h0M1185.6 219.6h0M1156.9 220.3h0M1158.1 227.5h0M1147.3 227.5h0M1147.3 231.1h0M1147.3 235.8h0M1155 233.5h0M1155 238.2h0M1155 242.5h0M1147.3 244.2h0M1152.6 249.7h0M1176 228.7h0M1179.6 221.5h0M1197 226.3h0M1202.3 231.1h0M1197 237h0M1207 241.3h0M1222.6 231.1h0M1222.6 237h0M1222.6 242.5h0M1201.1 247.8h0M1201.1 252.1h0M1173.6 241.8h0M1178.4 243h0M1031.5 225.1h0M1031.5 227.5h0M1064.2 225.1h0M1064.2 229.9h0M1067.3 234.7h0M1045.8 232.3h0M1045.8 237h0M1045.8 243h0M1011.7 237.5h0M1012.4 245.4h0M1012.4 252.6h0M1023.1 238.2h0M1023.1 247.8h0M998.5 244.2h0M997.4 247.8h0M997.4 255h0M1032.7 237h0M1032.7 243h0M1031.5 249.5h0M1037.5 250.2h0M1041.1 250.2h0M1051.3 250.2h0M1098.4 231.1h0M1104.3 230.4h0M1102 238.2h0M1106.7 235.8h0M1098.4 237h0M1093.6 243h0M1093.6 247.8h0M1087.6 251.4h0M1079.3 247.3h0M1125.4 258.1h0M1125.4 270.5h0M1112 262.1h0M1112 265.7h0M1107.9 256.1h0M1100.1 256.1h0M937.6 264.5h0M964.2 268.1h0M956.3 269.3h0M993.3 268.1h0M1208.2 257.8h0M1208.2 264.5h0M945.5 457.8h0M982.5 452.6h0M982.5 463.3h0M982.5 465.7h0M1033.2 439.4h0M1036.3 443h0M1033.2 451.4h0M1058.3 425.8h0M1082.9 444.9h0M1091.2 452.1h0M1090.5 435.8h0M1090.5 438.7h0M1099.6 433.9h0M1109.6 466.9h0M1109.6 492h0M1118.7 444.2h0M1118.7 456.9h0M1121.1 456.9h0M1127.8 447.8h0M1130.1 443h0M1132.5 435.8h0M1151.6 421.5h0M1151.6 426.3h0M1151.6 433.9h0M1151.6 442.5h0M1151.6 464.5h0M1151.6 466.9h0M1162.1 425.1h0M1176.5 434.7h0M1176.5 445.9h0M1176.5 456.1h0M1176.5 462.1h0M1176.5 465.7h0M1178.4 487.2h0M1176 492h0M1178.4 496h0M1188.4 466.9h0M1188.4 440.6h0M1188.4 428.7h0M1182 443h0M1206.6 445.4h0M1206.6 451.4h0M1206.6 462.1h0M1206.6 470.5h0M1213.5 469.3h0M1218.5 464.5h0M1213.5 441.1h0M1221.4 440.1h0M1228.1 439.4h0M1207 433.9h0M1213.5 432.3h0M1199.9 425.8h0M1206.6 423.4h0M1228.1 425.8h0M954.6 415.5h0M958.7 423.4h0M980.6 422h0M983.7 415.5h0M996.9 421.5h0M1000.5 417.2h0M1000.5 421.5h0M1010.5 421.5h0M1010 411.5h0M1020.8 417.9h0M1023.1 408.4h0M1033.2 423.4h0M1044.6 417.9h0M1058.3 416.7h0M1062.6 417.2h0M1095.3 419.1h0M1109.6 417.9h0M1091.2 423.9h0M1099.6 426.3h0M1107.9 426.3h0M1118.7 426.3h0M1137.8 410.8h0M1137.8 417.9h0M1149.3 423.9h0M1162.1 404.8h0M1168.8 417.9h0M1171.7 417.9h0M939.6 404.8h0M950.3 400h0M958.7 395.2h0M958.7 403.6h0M965.8 398.8h0M965.8 403.6h0M973.5 397.6h0M986.1 401.9h0M992.6 408.4h0M992.6 410.1h0M999.7 402.4h0M1013.6 402.4h0M1021.2 398.8h0M1021.2 404.8h0M1061.4 390.5h0M1061.4 396.4h0M1060.2 404.8h0M1060.2 412h0M1075.7 388.1h0M1082.9 409.6h0M1085.2 404.8h0M1168.8 406h0M1199.9 404.8h0M1199.9 412h0M1206.6 416.7h0M1214.2 410.8h0M1222.6 406h0M1222.6 412h0M1228.1 416.7h0M1217.8 395.2h0M1208.2 404.8h0M944.3 435.8h0M944.3 426.3h0M945.5 421.5h0M1293 180h0M1293 182.2h0M1292.4 197.3h0M1263 195.1h0M1263 201.5h0M1249.4 202.1h0M1249.4 208.4h0M1258.3 228.3h0M1258.3 232.7h0M1278.5 234.3h0M1315.1 234.3h0M1349.5 223.2h0M1349.5 248.5h0M1349.5 255.7h0M1349.5 258.9h0M1397.2 260.5h0M1397.2 263.6h0M1369.4 287.3h0M1404.1 295.2h0M1421.5 312.6h0M1427.8 322h0M1427.8 329.9h0M1307.8 252.6h0M1315.7 252.6h0M1315.7 255.7h0M1334.7 267.4h0M1293.6 251h0M1278.5 254.2h0M1270 256.7h0M1263.6 262.1h0M1255.8 244.7h0M1247.9 244.7h0M1255.8 261.1h0M1240 260.5h0M1232.1 262.1h0M1239.3 233.6h0M1232.1 235.9h0M1278.5 269.3h0M1278.5 279.4h0M1329.9 273.1h0M1329.9 279.4h0M1383.6 303.1h0M1393.1 299.9h0M1397.8 299.9h0M1404.7 304h0M1415.2 309.4h0M1366.2 298.4h0M1350.5 298.4h0M1356.8 299.9h0M1245.3 474.2h0M1271.5 466.3h0M1275.3 454.6h0M1245.3 442.9h0M1245.3 447.3h0M1232.1 435.7h0M1232.1 424.6h0M1263.6 432.5h0M1271.5 429.4h0M1271.5 423h0M1252 427.8h0M1252 423h0M1245.3 426.2h0M1294.3 435.7h0M1297.4 430.9h0M1307.8 416.7h0M1307.8 411.4h0M1307.8 403.2h0M1297.4 416.7h0M1297.4 408.8h0M1281 416.7h0M1281 412h0M1271.5 415.2h0M1263.6 412h0M1255.8 418.3h0M1245.3 416.7h0M1232.1 415.2h0M1385.2 449.9h0M1385.2 438.8h0M1385.2 434.1h0M1380.4 434.1h0M1377.3 427.1h0M1385.2 427.8h0M1352 402.5h0M1352.7 393.1h0M1442.6 419.9h0M1443.6 418.3h0M1424.6 427.1h0M1453 410.4h0M1462.5 402.5h0M1315.7 386.1h0M1334.7 385.2h0M1322 396.2h0M1322 405.7h0M1343.5 404.1h0M1073.3 111.2h0M1073.3 127.2h0" stroke="#1f77b4" stroke-width="5.5" stroke-linecap="round" fill="none"/>
<path d="M117.2 362.9 117.9 347.5 118.6 351.3 120 360.7 120 360.4 121.4 349.6 122.4 341.2 122.8 342.7 124.2 345 125.6 350.6 126.7 353 127 349.6 128.4 342.9 129.1 336.7 129.8 339.2 131.2 341.5 131.5 343.5 132.6 343 134 340.8 135.1 341 135.4 341.5 136.8 349.1 138.2 357 138.7 360.2 139.6 355.1 140.6 352.7 141 354.5 142.4 358.7 143 362.1 143.8 360.1 145.2 353.6 145.3 352.3 146.6 360.5 148 365.8 148.2 367 149.4 363.6 150.8 360.8 151.1 357.3 152.2 357.4 153.5 355.8 153.6 355.3 155 357.6 156.4 361.2 156.6 362.7 157.8 371.7 159.2 379.2 159.4 380.5 160.6 377.5 162 373.7 163 371.4 163.4 372.9 164.8 380.1 165.4 382.4 166.2 376.1 167.3 365.6 167.6 367.7 169 379.7 169.7 383.5 170.4 384.3 171.6 381 171.8 380.3 173.2 385.3 173.3 385.9 174.6 382.2 176 375.9 177.4 372.2 178.1 369.7 178.8 369.9 180.2 368.3 180.5 367.5 181.6 379 182.8 390.8 183 389 184.4 379.2 185.8 370 186.9 364.6 187.2 364.4 188.6 372 190 380.9 190 379.5 191.4 380.2 192.4 379.2 192.8 380.7 194.2 384.8 195.6 385.9 197 391.7 197.9 395.3 198.4 392.1 199.8 382.2 200.8 378.2 201.2 377.3 202.6 373.5 203.1 371.2 204 364.3 205.4 356.4 205.5 355.3 206.8 383 207.9 405.7 208.2 401.1 209.6 379.8 210.3 368.3 211 373.7 212.4 383.4 212.7 384.9 213.8 382.1 215.1 375.6 215.2 374.7 216.6 371.1 218 362.7 218.7 360.2 219.4 362.6 220.8 360.6 221.8 359.9 222.2 357.7 223.6 352.9 225 347.6 225.8 344.5 226.4 346.9 227 354 227.8 349.7 228.7 347 229.2 348.3 230.6 352.2 231.8 355.2 232 356.7 233.4 353.7 234.2 353.3 234.8 354.3 236.2 356.6 237.6 355.7 237.8 354.8 239 355.3 240.2 354 240.4 353.9 241.8 358.7 243.2 363.4 243.7 364 244.6 356.7 246 342.4 247.3 327.1 247.4 328.4 248.8 327.4 250.2 327.3 250.9 328.6 251.6 330.3 253 334.9 253.3 337.8 254.4 337.2 255.8 335.7 256.9 335.6 257.2 333.7 258.6 330.6 258.6 330.4 260 334.7 260.9 337.9 261.4 336.7 262.8 332.7 262.9 330.6 264.2 335.5 265.6 342.2 265.7 342.1 267 337.9 268.4 334.6 268.8 333.8 269.8 333.3 271.2 332.8 271.9 331.8 272.6 334.3 274 339.7 274.8 342.4 275.4 342.2 276.8 338.1 277.2 339 278.2 343.4 279.6 348.1 280.1 349.5 281 362.4 281.5 372.5 282.4 365.5 283.8 353.1 285.2 345.1 286.3 336.8 286.6 336.4 288 337.1 289.1 337.3 289.4 339.6 290.8 345.4 292.2 352.8 292.7 355.6 293.6 353.1 295 354.1 295.1 351.7 296.4 353.4 297.8 354 298.7 356.6 299.2 354 300.6 352 302 348.5 302.3 347.3 303.4 340.3 304.8 332.1 305.8 325.8 306.2 326.4 307.6 332 308.2 335.5 309 339.3 310.4 343 311.8 351.2 311.8 351.3 313.2 349.3 314.2 349 314.6 350.4 315.9 361.2 316 359.6 317.4 356.6 318.3 354.9 318.8 355.3 320.2 342 321.4 333.6 321.6 335.6 323 341.4 323.8 343.7 324.4 342.7 325.8 341.3 326.1 339.9 327.2 343.2 328.5 347.6 328.6 347.1 330 341.2 331.4 338.1 332.1 333.8 332.8 339.5 334.2 346.2 335.6 354.8 335.7 354.3 337 349.3 338.4 342.7 339.8 338.3 340.5 335.5 341.2 340.2 342.6 349.5 344 359.3 345.3 367.7 345.4 368.6 346.8 378.5 346.9 377.4 348.2 368.7 349.6 360.7 350 359.4 351 354.2 352.4 344.9 353.1 340.6 353.8 341.3 355.2 343.2 356 346 356.6 349.2 358 355.9 358.4 360.5 359.4 351.7 360.8 343.8 360.8 342.1 362.2 354.3 363.2 361.4 363.6 359.6 365 350.4 366 344.8 366.4 343.7 367.8 339.1 367.9 338.6 369.2 346.3 370.6 356.4 371.5 362.2 372 361.7 373.4 361.9 373.9 364.8 374.8 356.1 375.6 348.6 376.2 352.7 377.6 361.3 378.7 368.2 379 370.7 380.4 371 381.8 374.4 382.3 374 383.2 375.2 384.2 374.4 384.6 373.6 386 378.8 387 380.2 387.4 381.6 388.8 383.5 389 383.1 390.2 389.4 391.6 391.7 391.8 394 393 373.9 393 371.3 394.4 397.3 394.7 403.9 395.8 383.5 396.6 367.5 397.2 368.7 398.6 374.3 399.5 378.2 400 378.3 401.4 381.3 402.6 387.6 402.8 386.3 404.2 383.5 405.6 381.8 406.2 381.1 407 372.4 408.4 363 409.8 349 410.7 339.7 411.2 341.1 412.6 338.6 413.9 335.7 414 336.1 415.4 341.8 416.2 346 416.8 345.5 418.2 341.5 418.6 344.2 419.6 345.5 420.3 348.5 421 346.4 422.4 343.6 422.7 341.6 423.8 343.8 425.1 347.2 425.2 347.8 426.6 353 427.5 355.4 428 357.4 429.4 358.8 430.6 361.9 430.8 359.2 432.2 354.2 433.4 350 433.6 350.5 435 353.1 435.8 350.6 436.4 350.5 437.8 345.5 438.2 344.4 439.2 343.7 440.6 345.3 440.6 344.9 442 341 443 338.2 443.4 339.7 444.8 341.2 445.9 343.7 446.2 344.1 447.6 357.3 449 367.9 449 368.4 450.4 358.4 451.3 353.6 451.8 352.6 453.2 353.1 453.7 353.2 454.6 359.8 455.4 366.5 456 362.6 457.3 355.1 457.4 355.1 458.8 358.8 459.7 362.9 460.2 368.6 461.6 382.5 462.1 388.5 463 359.5 463.3 347 464.4 329.8 465 318.7 465.8 319.3 466.9 319 467.2 322.5 468.6 334.9 469.3 337.7 470 332.4 471.4 319.4 471.7 316.6 472.8 313.3 474.2 306.7 474.5 304.4 475.6 307.2 476.9 307.8 477 307.5 478.3 301 478.4 301.5 479.8 306.2 480.7 308.4 481.2 306.7 482.4 305 482.6 306.2 484 312.9 484.1 315.5 485.4 312.1 486 310.5 486.8 315.8 488.2 323.1 488.8 325.1 489.6 331.2 491 338.1 492 344.9 492.4 344.5 493.8 342.8 495.1 342.9 495.2 342.9 496.6 324.9 497.9 309.4 498 308.6 499.4 317.4 499.8 323.1 500.8 316 501.5 312.2 502.2 315.1 503.2 322.5 503.6 321.1 505 316.4 505.1 315.4 506.4 312.6 507.5 309.4 507.8 309.8 509.2 319 509.4 321.1 510.6 320.9 511.8 320.2 512 320.8 513.4 324.2 514.6 328.3 514.8 329.9 516.2 332.1 517.5 336.7 517.6 334.3 519 326.9 520.4 320.7 520.6 320.3 521.8 317.2 523 315.6 523.2 317.8 524.6 327.4 525.4 333.1 526 331.8 527.4 332.5 527.8 330.6 528.8 344.7 529.7 357.8 530.2 352 531.6 337.4 532.6 327 533 324.9 534.4 318.1 535.4 313.6 535.8 313.9 537.2 323.7 538 326.1 538.6 322.9 540 314.1 540.9 310 541.4 308.2 542.8 305.5 542.8 305.7 544.2 317.4 544.5 320.1 545.6 313.7 546.9 305.5 547 305 548.4 302.9 549.3 302.2 549.8 302.1 550.9 308.3 551.2 308.1 552.6 301.4 552.9 300.8 554 314.9 554.8 328.5 555.4 316.5 556.4 301 556.8 305 558.1 318 558.2 316.8 559.6 307.4 561 298.2 561.2 295 562.4 292 563.8 289.9 564.3 289.8 565.2 296.1 566.6 309.9 566.7 312.5 568 321.6 569.1 325.3 569.4 324.9 570.8 314.3 572 306.3 572.2 310.3 573.6 319.2 573.9 321.3 575 312 576.4 296.1 576.7 291.4 577.8 289.9 578.6 288.3 579.2 291.1 580.6 291.4 581 291.7 582 301.1 583.4 312.8 583.4 313.8 584.8 322.9 585.8 330.3 586.2 334.9 587.6 349.6 588.7 362.8 589 363.1 590.4 378 590.6 379.2 591.8 379.6 593 377.9 593.2 378.2 594.6 383 595.4 384.4 596 385.9 597.3 389 597.4 387.7 598.8 381.8 599.7 378.8 600.2 374.2 601.6 358.1 603 343.8 603 341.9 604.4 338.2 604.9 336.4 605.8 340.7 606.8 344.2 607.2 340.9 608.6 336.5 609.7 334.5 610 332.1 611.4 324.4 611.6 320 612.8 335.6 613.8 347.4 614.2 351.4 615.4 361.8 615.6 361.7 617 360.9 618.4 359.5 618.5 359.5 619.8 360.4 620.9 361.1 621.2 361.3 622.6 361.3 624 358.4 624.5 357.9 625.4 359.9 626.8 361 626.9 360.7 628.2 366.7 629.6 372.6 629.8 371.4 631 372.3 632.4 371.7 632.9 371 633.8 371.4 635.2 368.6 636 367.7 636.6 363.2 637.6 349.8 638 349.5 639.4 356.5 639.6 356.2 640.8 349.1 642.2 340.9 642.4 340.3 643.6 336.8 644.8 335.4 645 336.1 646.4 340.2 647.8 344.5 647.9 345 649.2 348.9 650.6 353.8 650.8 354.3 652 359.9 653.2 364.9 653.4 363.1 654.8 353.6 655.6 349.6 656.2 345.1 657.6 338.5 657.9 337.5 659 327.2 660.3 318.8 660.4 317.9 661.8 316 663.2 315.7 663.9 314.1 664.6 319.9 666 334.6 666.3 337.3 667.4 336.7 668.8 334.6 669.9 333.3 670.2 330.4 671.6 321.8 673 315.2 673.5 312.7 674.4 311 675.8 310.1 677 309.7 677.2 309.6 678.6 313.9 679 313 680 313.8 681.3 312.8 681.4 313.8 682.8 325.5 683.7 333.4 684.2 335.4 685.6 332.8 686.6 330.5 687 331.2 688.4 332.9 689.8 332.4 690.2 334.1 691.2 332 692.6 330 693.3 328.7 694 323.7 695.4 310.4 696.2 304.1 696.8 302.1 698.2 299.9 699.6 293.8 700.7 290.2 701 290.2 702.4 288.8 703.8 286.4 703.9 288.1 705.2 285.1 706.6 283.6 706.7 282.6 708 284.8 709.1 284.5 709.4 284.9 710.8 280.4 712.2 276.2 712.7 276.6 713.6 273.3 715 269.9 715.1 272 716.4 268.3 717.8 266 718.2 263.9 719.2 264.8 720.6 267.9 721 270.7 722 269.2 723.4 269.9 724.8 271.2 725.8 268.4 726.2 270.9 727.6 268.9 728.2 267.8 729 272.5 729.4 274.8 730.4 266.5 731.8 249.4 731.8 250.5 733.2 250.3 734.6 249.9 734.9 251.1 736 264.4 736.6 272.5 737.4 278 738.8 280.4 739.7 284.1 740.2 283.4 741.6 278.1 742.5 279.1 743 276.5 744.4 274.4 745.4 273.5 745.8 273.7 747.2 277.2 748.5 281.3 748.6 279.8 750 277.3 751.4 272 751.6 272 752.8 278.8 754.2 281.5 755.6 290.2 755.7 290.5 757 287.8 758.4 284.1 759.3 283 759.8 280.5 761.2 284.4 761.7 286.6 762.6 289.8 764 294.5 765.2 302.8 765.4 303.5 766.8 298.4 767.6 295.8 768.2 295.4 769.6 296.7 770 298.2 771 295.4 771.7 293.9 772.4 300.1 773.6 311.2 773.8 310.7 775.2 301.1 776.5 294.1 776.6 292.9 778 289 778.8 287.5 779.4 290.8 780.8 300.5 782 306.6 782.2 307.7 783.1 312.5 783.6 309 785 298.9 785.5 294.6 786.4 303.9 787.4 312.8 787.8 311.2 789.2 302.4 790.3 295.1 790.6 294.2 792 283.6 792.7 278.7 793.4 281.8 794.8 289.6 795.1 290.6 796.2 287.4 797 285 797.6 290.6 798.7 298.1 799 298.7 800.4 297 801.1 294.4 801.8 296.9 803.2 305.1 803.4 305.2 804.6 306.8 805.8 309.3 806 308.2 807.4 307.6 808.2 307.8 808.8 304.2 810.2 299.2 811.1 296.6 811.6 301.9 813 312.7 813.7 317.8 814.4 315.4 815.8 312.6 816.6 310.1 817.2 310.3 818.6 310.7 820 311.9 820.2 310.7 821.4 311.4 822.8 313.3 823.3 309.8 824.2 312.5 825.6 311.1 826.1 313.3 827 315.2 828.4 318.7 829.8 320.6 830.4 324.2 831.2 320.7 832.6 320.3 833.3 318.1 834 315 835.4 304.6 836.2 299.2 836.8 301.7 838.2 309.5 839.3 313.9 839.6 314.7 841 311.4 841.7 307.6 842.4 311.7 843.3 315.1 843.8 312.5 845.2 307 845.2 307.3 846.4 318.8 846.6 317.5 848 313.1 849.4 309.9 849.5 309.3 850.8 307.9 852.2 309.1 852.4 308.7 853.6 311.5 855 320.3 855.3 322 856.4 313.7 857.8 299.8 857.9 299.7 859.2 307.7 860.6 318.9 860.8 318.3 862 317.3 863.2 311 863.4 312 864.8 310.1 866.2 310.6 866.3 310.7 867.6 312.1 867.9 311.9 869 307.1 870.4 301.1 870.8 301.2 871.8 304 872.7 310 873.2 307 873.9 304.9 874.6 309.4 876 320.8 876.8 330 877.4 320 878.7 302.1 878.8 304.8 880.2 296.1 881.1 290.9 881.6 298.8 883 317.2 883.9 328.5 884.4 327.4 885.8 319.1 886.3 317.3 887.2 319.4 888.6 322.6 888.7 320.4 890 313.5 890.6 308.3 891.4 262.3 891.8 236 892.8 207.4 893 198.3 894.2 234.2 894.9 261.4 895.6 251.3 896.8 231.6 897 230.2 898.3 217.6 898.4 219.5 899.8 241.1 900.2 246.2 901.2 250.4 902.1 251.3 902.6 253 904 253.5 904.5 255 905.4 263.3 906.1 268.9 906.8 272.9 908.2 279.8 908.5 283 909.6 284.8 910.9 292.1 911 290.4 912.1 288.4 912.4 291.3 913.8 305 914.5 312.3 915.2 306.4 916.6 294.8 916.9 292.2 918 295.5 919.3 303.7 919.4 302.6 920.8 303.8 921.2 305.5 922.2 312 923.6 320.2 923.6 323.4 925 312.5 925.3 310 926.4 310.6 927.8 310.6 928.4 309.3 929.2 311.8 930.6 318 931.2 318.6 932 317.6 933.4 316.3 933.6 317.9 934.8 317.7 936.2 314.4 936.5 313.8 937.6 315.7 939 316 939.6 318.6 940.4 323.4 941.8 326.1 942 329.3 943.2 347.3 944.4 367.3 944.6 361.6 946 343 946.7 331 947.4 334.1 948.8 338.7 949.1 340.9 950.2 340.1 951.6 337.9 952.7 336.5 953 335.7 954.4 335.7 955.8 333.3 956.3 333.1 957.2 334 958.6 336.9 959.4 338.4 960 336.8 961.4 330.3 962.3 327.8 962.8 328 964.2 326.3 965.6 325.8 965.9 324 967 326.4 968.2 324 968.4 324.1 969.8 322.3 970.6 321.9 971.2 320 972.6 317.7 973 318.1 974 320.8 975.4 326.7 975.4 327.2 976.8 323.1 978.2 318 978.5 316.5 979.6 323.6 981 327.4 981.9 334.4 982.4 334.9 983.8 334.7 985.2 336.3 986.2 338 986.6 337.9 988 338.6 989.4 339.7 990 339.6 990.2 335.3 990.8 337.2 992.1 337.4 992.2 337.9 993.6 334 994.5 332.2 995 334.2 996.4 334.6 996.4 334.2 997.8 324.4 998.1 322.1 999.2 327.9 1000.5 336.8 1000.6 335.6 1002 333 1002.8 330.6 1003.4 331.6 1004.8 330.2 1006.2 329.2 1006.4 330.9 1007.6 334.6 1008.8 338.6 1009 339.1 1010.4 331.1 1011.7 324.9 1011.8 325.5 1013.2 325.6 1014.6 328.4 1014.8 329.3 1016 330.2 1017.2 331.4 1017.4 332.6 1018.8 328.9 1018.8 331.4 1020.2 332.2 1020.8 334.8 1021.6 332.9 1023 324.7 1023.1 323.7 1024.4 330.6 1025.5 334.7 1025.8 334.5 1027.2 326.4 1027.4 325.7 1028.6 330.5 1030 335.8 1030.3 338.6 1031.4 332.7 1032.7 325.8 1032.8 329.3 1033.9 347.7 1034.2 345.8 1035.6 335.7 1036.3 330.2 1037 330.5 1038.4 332.7 1039.8 333.8 1039.9 334.8 1041.2 328.6 1042.6 322 1042.7 320.2 1044 309.6 1045.1 302.9 1045.4 300.8 1046.8 299.6 1047 298.4 1048.2 309.6 1049.4 324.3 1049.6 322.6 1051 312.4 1052.3 303.9 1052.4 305.2 1053.8 312.1 1055.2 320 1055.4 321.6 1056.6 320.8 1057.8 320.6 1058 321.3 1059.4 329.3 1059.4 331.5 1060.8 323.5 1062.2 316.8 1062.6 313.4 1063.6 304.4 1064.9 292 1065 293.3 1066.4 286.7 1066.6 286.1 1067.8 291.5 1069.2 301.6 1069.7 305.3 1070.6 299.6 1072 291.7 1072.8 285.9 1073.4 292.2 1074.8 306.8 1075.2 310.8 1076.2 318 1076.9 319.6 1077.6 317.1 1078.6 307.4 1079 312.6 1080.4 317.8 1080.9 323.1 1081.8 322.6 1082.9 322 1083.2 322.8 1084.6 329.8 1085.2 330.4 1086 331.6 1087.4 327.1 1087.6 327.5 1088.8 328.8 1090.2 329.2 1091.2 330 1091.6 326.9 1093 320.5 1093.6 314.6 1094.4 319.3 1095.8 329.4 1096 330.3 1097.2 324.8 1098.4 321.2 1098.6 320.5 1100 321.5 1100.8 322.6 1101.4 319 1102.8 315.5 1103.9 313.2 1104.2 314.1 1105.6 320.8 1106.7 327.7 1107 328.1 1108.4 331.3 1109.1 330.9 1109.8 332.3 1111.2 328.4 1111.5 331.1 1112.6 332.6 1113.4 335.8 1114 333.8 1115.1 326.2 1115.4 331.3 1116.8 338.3 1117.5 341.7 1118.2 345.6 1119.2 347.5 1119.6 355.7 1121 377.2 1121.1 380.4 1122.4 366.5 1123.8 353.4 1123.9 351.9 1125.2 361.5 1126.6 374 1127 377 1128 371.6 1129.4 363.3 1130.1 360.6 1130.8 356.3 1132.2 352.7 1133 350.2 1133.6 350.6 1135 350.8 1135.9 350.2 1136.4 350.9 1137.8 345.4 1139 343.7 1139.2 342.2 1140.6 341.4 1142 341.6 1142.1 339.4 1143.4 334.2 1143.8 330.1 1144.8 333.3 1146.1 335.4 1146.2 335.1 1147.6 324.6 1147.8 322.3 1149 334.6 1150.4 347.7 1150.9 353.6 1151.8 346.1 1153.2 336.4 1153.3 336.5 1154.6 331.2 1155.7 327.3 1156 326.8 1157.4 326.9 1158.1 326 1158.8 322.6 1159.8 318.5 1160.2 321.5 1161.6 332.4 1162.1 336.6 1163 334.9 1164.1 330 1164.4 331.3 1165.8 339 1166.4 341.9 1167.2 339.6 1168.4 337.4 1168.6 335.4 1170 338.8 1171.2 343 1171.4 342.3 1172.8 333.3 1173.6 329.3 1174.2 333.6 1175.6 344.5 1176 348.4 1177 343.7 1178.4 337.9 1178.4 338.4 1179.8 347.5 1180.8 356.4 1181.2 354.4 1182.6 344.2 1183.6 334.8 1184 337.2 1185.4 343.5 1185.6 342.8 1186.8 335.4 1187.9 331.1 1188.2 332.8 1189.6 345.7 1189.9 347.9 1191 340.5 1191.5 337.9 1192.4 340.9 1193.4 344.9 1193.8 342.8 1195.2 334.1 1196.3 325.7 1196.6 326.1 1198 335.4 1199.4 342.6 1199.9 344.6 1200.8 339.3 1202.2 332.3 1202.3 332.4 1203.6 330 1205 325.8 1205.1 325.2 1206.4 332.4 1207 336.6 1207.8 333.9 1209 331.6 1209.2 332.6 1210.6 342.3 1211.3 348.3 1212 344 1213.4 341.6 1213.7 339.2 1214.8 344.1 1215.4 349 1216.2 346 1217.6 340.6 1219 336.7 1219 338.1 1220.4 331.1 1221.4 325.8 1221.8 327.7 1223.2 337.7 1223.3 338.2 1224.6 339.5 1226 341 1226.2 343.2 1227.4 344.9 1228.8 346 1230 347.7 1230.2 346.6 1230.5 347.1 1231.6 350.5 1233 353.4 1233 352.1 1234.4 349.4 1235.8 343.3 1236.8 338.8 1237.2 337.9 1238.6 334.5 1240 325.8 1241.4 323.4 1241.6 323.6 1242.8 330.1 1244.2 336.7 1244.7 339.7 1245.6 336.1 1247 327.1 1248.4 319.5 1248.8 318.5 1249.8 321.3 1251.2 331.9 1252.6 339.5 1253.2 342.2 1254 340.3 1255.4 337.6 1256.8 334.8 1257.3 333.5 1258.2 332.3 1259.6 331.5 1260.5 332.9 1261 333.8 1262.4 330.4 1263.6 330.4 1263.8 330.1 1265.2 336.4 1266.6 341.1 1266.8 341.8 1268 338.6 1269.4 336.7 1270 335.2 1270.8 341.3 1272.2 349.9 1273.1 354.9 1273.6 353.6 1275 348.8 1276.4 343.6 1277.8 340.5 1277.9 338.2 1279.2 343.6 1280.6 350.5 1281 353.4 1282 356.8 1283.4 363.7 1284.2 367.4 1284.8 363.1 1286.2 349.3 1287.3 340.9 1287.6 339 1289 338.4 1290.4 336.8 1290.5 337 1291.8 328.3 1293 323.9 1293.2 322.8 1294.6 333.3 1296 342.3 1297.4 352.3 1297.4 351 1298.8 344.9 1300.2 339.4 1301.5 329.2 1301.6 330.9 1303 324.7 1304.4 321.9 1305.6 314.6 1305.8 315.1 1307.2 316 1308.6 314.6 1309.4 314.4 1310 313.5 1311.4 310.4 1312.6 310.7 1312.8 312 1314.2 318.2 1315.6 326.4 1316.4 330.9 1317 331.1 1318.4 333.2 1319.8 338 1320.5 339.8 1321.2 342.8 1322.6 346.9 1323.6 349.2 1324 355.2 1325.4 362.9 1325.8 366.2 1326.8 341 1327.7 314.4 1328.2 314.1 1329.6 312.4 1330.9 311.4 1331 311.8 1332.4 318.4 1333.8 322.6 1334.7 325.3 1335.2 330.5 1336.6 339.5 1337.8 346.4 1338 347.2 1339.4 347 1340.8 352.4 1341 352.4 1342.2 365.4 1343.2 375.5 1343.6 369.7 1345 351.2 1345.7 338.1 1346.4 340.3 1347.8 338.2 1349.2 336.6 1349.8 336.6 1350.6 340.3 1352 344.2 1353 345.5 1353.4 348.2 1354.8 341.6 1356.1 337.6 1356.2 339.1 1357.6 356.6 1359 375.7 1359.9 386.9 1360.4 381.7 1361.8 363.7 1363.1 346.7 1363.2 346 1364.6 348.4 1366 348.9 1366.9 348.1 1367.4 353.2 1368.8 366.1 1370.2 377.1 1371 385.9 1371.6 384 1373 385 1374.1 382.8 1374.4 382 1375.8 384.3 1376.3 384.8 1377.2 379.1 1378.6 370.2 1378.9 367.7 1380 366.4 1381.4 364.7 1382 366.1 1382.8 368.7 1384.2 372.9 1385.2 374.5 1385.6 373.9 1387 368.5 1388.3 365.6 1388.4 365.7 1389.8 354.7 1390.9 346.3 1391.2 344.6 1392.6 335.7 1394 330.7 1394 329.3 1395.4 337.8 1396.8 349.4 1397.2 351.9 1398.2 353.1 1399.6 358.4 1401 360.6 1401 361.2 1402.4 355.1 1403.8 346.1 1404.7 342.2 1405.2 342.6 1406.6 341.8 1407.9 338.5 1408 339 1409.4 338.8 1410.8 340.1 1412.2 340 1413.6 341.9 1414.2 338.7 1415 343.9 1416.4 355.3 1417.4 361.4 1417.8 362 1419.2 365.5 1420.6 369.8 1421.5 371.2 1422 374.2 1423.4 385.8 1424.6 398.4 1424.8 396.3 1426.2 383.2 1427.6 370.5 1427.8 367.3 1429 369.2 1430.4 369.7 1430.9 369.7 1431.8 369.4 1433.2 366.8 1434.1 363.7 1434.6 365.9 1436 369.4 1437.3 374.2 1437.4 374.5 1438.8 369.5 1440.2 366.3 1440.4 365.9 1441.6 367 1443 367.7 1443.6 366.9 1444.4 364.9 1445.8 359.7 1446.7 353.5 1447.2 357.3 1448.6 355.8 1450 352.4 1450.8 351.9 1451.4 354.9 1452.8 361 1454.2 363.3 1454.6 366.9 1455.6 368.4 1457 370.1 1457.8 370.8 1458.4 369.7 1459.8 370.5 1461.2 370.7 1462.5 370.7" stroke="#ff7f0e" stroke-width="2.3" stroke-linejoin="round" stroke-linecap="square" fill="none"/>
</g>
<rect x="116.5" y="38.5" width="1346.00" height="480.00" fill="none" stroke="#000" stroke-width="1.1"/>
<path d="M116.5 518.5v4.9M284.5 518.5v4.9M453.5 518.5v4.9M621.5 518.5v4.9M789.5 518.5v4.9M958.5 518.5v4.9M1126.5 518.5v4.9M1294.5 518.5v4.9M116.5 96.5h-4.9M116.5 155.5h-4.9M116.5 214.5h-4.9M116.5 273.5h-4.9M116.5 332.5h-4.9M116.5 391.5h-4.9M116.5 450.5h-4.9M116.5 509.5h-4.9" stroke="#000" stroke-width="1.1" fill="none"/>
<text x="104.7" y="103.3" font-size="20.3" text-anchor="end" textLength="36" lengthAdjust="spacingAndGlyphs">2.0</text>
<text x="104.7" y="162.3" font-size="20.3" text-anchor="end" textLength="36" lengthAdjust="spacingAndGlyphs">1.5</text>
<text x="104.7" y="221.3" font-size="20.3" text-anchor="end" textLength="36" lengthAdjust="spacingAndGlyphs">1.0</text>
<text x="104.7" y="280.3" font-size="20.3" text-anchor="end" textLength="36.5" lengthAdjust="spacingAndGlyphs">0.5</text>
<text x="104.7" y="339.3" font-size="20.3" text-anchor="end" textLength="36.5" lengthAdjust="spacingAndGlyphs">0.0</text>
<text x="104.7" y="398.3" font-size="20.3" text-anchor="end" textLength="54.5" lengthAdjust="spacingAndGlyphs">−0.5</text>
<text x="104.7" y="457.3" font-size="20.3" text-anchor="end" textLength="54.5" lengthAdjust="spacingAndGlyphs">−1.0</text>
<text x="104.7" y="516.3" font-size="20.3" text-anchor="end" textLength="54.5" lengthAdjust="spacingAndGlyphs">−1.5</text>
<rect x="1047.5" y="48.4" width="406.4" height="79.9" rx="2.6" fill="#fff" fill-opacity="0.8" stroke="#ccc" stroke-width="1.1"/>
<circle cx="1073.4" cy="63.4" r="2.6" fill="#1f77b4"/>
<path d="M1054 101.8H1093.1" stroke="#ff7f0e" stroke-width="2.1"/>
<text x="1107.0" y="68.8" font-size="17" textLength="40.0" lengthAdjust="spacingAndGlyphs">Raw</text>
<text x="1157.5" y="68.8" font-size="17" textLength="46.1" lengthAdjust="spacingAndGlyphs">Data</text>
<text x="1107.0" y="95.0" font-size="17" textLength="125.0" lengthAdjust="spacingAndGlyphs">Butterworth</text>
<text x="1240.0" y="95.0" font-size="17" textLength="80.5" lengthAdjust="spacingAndGlyphs">Filtered</text>
<text x="1328.5" y="95.0" font-size="17" textLength="46.5" lengthAdjust="spacingAndGlyphs">Data</text>
<text x="1107.0" y="116.2" font-size="17" textLength="58.0" lengthAdjust="spacingAndGlyphs">(N=6,</text>
<text x="1172.5" y="116.2" font-size="17" textLength="106.0" lengthAdjust="spacingAndGlyphs">Tc=3.3333</text>
<text x="1287.5" y="116.2" font-size="17" textLength="43.0" lengthAdjust="spacingAndGlyphs">min,</text>
<text x="1339.5" y="116.2" font-size="17" textLength="54.0" lengthAdjust="spacingAndGlyphs">Type:</text>
<text x="1401.0" y="116.2" font-size="17" textLength="43.0" lengthAdjust="spacingAndGlyphs">low)</text>
<g clip-path="url(#cb)">
<rect x="158" y="575.5" width="545" height="479.00" fill="#e8e8e8"/>
<path d="M158.5 575.5V1054.5M702.5 575.5V1054.5" stroke="#dddddd" stroke-width="1" fill="none"/>
<path d="M284.5 575.5V1054.5M453.5 575.5V1054.5M621.5 575.5V1054.5M789.5 575.5V1054.5M958.5 575.5V1054.5M1126.5 575.5V1054.5M1294.5 575.5V1054.5M116.5 597.5H1462.5M116.5 651.5H1462.5M116.5 706.5H1462.5M116.5 760.5H1462.5M116.5 815.5H1462.5M116.5 869.5H1462.5M116.5 924.5H1462.5M116.5 978.5H1462.5M116.5 1033.5H1462.5" stroke="#b0b0b0" stroke-width="1.1" stroke-dasharray="1.1 1.89" fill="none"/>
<path d="M116.5 1005.8 117.5 1005.3 118.5 1008.6 119.5 1008.6 120.5 1008.5 121.5 1010.3 122.5 1009.4 123.5 1008.9 124.5 1008.8 125.5 1009.4 126.5 1009 127.5 1006.6 128.5 1006.6 129.5 1005 130.5 1002.1 131.5 1001.6 132.5 998.2 133.5 1000.7 134.5 1001.8 135.5 1004.3 136.5 1004.5 137.5 1003.9 138.5 1002.6 139.5 1000.9 140.5 998.7 141.5 999.3 142.5 998.4 143.5 998 144.5 998.3 145.5 997 146.5 996.2 147.5 997.5 148.5 997.7 149.5 998.6 150.5 998 151.5 997.2 152.5 998.7 153.5 999.9 154.5 1000.7 155.5 1001.7 156.5 1001.4 157.5 1000.5 158.5 999 159.5 996.1 160.5 992.9 161.5 989.1 162.5 989 163.5 991.9 164.5 995.7 165.5 998.5 166.5 996.2 167.5 996.7 168.5 994.5 169.5 992.6 170.5 992.3 171.5 991.1 172.5 991.5 173.5 991.7 174.5 992.9 175.5 991 176.5 991.2 177.5 989.2 178.5 988.4 179.5 983.8 180.5 970.7 181.5 952.2 182.5 949.1 183.5 946.5 184.5 960.6 185.5 971.5 186.5 976.6 187.5 978.1 188.5 980.5 189.5 976.3 190.5 972.2 191.5 961.6 192.5 957.1 193.5 952.8 194.5 940.3 195.5 937 196.5 933 197.5 931.4 198.5 937.5 199.5 943.9 200.5 948.8 201.5 952.8 202.5 955.5 203.5 935.4 204.5 898.4 205.5 881.6 206.5 876.2 207.5 890.1 208.5 902 209.5 937.1 210.5 957.3 211.5 968.7 212.5 973.3 213.5 973 214.5 971.7 215.5 968.3 216.5 964.9 217.5 960.7 218.5 947.7 219.5 931.8 220.5 905.2 221.5 893.2 222.5 879.5 223.5 884.1 224.5 891.2 225.5 908.4 226.5 927.3 227.5 943.3 228.5 952.2 229.5 957.7 230.5 960.3 231.5 956.9 232.5 952.2 233.5 952.1 234.5 951 235.5 952.8 236.5 952.2 237.5 952.3 238.5 952.2 239.5 951.3 240.5 951.6 241.5 951.6 242.5 953.6 243.5 953.3 244.5 953.7 245.5 952.5 246.5 952.7 247.5 952.9 248.5 954.6 249.5 950.9 250.5 945.4 251.5 936 252.5 929.2 253.5 929.2 254.5 929.1 255.5 930 256.5 937.5 257.5 943.3 258.5 937.5 259.5 930.7 260.5 938.3 261.5 946 262.5 950.4 263.5 951.3 264.5 949.8 265.5 940.5 266.5 927.1 267.5 907.2 268.5 910.6 269.5 919.9 270.5 930.9 271.5 941.3 272.5 946.1 273.5 955 274.5 968.3 275.5 973 276.5 971.4 277.5 970.4 278.5 967.8 279.5 962 280.5 956.5 281.5 951.7 282.5 944.7 283.5 929.4 284.5 922.7 285.5 911.8 286.5 901 287.5 901.7 288.5 903.2 289.5 914 290.5 923 291.5 928.3 292.5 948.9 293.5 958.9 294.5 962.2 295.5 960.3 296.5 961.1 297.5 958.9 298.5 958.6 299.5 960.4 300.5 960.2 301.5 961.5 302.5 951.5 303.5 914.5 304.5 896.7 305.5 890.2 306.5 893.9 307.5 900.7 308.5 920.2 309.5 938 310.5 944.6 311.5 945.7 312.5 945.3 313.5 943.9 314.5 943.4 315.5 943.1 316.5 943.3 317.5 942.6 318.5 943.2 319.5 942.7 320.5 942.7 321.5 942.6 322.5 941.8 323.5 939.6 324.5 940.5 325.5 944.8 326.5 946.6 327.5 947.8 328.5 948.4 329.5 948.1 330.5 945.9 331.5 943.6 332.5 939 333.5 932.4 334.5 927.4 335.5 926.3 336.5 933.5 337.5 938.6 338.5 942.3 339.5 946.5 340.5 949.4 341.5 949.6 342.5 950.7 343.5 964.6 344.5 976.1 345.5 982.4 346.5 981.2 347.5 976.5 348.5 970.6 349.5 962.7 350.5 960.9 351.5 958.7 352.5 956.6 353.5 955.4 354.5 952.4 355.5 953.1 356.5 954.7 357.5 955.2 358.5 956.8 359.5 956.9 360.5 956.9 361.5 961.2 362.5 975.4 363.5 981.8 364.5 986.3 365.5 987.2 366.5 986 367.5 986.6 368.5 985.8 369.5 984.5 370.5 983.9 371.5 981 372.5 980.7 373.5 975.4 374.5 972.6 375.5 972.3 376.5 970.5 377.5 973.4 378.5 976.9 379.5 977.5 380.5 970.3 381.5 962.2 382.5 952.3 383.5 950.7 384.5 946 385.5 944.3 386.5 951.1 387.5 960.5 388.5 965 389.5 975.6 390.5 980 391.5 980.5 392.5 979.8 393.5 977.6 394.5 977.7 395.5 978.7 396.5 979.9 397.5 977.8 398.5 974.7 399.5 971.8 400.5 964.5 401.5 960.2 402.5 950.2 403.5 946.2 404.5 938.1 405.5 937.8 406.5 946.2 407.5 950.7 408.5 953 409.5 955.5 410.5 955.2 411.5 955.7 412.5 962.8 413.5 965.1 414.5 968 415.5 969.5 416.5 965.5 417.5 962.9 418.5 959.3 419.5 953.1 420.5 945.5 421.5 943.8 422.5 940.8 423.5 937.4 424.5 935.3 425.5 930.8 426.5 934.1 427.5 940.9 428.5 943.9 429.5 935.9 430.5 926.7 431.5 906.6 432.5 901.1 433.5 894.3 434.5 882.7 435.5 863.2 436.5 861.1 437.5 859.4 438.5 858.5 439.5 855.4 440.5 851.5 441.5 851 442.5 865.9 443.5 874.4 444.5 879.3 445.5 896 446.5 903.2 447.5 909 448.5 943 449.5 958.7 450.5 963.7 451.5 965.4 452.5 964.5 453.5 965.2 454.5 966.7 455.5 968.1 456.5 969.8 457.5 969.7 458.5 969.3 459.5 977.6 460.5 982.1 461.5 979.5 462.5 963 463.5 942.3 464.5 910.2 465.5 899 466.5 882.6 467.5 877.3 468.5 871.5 469.5 858.7 470.5 845.6 471.5 825.7 472.5 824.1 473.5 826 474.5 825.4 475.5 835.4 476.5 854.3 477.5 872.5 478.5 891.6 479.5 898.1 480.5 897.5 481.5 896.4 482.5 919.4 483.5 929.2 484.5 937 485.5 945.9 486.5 948 487.5 952.3 488.5 938.7 489.5 904.8 490.5 889.6 491.5 870.9 492.5 854.2 493.5 834 494.5 828.1 495.5 835.8 496.5 841.4 497.5 851.5 498.5 855.7 499.5 859.2 500.5 860 501.5 861.6 502.5 862.1 503.5 867.9 504.5 871.1 505.5 888 506.5 900.8 507.5 904.9 508.5 904 509.5 904.4 510.5 905.6 511.5 904.5 512.5 914.2 513.5 926.9 514.5 932.5 515.5 943.2 516.5 951 517.5 954.4 518.5 957.7 519.5 956 520.5 954.6 521.5 955.2 522.5 959.2 523.5 961.5 524.5 962 525.5 963.5 526.5 980.1 527.5 985.3 528.5 990 529.5 992.5 530.5 991.8 531.5 992 532.5 993.2 533.5 991.4 534.5 990.2 535.5 987.2 536.5 984.7 537.5 982.8 538.5 981.7 539.5 983.1 540.5 982.6 541.5 981.7 542.5 985.3 543.5 987.3 544.5 988.4 545.5 989.8 546.5 996.8 547.5 1000.2 548.5 1004.1 549.5 1001.6 550.5 990.9 551.5 976.5 552.5 954.7 553.5 954.7 554.5 950.8 555.5 951.5 556.5 952.9 557.5 954.7 558.5 955.1 559.5 957.4 560.5 957.9 561.5 958.7 562.5 965.8 563.5 981.9 564.5 992.5 565.5 998.9 566.5 1003.5 567.5 1005 568.5 1006.7 569.5 1004.6 570.5 1003.6 571.5 1002.4 572.5 1001.7 573.5 1004.7 574.5 1005.8 575.5 1007.1 576.5 1009.2 577.5 1008 578.5 1009.1 579.5 1008.5 580.5 1006.8 581.5 1006.2 582.5 1004.9 583.5 1004.1 584.5 1001.1 585.5 1001.4 586.5 999.6 587.5 997.9 588.5 995 589.5 991.2 590.5 984.9 591.5 982.8 592.5 979.1 593.5 974 594.5 968.4 595.5 969 596.5 970.1 597.5 967.9 598.5 960.8 599.5 951.6 600.5 935.4 601.5 932.6 602.5 923.4 603.5 923.3 604.5 929.1 605.5 934 606.5 946.7 607.5 974.1 608.5 987.6 609.5 990 610.5 990.4 611.5 991.5 612.5 992.6 613.5 991.7 614.5 991.4 615.5 990.2 616.5 988.9 617.5 988.4 618.5 987.2 619.5 985.5 620.5 981 621.5 980 622.5 980.6 623.5 979.7 624.5 980.4 625.5 980.3 626.5 978.2 627.5 976.4 628.5 973.6 629.5 970.6 630.5 964.2 631.5 956.6 632.5 954.3 633.5 950.9 634.5 947.6 635.5 939.6 636.5 935 637.5 932.5 638.5 941.8 639.5 954.7 640.5 961.2 641.5 971.4 642.5 976.1 643.5 981 644.5 983.1 645.5 984.8 646.5 983.5 647.5 982.4 648.5 979.5 649.5 975 650.5 971.4 651.5 961.9 652.5 959.5 653.5 955.6 654.5 951.9 655.5 940.2 656.5 934.9 657.5 926 658.5 905.7 659.5 905.4 660.5 910.7 661.5 912.8 662.5 915.2 663.5 929.6 664.5 939.2 665.5 941.7 666.5 934.9 667.5 923.4 668.5 917.4 669.5 918.9 670.5 919.3 671.5 920.9 672.5 921.4 673.5 937.1 674.5 949.4 675.5 966.9 676.5 976.7 677.5 982.7 678.5 986.2 679.5 986.5 680.5 986.3 681.5 984.8 682.5 978.1 683.5 971.1 684.5 961.3 685.5 942.7 686.5 932.5 687.5 920.1 688.5 919.5 689.5 924.9 690.5 927.4 691.5 935.7 692.5 950 693.5 955.8 694.5 962.7 695.5 968.9 696.5 973.6 697.5 975.1 698.5 977.6 699.5 978.4 700.5 980 701.5 984.8 702.5 983.5 703.5 983 704.5 981.4 705.5 978.9 706.5 978.3 707.5 978 708.5 980.6 709.5 980.9 710.5 977.7 711.5 970.3 712.5 958.3 713.5 955.8 714.5 954.2 715.5 955.4 716.5 954.3 717.5 954.8 718.5 955.5 719.5 961.5 720.5 969.8 721.5 974.8 722.5 976.2 723.5 973 724.5 970.2 725.5 962.6 726.5 960.8 727.5 961 728.5 958.7 729.5 955.2 730.5 953.1 731.5 950.9 732.5 945.5 733.5 938.4 734.5 934.6 735.5 929.9 736.5 918.9 737.5 916.4 738.5 913.9 739.5 910.2 740.5 902.1 741.5 901.2 742.5 909.4 743.5 915.6 744.5 919.9 745.5 925.2 746.5 926.2 747.5 926.6 748.5 928.2 749.5 928.2 750.5 941.3 751.5 950.6 752.5 967.1 753.5 979.3 754.5 989.2 755.5 994.6 756.5 997.2 757.5 996.8 758.5 993.6 759.5 989.5 760.5 987.1 761.5 988.7 762.5 992.9 763.5 996.3 764.5 996.3 765.5 993.3 766.5 990.8 767.5 984.8 768.5 984.9 769.5 983.9 770.5 984 771.5 984 772.5 984.6 773.5 983.8 774.5 983.8 775.5 997.4 776.5 1001.7 777.5 1002.9 778.5 1001.8 779.5 998.8 780.5 998.6 781.5 1004.7 782.5 1008.5 783.5 1010.6 784.5 1011.6 785.5 1011 786.5 1009.9 787.5 1010.4 788.5 1009.9 789.5 1013 790.5 1014.6 791.5 1014.5 792.5 1015 793.5 1013.9 794.5 1013.1 795.5 1011.9 796.5 1008.1 797.5 1004.3 798.5 999.4 799.5 992.8 800.5 991.7 801.5 990.1 802.5 988.8 803.5 987 804.5 988.9 805.5 991.2 806.5 992.7 807.5 993.5 808.5 994.9 809.5 993.9 810.5 993.5 811.5 994.6 812.5 998.8 813.5 1000.3 814.5 1001.9 815.5 1003 816.5 1006.3 817.5 1007.6 818.5 1008.5 819.5 1008.8 820.5 1012.2 821.5 1013.3 822.5 1013.9 823.5 1014.2 824.5 1013.5 825.5 1012.5 826.5 1011.1 827.5 1010.3 828.5 1010.7 829.5 1010.6 830.5 1011.2 831.5 1010.6 832.5 1011.2 833.5 1011.3 834.5 1010.6 835.5 1010.9 836.5 1011.2 837.5 1010.2 838.5 1010.4 839.5 1009.6 840.5 1011.1 841.5 1011.6 842.5 1012.2 843.5 1012.6 844.5 1013.1 845.5 1012.6 846.5 1011.7 847.5 1010.6 848.5 1009 849.5 1006.5 850.5 1006.4 851.5 1005.8 852.5 1004.6 853.5 1002 854.5 998.9 855.5 993.7 856.5 988.9 857.5 985.3 858.5 983.1 859.5 991 860.5 996.7 861.5 1000.8 862.5 1001 863.5 1001.2 864.5 1001.9 865.5 1002.1 866.5 1001.5 867.5 1005.6 868.5 1007.4 869.5 1009.7 870.5 1010.6 871.5 1013.3 872.5 1014.1 873.5 1015.5 874.5 1015.5 875.5 1016.2 876.5 1017 877.5 1016.7 878.5 1017.2 879.5 1016.9 880.5 1016.7 881.5 1016.9 882.5 1016 883.5 1016.2 884.5 1015.2 885.5 1015 886.5 1014.8 887.5 1013.8 888.5 1011.9 889.5 1009 890.5 1003.4 891.5 999.9 892.5 991.4 893.5 992.1 894.5 997.8 895.5 1002 896.5 1005 897.5 1004.4 898.5 1005.1 899.5 1005.7 900.5 1008.3 901.5 1009.9 902.5 1011.2 903.5 1012.4 904.5 1012.8 905.5 1015.7 906.5 1016.9 907.5 1017.7 908.5 1018.4 909.5 1018.5 910.5 1018.6 911.5 1017.8 912.5 1017.1 913.5 1016.6 914.5 1017.5 915.5 1018.6 916.5 1019.3 917.5 1020.4 918.5 1020.3 919.5 1020 920.5 1019.3 921.5 1019.3 922.5 1018.7 923.5 1018.7 924.5 1018 925.5 1018.6 926.5 1018.2 927.5 1018.7 928.5 1017.9 929.5 1017.7 930.5 1016.6 931.5 1016 932.5 1014.4 933.5 1013 934.5 1017 935.5 1019.6 936.5 1021 937.5 1022.4 938.5 1022.5 939.5 1021.9 940.5 1022.1 941.5 1022.3 942.5 1022.2 943.5 1021.8 944.5 1022.6 945.5 1022.6 946.5 1022.4 947.5 1021.6 948.5 1020.7 949.5 1013.7 950.5 1004.2 951.5 1004.2 952.5 1003.7 953.5 1009.8 954.5 1015.7 955.5 1019.8 956.5 1021.4 957.5 1021.6 958.5 1021.8 959.5 1022.1 960.5 1021.6 961.5 1021.4 962.5 1021.2 963.5 1020.4 964.5 1020.3 965.5 1021.4 966.5 1022.1 967.5 1022.7 968.5 1023.4 969.5 1022.4 970.5 1021.9 971.5 1021 972.5 1020.7 973.5 1020.9 974.5 1022.6 975.5 1022.7 976.5 1023.6 977.5 1023.9 978.5 1023.6 979.5 1024.7 980.5 1023.9 981.5 1023.8 982.5 1023.7 983.5 1024.2 984.5 1023.7 985.5 1023.4 986.5 1024.4 987.5 1025.1 988.5 1025.3 989.5 1025.4 990.5 1025.5 991.5 1025.8 992.5 1025.5 993.5 1025.1 994.5 1025.1 995.5 1025.5 996.5 1025.4 997.5 1025.1 998.5 1025.1 999.5 1025.5 1000.5 1025.3 1001.5 1024.8 1002.5 1025.4 1003.5 1024.7 1004.5 1024.5 1005.5 1024.9 1006.5 1024.9 1007.5 1024.8 1008.5 1025.1 1009.5 1025.3 1010.5 1025.5 1011.5 1025.5 1012.5 1025.5 1013.5 1025.1 1014.5 1025.3 1015.5 1024.6 1016.5 1024.7 1017.5 1023.3 1018.5 1023.7 1019.5 1024.3 1020.5 1024.5 1021.5 1024.3 1022.5 1025.4 1023.5 1025 1024.5 1025.9 1025.5 1025.4 1026.5 1025.1 1027.5 1025.1 1028.5 1025.3 1029.5 1025.5 1030.5 1025.5 1031.5 1025.5 1032.5 1026 1033.5 1025.9 1034.5 1025.1 1035.5 1025.1 1036.5 1025.7 1037.5 1025.1 1038.5 1025.8 1039.5 1025.2 1040.5 1025.2 1041.5 1025.9 1042.5 1025.5 1043.5 1025 1044.5 1025.1 1045.5 1024.1 1046.5 1024.2 1047.5 1022.7 1048.5 1023.1 1049.5 1022.9 1050.5 1023.4 1051.5 1023.9 1052.5 1023.1 1053.5 1023.1 1054.5 1023.2 1055.5 1023.5 1056.5 1024.1 1057.5 1023.8 1058.5 1023.6 1059.5 1023.2 1060.5 1023.5 1061.5 1022.7 1062.5 1022.5 1063.5 1021.8 1064.5 1020.4 1065.5 1020.6 1066.5 1022.3 1067.5 1022.5 1068.5 1023 1069.5 1023.2 1070.5 1023.5 1071.5 1023.1 1072.5 1023.1 1073.5 1023.4 1074.5 1023 1075.5 1023 1076.5 1021.8 1077.5 1022.5 1078.5 1022.5 1079.5 1022.2 1080.5 1021.8 1081.5 1021.6 1082.5 1022.6 1083.5 1022 1084.5 1023.6 1085.5 1024.6 1086.5 1025.1 1087.5 1025.6 1088.5 1026.2 1089.5 1026.7 1090.5 1026.8 1091.5 1026.5 1092.5 1026.8 1093.5 1026.8 1094.5 1026.5 1095.5 1026.3 1096.5 1026 1097.5 1026.5 1098.5 1026.5 1099.5 1026 1100.5 1026.1 1101.5 1026.2 1102.5 1026.3 1103.5 1026.4 1104.5 1026.2 1105.5 1026.1 1106.5 1026.6 1107.5 1025.9 1108.5 1026.8 1109.5 1026 1110.5 1025.7 1111.5 1026.1 1112.5 1025.6 1113.5 1025.6 1114.5 1024.5 1115.5 1023.8 1116.5 1023.9 1117.5 1023.5 1118.5 1023.8 1119.5 1023.5 1120.5 1023.5 1121.5 1023.9 1122.5 1023.6 1123.5 1023.7 1124.5 1023.8 1125.5 1023.9 1126.5 1024.1 1127.5 1023.4 1128.5 1023.8 1129.5 1023.8 1130.5 1023.5 1131.5 1023.3 1132.5 1023.7 1133.5 1023.9 1134.5 1023.5 1135.5 1023 1136.5 1022.5 1137.5 1022.2 1138.5 1022.7 1139.5 1023.9 1140.5 1024.1 1141.5 1024.3 1142.5 1024.4 1143.5 1024.9 1144.5 1025.1 1145.5 1025.3 1146.5 1025.2 1147.5 1025.2 1148.5 1025.4 1149.5 1024.5 1150.5 1024.5 1151.5 1023.8 1152.5 1023.3 1153.5 1022.9 1154.5 1023.4 1155.5 1023.5 1156.5 1024.4 1157.5 1023.7 1158.5 1023.8 1159.5 1024.7 1160.5 1024.9 1161.5 1024.6 1162.5 1024.1 1163.5 1024 1164.5 1023.7 1165.5 1024 1166.5 1023.5 1167.5 1023.6 1168.5 1023.8 1169.5 1025 1170.5 1024.9 1171.5 1025 1172.5 1025.7 1173.5 1026.6 1174.5 1026.3 1175.5 1026.4 1176.5 1026.3 1177.5 1025.9 1178.5 1026.1 1179.5 1025.9 1180.5 1026.7 1181.5 1026.7 1182.5 1026.7 1183.5 1026.2 1184.5 1026.6 1185.5 1026.2 1186.5 1026.5 1187.5 1026.8 1188.5 1026.2 1189.5 1025.9 1190.5 1026.8 1191.5 1026 1192.5 1026.1 1193.5 1026.2 1194.5 1026.4 1195.5 1026.3 1196.5 1026.6 1197.5 1026.2 1198.5 1026.1 1199.5 1026 1200.5 1026.3 1201.5 1026.1 1202.5 1025.8 1203.5 1025.9 1204.5 1025.7 1205.5 1025.9 1206.5 1025.4 1207.5 1025.1 1208.5 1024.2 1209.5 1022.3 1210.5 1021.1 1211.5 1019.1 1212.5 1018.8 1213.5 1021.2 1214.5 1022.4 1215.5 1022.9 1216.5 1023.3 1217.5 1024.6 1218.5 1024.6 1219.5 1025.1 1220.5 1025.2 1221.5 1025.9 1222.5 1025.1 1223.5 1025.2 1224.5 1024.5 1225.5 1024.6 1226.5 1024.4 1227.5 1024.3 1228.5 1024.5 1229.5 1023.9 1230.5 1023.5 1231.5 1023.2 1232.5 1023.6 1233.5 1023.3 1234.5 1022.8 1235.5 1021.3 1236.5 1021.2 1237.5 1019.7 1238.5 1018.9 1239.5 1018.8 1240.5 1021.3 1241.5 1022 1242.5 1022.3 1243.5 1023 1244.5 1023.7 1245.5 1023.6 1246.5 1024.3 1247.5 1023.8 1248.5 1024.5 1249.5 1024.2 1250.5 1024.3 1251.5 1024.7 1252.5 1024.7 1253.5 1024.7 1254.5 1024.3 1255.5 1024.2 1256.5 1024.8 1257.5 1024.9 1258.5 1024.3 1259.5 1024.5 1260.5 1024.9 1261.5 1024.5 1262.5 1024.7 1263.5 1024.4 1264.5 1024.9 1265.5 1024.1 1266.5 1024.2 1267.5 1024.4 1268.5 1023.8 1269.5 1023.3 1270.5 1023.5 1271.5 1022.2 1272.5 1020.9 1273.5 1020 1274.5 1018.8 1275.5 1020.1 1276.5 1021.8 1277.5 1023.4 1278.5 1023.1 1279.5 1022.5 1280.5 1022 1281.5 1022.2 1282.5 1020.8 1283.5 1020.7 1284.5 1020.5 1285.5 1019.5 1286.5 1018.5 1287.5 1019.5 1288.5 1021.5 1289.5 1022.2 1290.5 1023.6 1291.5 1024.7 1292.5 1025.1 1293.5 1025.4 1294.5 1025.6 1295.5 1025.3 1296.5 1025 1297.5 1024.3 1298.5 1024 1299.5 1024 1300.5 1023.3 1301.5 1022.5 1302.5 1022 1303.5 1020.9 1304.5 1020.5 1305.5 1020.7 1306.5 1020.1 1307.5 1019.7 1308.5 1017.3 1309.5 1017.5 1310.5 1016.5 1311.5 1015.9 1312.5 1015.3 1313.5 1014.6 1314.5 1015.6 1315.5 1017.3 1316.5 1016.9 1317.5 1016.9 1318.5 1015.9 1319.5 1013.6 1320.5 1012.8 1321.5 1006.3 1322.5 987.3 1323.5 986.3 1324.5 985 1325.5 986.4 1326.5 988.8 1327.5 991.3 1328.5 992.1 1329.5 993.2 1330.5 997.8 1331.5 1003.3 1332.5 1006.2 1333.5 1011.8 1334.5 1013.9 1335.5 1016.9 1336.5 1016 1337.5 1014.9 1338.5 1011.8 1339.5 1010.9 1340.5 1007.8 1341.5 1004.1 1342.5 1003 1343.5 1002.9 1344.5 1004.5 1345.5 1008.5 1346.5 1010.3 1347.5 1014.1 1348.5 1017.7 1349.5 1020.6 1350.5 1021.2 1351.5 1019.6 1352.5 1018 1353.5 1011.1 1354.5 1003 1355.5 1003.4 1356.5 1000.6 1357.5 999.4 1358.5 999.2 1359.5 998.4 1360.5 1003.4 1361.5 1007.2 1362.5 1010.6 1363.5 1015.1 1364.5 1018.4 1365.5 1018.2 1366.5 1017.8 1367.5 1016.9 1368.5 1016 1369.5 1011.9 1370.5 1007.4 1371.5 1000.7 1372.5 999.6 1373.5 999.7 1374.5 998.4 1375.5 998.3 1376.5 998.7 1377.5 998.2 1378.5 997.7 1379.5 997.4 1380.5 998.1 1381.5 997.6 1382.5 1011 1383.5 1013.7 1384.5 1011.4 1385.5 1009.6 1386.5 1006 1387.5 1002.9 1388.5 997.3 1389.5 996.2 1390.5 994.5 1391.5 994 1392.5 996.7 1393.5 998 1394.5 1001 1395.5 1006.4 1396.5 1008.6 1397.5 1007 1398.5 1000.1 1399.5 999.7 1400.5 999.9 1401.5 998.2 1402.5 996.5 1403.5 992.1 1404.5 992.1 1405.5 991.4 1406.5 990.7 1407.5 991.6 1408.5 992.6 1409.5 993.3 1410.5 994.7 1411.5 994.4 1412.5 995.3 1413.5 1000.1 1414.5 1006 1415.5 1004.4 1416.5 1002.5 1417.5 999.2 1418.5 997.6 1419.5 996.2 1420.5 993.4 1421.5 991.8 1422.5 991.2 1423.5 990 1424.5 988.6 1425.5 990 1426.5 989.9 1427.5 990.7 1428.5 989.8 1429.5 987 1430.5 985.6 1431.5 988.9 1432.5 991.3 1433.5 993.5 1434.5 997.3 1435.5 998.7 1436.5 1000.3 1437.5 1001.9 1438.5 1001.9 1439.5 1001.8 1440.5 1003 1441.5 1005.4 1442.5 1005.3 1443.5 1003.4 1444.5 999.5 1445.5 993.2 1446.5 993.4 1447.5 992.4 1448.5 992.7 1449.5 994.8 1450.5 994.7 1451.5 995.3 1452.5 995.2 1453.5 995.8 1454.5 995.1 1455.5 995.1 1456.5 993.5 1457.5 989 1458.5 981.1 1459.5 979.8 1460.5 977.2 1461.5 976.1 1462.5 975.1 L1462.5 1027 1461.5 1026.1 1460.5 1026.9 1459.5 1026.6 1458.5 1026.4 1457.5 1026.8 1456.5 1027.1 1455.5 1026.6 1454.5 1027.3 1453.5 1026.9 1452.5 1026.4 1451.5 1028 1450.5 1028 1449.5 1027.2 1448.5 1027.7 1447.5 1027.1 1446.5 1028.4 1445.5 1027.5 1444.5 1027.2 1443.5 1028 1442.5 1028.5 1441.5 1028.4 1440.5 1028.4 1439.5 1026.8 1438.5 1026.6 1437.5 1026.6 1436.5 1026.5 1435.5 1027.3 1434.5 1025.9 1433.5 1026 1432.5 1025.7 1431.5 1025.7 1430.5 1026.6 1429.5 1025.3 1428.5 1026.2 1427.5 1025.7 1426.5 1025.8 1425.5 1025.5 1424.5 1025.8 1423.5 1026.9 1422.5 1025.9 1421.5 1027.7 1420.5 1027.8 1419.5 1028.5 1418.5 1028.5 1417.5 1028.3 1416.5 1029.1 1415.5 1028.4 1414.5 1027.8 1413.5 1027.9 1412.5 1028.3 1411.5 1028.2 1410.5 1028.1 1409.5 1026.9 1408.5 1027.3 1407.5 1027.8 1406.5 1026.5 1405.5 1027 1404.5 1027.5 1403.5 1026.7 1402.5 1027.5 1401.5 1026.3 1400.5 1026.4 1399.5 1026.7 1398.5 1026.2 1397.5 1026.7 1396.5 1026.7 1395.5 1026.8 1394.5 1026.7 1393.5 1027.7 1392.5 1027.3 1391.5 1027.1 1390.5 1027.8 1389.5 1028 1388.5 1027.5 1387.5 1028.8 1386.5 1028.1 1385.5 1027.9 1384.5 1028.7 1383.5 1028.6 1382.5 1028 1381.5 1027.9 1380.5 1028.2 1379.5 1029.6 1378.5 1028.7 1377.5 1029.1 1376.5 1028.5 1375.5 1029.2 1374.5 1029.9 1373.5 1030.7 1372.5 1030 1371.5 1029.7 1370.5 1029.9 1369.5 1030.2 1368.5 1031.6 1367.5 1030.4 1366.5 1030.6 1365.5 1032 1364.5 1032.2 1363.5 1030.7 1362.5 1030.7 1361.5 1031.7 1360.5 1030.3 1359.5 1030.2 1358.5 1029.9 1357.5 1031 1356.5 1030.3 1355.5 1029.8 1354.5 1030.4 1353.5 1030.2 1352.5 1029.8 1351.5 1029 1350.5 1029.8 1349.5 1028.4 1348.5 1029 1347.5 1028.4 1346.5 1029.2 1345.5 1029.2 1344.5 1028.5 1343.5 1027.8 1342.5 1028.8 1341.5 1029.1 1340.5 1029.2 1339.5 1029.3 1338.5 1029.8 1337.5 1029.6 1336.5 1030.1 1335.5 1030.6 1334.5 1031.4 1333.5 1031 1332.5 1029.8 1331.5 1030.6 1330.5 1029.3 1329.5 1030.1 1328.5 1029.2 1327.5 1029.4 1326.5 1028.9 1325.5 1029 1324.5 1028.9 1323.5 1029.4 1322.5 1029.5 1321.5 1030.6 1320.5 1031 1319.5 1031.2 1318.5 1031.4 1317.5 1031.2 1316.5 1031.5 1315.5 1031.5 1314.5 1031.9 1313.5 1031.3 1312.5 1032 1311.5 1031.8 1310.5 1031.9 1309.5 1032.2 1308.5 1031.9 1307.5 1031.7 1306.5 1032 1305.5 1032.4 1304.5 1032 1303.5 1032 1302.5 1032.8 1301.5 1032.4 1300.5 1033.4 1299.5 1033 1298.5 1033.7 1297.5 1033.8 1296.5 1033.9 1295.5 1033.6 1294.5 1033.3 1293.5 1033.5 1292.5 1033.6 1291.5 1033.3 1290.5 1033.4 1289.5 1033.8 1288.5 1034 1287.5 1033.2 1286.5 1033.6 1285.5 1033.6 1284.5 1032.9 1283.5 1032.8 1282.5 1032.8 1281.5 1033.2 1280.5 1033.3 1279.5 1032.9 1278.5 1032.9 1277.5 1032.7 1276.5 1033.2 1275.5 1033.5 1274.5 1033.2 1273.5 1033.5 1272.5 1032.9 1271.5 1033 1270.5 1033.5 1269.5 1033.5 1268.5 1033 1267.5 1032.7 1266.5 1033.4 1265.5 1032.6 1264.5 1032.7 1263.5 1033.5 1262.5 1033 1261.5 1033.2 1260.5 1033.3 1259.5 1032.7 1258.5 1032.4 1257.5 1033 1256.5 1032.9 1255.5 1032.7 1254.5 1032.2 1253.5 1032.9 1252.5 1033 1251.5 1032.9 1250.5 1032.2 1249.5 1032.6 1248.5 1032.6 1247.5 1031.8 1246.5 1032.7 1245.5 1031.9 1244.5 1032.3 1243.5 1032.4 1242.5 1031.9 1241.5 1032.2 1240.5 1032.1 1239.5 1032.5 1238.5 1031.9 1237.5 1032.6 1236.5 1031.8 1235.5 1031.9 1234.5 1032.1 1233.5 1032 1232.5 1032 1231.5 1032.3 1230.5 1032.1 1229.5 1032.1 1228.5 1032.8 1227.5 1032.6 1226.5 1032.7 1225.5 1032.7 1224.5 1032.4 1223.5 1032.9 1222.5 1032 1221.5 1032.6 1220.5 1032.1 1219.5 1032.2 1218.5 1032.9 1217.5 1032.2 1216.5 1032 1215.5 1032.7 1214.5 1032.5 1213.5 1032.1 1212.5 1032.3 1211.5 1032.7 1210.5 1032.6 1209.5 1032.4 1208.5 1032.4 1207.5 1032.7 1206.5 1032.7 1205.5 1032.9 1204.5 1032.4 1203.5 1032.5 1202.5 1032.7 1201.5 1032.5 1200.5 1032.7 1199.5 1032.7 1198.5 1032.8 1197.5 1032.9 1196.5 1032.8 1195.5 1033.1 1194.5 1032.4 1193.5 1032.7 1192.5 1032.7 1191.5 1032.8 1190.5 1033.1 1189.5 1032.7 1188.5 1032.7 1187.5 1032.7 1186.5 1032.8 1185.5 1032.7 1184.5 1033.1 1183.5 1032.8 1182.5 1032.5 1181.5 1032.6 1180.5 1032.5 1179.5 1033 1178.5 1032.4 1177.5 1032.5 1176.5 1032.6 1175.5 1032.9 1174.5 1033.2 1173.5 1032.9 1172.5 1032.3 1171.5 1032.8 1170.5 1033.1 1169.5 1033 1168.5 1032.3 1167.5 1032.5 1166.5 1032.4 1165.5 1032.4 1164.5 1032.6 1163.5 1032.8 1162.5 1032.3 1161.5 1032.5 1160.5 1033 1159.5 1032.7 1158.5 1033 1157.5 1033.2 1156.5 1032.8 1155.5 1032.3 1154.5 1033.1 1153.5 1032.9 1152.5 1032.8 1151.5 1032.4 1150.5 1032.4 1149.5 1033.3 1148.5 1032.5 1147.5 1032.5 1146.5 1032.4 1145.5 1033 1144.5 1033.2 1143.5 1033.2 1142.5 1032.9 1141.5 1033 1140.5 1032.5 1139.5 1033.2 1138.5 1032.4 1137.5 1032.5 1136.5 1032.9 1135.5 1032.6 1134.5 1032.7 1133.5 1033.2 1132.5 1033.1 1131.5 1032.9 1130.5 1033 1129.5 1032.5 1128.5 1032.9 1127.5 1032.3 1126.5 1032.9 1125.5 1032.6 1124.5 1032.6 1123.5 1032.3 1122.5 1032.8 1121.5 1032.5 1120.5 1032.7 1119.5 1032.7 1118.5 1033.2 1117.5 1032.8 1116.5 1032.5 1115.5 1033.1 1114.5 1032.3 1113.5 1033.1 1112.5 1032.4 1111.5 1033 1110.5 1033.1 1109.5 1032.7 1108.5 1032.6 1107.5 1033.2 1106.5 1032.5 1105.5 1032.6 1104.5 1032.5 1103.5 1033 1102.5 1033 1101.5 1032.3 1100.5 1032.4 1099.5 1033.2 1098.5 1032.8 1097.5 1032.3 1096.5 1033 1095.5 1033.2 1094.5 1032.6 1093.5 1032.6 1092.5 1032.6 1091.5 1033.1 1090.5 1032.7 1089.5 1032.5 1088.5 1033.2 1087.5 1032.9 1086.5 1033 1085.5 1032.5 1084.5 1032.8 1083.5 1032.4 1082.5 1032.5 1081.5 1032.3 1080.5 1032.8 1079.5 1033.1 1078.5 1032.6 1077.5 1032.3 1076.5 1033.1 1075.5 1032.9 1074.5 1032.9 1073.5 1032.3 1072.5 1032.8 1071.5 1032.9 1070.5 1032.6 1069.5 1032.3 1068.5 1032.7 1067.5 1032.7 1066.5 1032.6 1065.5 1033.2 1064.5 1032.7 1063.5 1032.8 1062.5 1032.7 1061.5 1033.3 1060.5 1032.7 1059.5 1032.5 1058.5 1032.5 1057.5 1032.7 1056.5 1032.7 1055.5 1032.9 1054.5 1032.6 1053.5 1032.4 1052.5 1033.2 1051.5 1032.6 1050.5 1033.2 1049.5 1032.4 1048.5 1033.3 1047.5 1032.5 1046.5 1033.1 1045.5 1033.1 1044.5 1033.2 1043.5 1033.2 1042.5 1032.4 1041.5 1032.3 1040.5 1032.4 1039.5 1032.7 1038.5 1032.3 1037.5 1033 1036.5 1033.3 1035.5 1033 1034.5 1032.5 1033.5 1032.4 1032.5 1033.2 1031.5 1033.2 1030.5 1032.6 1029.5 1033.1 1028.5 1033.1 1027.5 1032.6 1026.5 1032.2 1025.5 1033 1024.5 1032.9 1023.5 1033.1 1022.5 1032.4 1021.5 1032.5 1020.5 1032.3 1019.5 1032.4 1018.5 1032.9 1017.5 1032.8 1016.5 1032.5 1015.5 1032.7 1014.5 1032.7 1013.5 1032.4 1012.5 1032.1 1011.5 1033 1010.5 1032 1009.5 1032.6 1008.5 1032.1 1007.5 1032.5 1006.5 1032.1 1005.5 1032.8 1004.5 1032.3 1003.5 1032 1002.5 1032 1001.5 1032.1 1000.5 1032.4 999.5 1032.2 998.5 1032 997.5 1031.9 996.5 1032.6 995.5 1031.8 994.5 1032.6 993.5 1032.2 992.5 1032.6 991.5 1032.7 990.5 1032.5 989.5 1032.1 988.5 1032.5 987.5 1032.2 986.5 1032.5 985.5 1032.6 984.5 1032.5 983.5 1032 982.5 1032.6 981.5 1031.8 980.5 1032.5 979.5 1032.1 978.5 1031.6 977.5 1031.7 976.5 1032.4 975.5 1032.5 974.5 1032 973.5 1032.4 972.5 1032.4 971.5 1032.4 970.5 1031.6 969.5 1031.6 968.5 1032 967.5 1032.2 966.5 1032.2 965.5 1031.7 964.5 1031.7 963.5 1031.7 962.5 1031.9 961.5 1032 960.5 1032.2 959.5 1031.7 958.5 1031.8 957.5 1032.2 956.5 1031.9 955.5 1031.6 954.5 1031.6 953.5 1032.2 952.5 1031.7 951.5 1031.3 950.5 1031.6 949.5 1031.1 948.5 1031.5 947.5 1030.7 946.5 1031.2 945.5 1031 944.5 1031 943.5 1030.6 942.5 1030.9 941.5 1030.6 940.5 1030.9 939.5 1031.3 938.5 1031.4 937.5 1031.1 936.5 1030.6 935.5 1031 934.5 1031.2 933.5 1030.3 932.5 1031.1 931.5 1030.1 930.5 1030.3 929.5 1030.3 928.5 1029.9 927.5 1029.9 926.5 1030 925.5 1030.3 924.5 1030.3 923.5 1029.8 922.5 1030.2 921.5 1030.2 920.5 1030.4 919.5 1029.9 918.5 1029.9 917.5 1029.6 916.5 1029.9 915.5 1029.7 914.5 1030 913.5 1030.3 912.5 1029.7 911.5 1029.3 910.5 1029.6 909.5 1029 908.5 1029.2 907.5 1029.1 906.5 1029.3 905.5 1028.8 904.5 1028.6 903.5 1028.6 902.5 1028.5 901.5 1028.5 900.5 1028.6 899.5 1028.7 898.5 1029.3 897.5 1028.7 896.5 1028.6 895.5 1029.3 894.5 1028.6 893.5 1029.1 892.5 1029.2 891.5 1028.8 890.5 1028.7 889.5 1028.9 888.5 1029.4 887.5 1028.9 886.5 1028.7 885.5 1028.5 884.5 1028.6 883.5 1029.2 882.5 1029.1 881.5 1029.5 880.5 1029.2 879.5 1029.8 878.5 1029.2 877.5 1029.6 876.5 1029.5 875.5 1029.8 874.5 1030 873.5 1029.4 872.5 1029.4 871.5 1029.7 870.5 1029.4 869.5 1029.8 868.5 1028.9 867.5 1029 866.5 1028.7 865.5 1029.4 864.5 1028.7 863.5 1028.9 862.5 1028.4 861.5 1028.8 860.5 1028.9 859.5 1028.8 858.5 1028 857.5 1028.2 856.5 1027.9 855.5 1028 854.5 1028.3 853.5 1028 852.5 1027.6 851.5 1027.9 850.5 1028.5 849.5 1028.6 848.5 1028.1 847.5 1028.8 846.5 1029.1 845.5 1029 844.5 1028.5 843.5 1029.3 842.5 1028.8 841.5 1028.4 840.5 1028.1 839.5 1028.2 838.5 1028.6 837.5 1028.7 836.5 1028.4 835.5 1027.7 834.5 1028.5 833.5 1028.2 832.5 1027.7 831.5 1027.9 830.5 1027.7 829.5 1027.6 828.5 1028.3 827.5 1027.6 826.5 1028.1 825.5 1028.2 824.5 1028.4 823.5 1028.2 822.5 1027.3 821.5 1027.1 820.5 1027.6 819.5 1026.9 818.5 1027.2 817.5 1026.9 816.5 1026.4 815.5 1026.1 814.5 1025.8 813.5 1025.8 812.5 1025.5 811.5 1025.6 810.5 1025.9 809.5 1025.9 808.5 1025.9 807.5 1025.4 806.5 1025.4 805.5 1025.6 804.5 1025.6 803.5 1025.4 802.5 1025.5 801.5 1024.8 800.5 1025.1 799.5 1024.8 798.5 1025.4 797.5 1025.5 796.5 1026 795.5 1026.5 794.5 1025.6 793.5 1026.3 792.5 1027.2 791.5 1026.7 790.5 1026.9 789.5 1026.9 788.5 1027.1 787.5 1028 786.5 1026.4 785.5 1027.7 784.5 1027 783.5 1025.8 782.5 1026.7 781.5 1026 780.5 1026.3 779.5 1026.3 778.5 1025 777.5 1026 776.5 1025.2 775.5 1024.8 774.5 1025.1 773.5 1023.9 772.5 1023.5 771.5 1024.5 770.5 1022.9 769.5 1022.3 768.5 1022.2 767.5 1023.4 766.5 1021.6 765.5 1022.1 764.5 1022.3 763.5 1023 762.5 1023.9 761.5 1025.9 760.5 1026.4 759.5 1025.9 758.5 1025.8 757.5 1027.5 756.5 1027 755.5 1025.2 754.5 1024.8 753.5 1023.8 752.5 1022.8 751.5 1022 750.5 1022.1 749.5 1021 748.5 1021.4 747.5 1020 746.5 1020.4 745.5 1020.5 744.5 1022.7 743.5 1023 742.5 1022.2 741.5 1022 740.5 1020.3 739.5 1021 738.5 1019.1 737.5 1019.1 736.5 1018.6 735.5 1019.1 734.5 1018.6 733.5 1019.1 732.5 1019.9 731.5 1020.3 730.5 1020.5 729.5 1021.8 728.5 1021.7 727.5 1021 726.5 1022.2 725.5 1022.2 724.5 1021.9 723.5 1022.7 722.5 1024 721.5 1023.8 720.5 1023.9 719.5 1024.3 718.5 1024.3 717.5 1024.1 716.5 1024 715.5 1024.5 714.5 1025.7 713.5 1026 712.5 1026.6 711.5 1025.8 710.5 1025.1 709.5 1024.2 708.5 1024.5 707.5 1023.1 706.5 1023.2 705.5 1022.7 704.5 1022.8 703.5 1024.5 702.5 1023.4 701.5 1024.4 700.5 1024.5 699.5 1024.4 698.5 1024 697.5 1024.6 696.5 1023.1 695.5 1021.7 694.5 1022.7 693.5 1022.8 692.5 1023.4 691.5 1022.8 690.5 1022.2 689.5 1023.5 688.5 1022.3 687.5 1023.8 686.5 1023.6 685.5 1023.3 684.5 1023.8 683.5 1024.5 682.5 1024.3 681.5 1023.7 680.5 1024.9 679.5 1025.2 678.5 1025.3 677.5 1025.2 676.5 1025.7 675.5 1025.5 674.5 1025.7 673.5 1025.8 672.5 1025.9 671.5 1025.6 670.5 1023.9 669.5 1023.3 668.5 1022.7 667.5 1021.1 666.5 1020.6 665.5 1019.9 664.5 1018 663.5 1018.9 662.5 1019 661.5 1018.8 660.5 1019.3 659.5 1020.4 658.5 1020.6 657.5 1020.2 656.5 1020 655.5 1022.1 654.5 1022.5 653.5 1022.5 652.5 1022.8 651.5 1022.7 650.5 1022.9 649.5 1023.7 648.5 1023.8 647.5 1023.8 646.5 1022.7 645.5 1023.5 644.5 1023.1 643.5 1023.9 642.5 1022.6 641.5 1022.5 640.5 1022.9 639.5 1023.1 638.5 1023.5 637.5 1024.2 636.5 1022.9 635.5 1023.2 634.5 1024.1 633.5 1024 632.5 1024 631.5 1022.7 630.5 1022.3 629.5 1023.7 628.5 1022.7 627.5 1023.2 626.5 1022.8 625.5 1023.6 624.5 1023 623.5 1023.6 622.5 1023.7 621.5 1022.5 620.5 1022.5 619.5 1023.5 618.5 1024.3 617.5 1023.3 616.5 1024.3 615.5 1024.5 614.5 1024.5 613.5 1025.1 612.5 1025.3 611.5 1026.5 610.5 1026.1 609.5 1026 608.5 1026.4 607.5 1023.9 606.5 1023.9 605.5 1023.1 604.5 1021.3 603.5 1022.8 602.5 1021 601.5 1022.6 600.5 1021.3 599.5 1022.2 598.5 1020.2 597.5 1020.5 596.5 1020.1 595.5 1021.2 594.5 1019.6 593.5 1019.5 592.5 1019.5 591.5 1021.1 590.5 1020.4 589.5 1020.8 588.5 1021.8 587.5 1021.9 586.5 1021.8 585.5 1021.7 584.5 1022.6 583.5 1023.2 582.5 1022.9 581.5 1024.4 580.5 1024.2 579.5 1025.3 578.5 1025.2 577.5 1025.5 576.5 1025.1 575.5 1025.1 574.5 1025.5 573.5 1024.6 572.5 1026.5 571.5 1025.6 570.5 1025.6 569.5 1025.5 568.5 1025.4 567.5 1025.2 566.5 1026.1 565.5 1023.8 564.5 1025.3 563.5 1025 562.5 1023.8 561.5 1024.5 560.5 1024.9 559.5 1024.5 558.5 1026 557.5 1026.1 556.5 1026.4 555.5 1025.2 554.5 1025.6 553.5 1025.1 552.5 1026.3 551.5 1026 550.5 1026.5 549.5 1026.8 548.5 1025.9 547.5 1024.7 546.5 1025.8 545.5 1026.2 544.5 1025.8 543.5 1025 542.5 1025.7 541.5 1025 540.5 1024.5 539.5 1024.5 538.5 1024.9 537.5 1024.5 536.5 1024.6 535.5 1022.9 534.5 1023.1 533.5 1023.5 532.5 1023.9 531.5 1022.4 530.5 1022 529.5 1022.5 528.5 1022.7 527.5 1021.8 526.5 1022.8 525.5 1021.5 524.5 1022.6 523.5 1022.2 522.5 1020.8 521.5 1020.8 520.5 1021.2 519.5 1020.4 518.5 1020.7 517.5 1021.2 516.5 1019.9 515.5 1020 514.5 1020.4 513.5 1020.7 512.5 1019.7 511.5 1020.7 510.5 1019.4 509.5 1019.5 508.5 1019.7 507.5 1018.6 506.5 1018.9 505.5 1018.6 504.5 1012.9 503.5 1005.4 502.5 997.6 501.5 998.4 500.5 1000.7 499.5 1002.4 498.5 1003.3 497.5 1003.4 496.5 1004.5 495.5 1004.2 494.5 1005.7 493.5 1005.9 492.5 1005.2 491.5 1007 490.5 1010.4 489.5 1012.9 488.5 1015.5 487.5 1018 486.5 1021.6 485.5 1021.2 484.5 1021.4 483.5 1020.7 482.5 1021.5 481.5 1021 480.5 1020.1 479.5 1020.1 478.5 1019.7 477.5 1018.8 476.5 1020 475.5 1018.2 474.5 1015.2 473.5 1014.6 472.5 1011.5 471.5 1010.5 470.5 1007.7 469.5 1010.4 468.5 1013.5 467.5 1016.1 466.5 1017.2 465.5 1019.7 464.5 1021 463.5 1022.1 462.5 1024.1 461.5 1023.9 460.5 1025.1 459.5 1026.4 458.5 1026.3 457.5 1025.1 456.5 1025.8 455.5 1023.9 454.5 1024.7 453.5 1024.4 452.5 1023.7 451.5 1022.8 450.5 1022.7 449.5 1023.2 448.5 1020.5 447.5 1020 446.5 1017.2 445.5 1015.7 444.5 1013.8 443.5 1013.7 442.5 1013 441.5 1012.8 440.5 1010.7 439.5 1010.4 438.5 1010.2 437.5 1010.9 436.5 1013.3 435.5 1014.1 434.5 1015.9 433.5 1017.9 432.5 1020.6 431.5 1020.7 430.5 1020.4 429.5 1020.8 428.5 1022.2 427.5 1022.6 426.5 1023.5 425.5 1023.6 424.5 1024.5 423.5 1025.6 422.5 1025.3 421.5 1025.3 420.5 1025.1 419.5 1024.6 418.5 1024.5 417.5 1023.3 416.5 1023.9 415.5 1023.6 414.5 1022.6 413.5 1022.7 412.5 1022.4 411.5 1022.6 410.5 1022.3 409.5 1021.4 408.5 1022.5 407.5 1022.5 406.5 1021.9 405.5 1023 404.5 1022.4 403.5 1021.4 402.5 1021.4 401.5 1021.4 400.5 1022.6 399.5 1022.4 398.5 1023.8 397.5 1023.5 396.5 1024.6 395.5 1024.7 394.5 1023.6 393.5 1024.9 392.5 1024.8 391.5 1025.6 390.5 1025.4 389.5 1025.5 388.5 1025.1 387.5 1024.4 386.5 1023.9 385.5 1024.6 384.5 1024.3 383.5 1023.3 382.5 1024.1 381.5 1023.3 380.5 1023.4 379.5 1023.6 378.5 1023.5 377.5 1022.9 376.5 1023.1 375.5 1022.9 374.5 1022.7 373.5 1022.9 372.5 1023.5 371.5 1023.4 370.5 1024.5 369.5 1024.7 368.5 1025 367.5 1024.3 366.5 1025.8 365.5 1025.2 364.5 1023.2 363.5 1023.1 362.5 1023.7 361.5 1023.1 360.5 1022.6 359.5 1022 358.5 1022.2 357.5 1021.8 356.5 1019.3 355.5 1017.8 354.5 1015.1 353.5 1015.2 352.5 1016.3 351.5 1017.8 350.5 1018.7 349.5 1019.2 348.5 1020.7 347.5 1020.6 346.5 1021.4 345.5 1020.8 344.5 1021.6 343.5 1020.8 342.5 1022.7 341.5 1022.5 340.5 1021.2 339.5 1019.2 338.5 1018 337.5 1016.7 336.5 1016.6 335.5 1015.1 334.5 1014.2 333.5 1014.8 332.5 1014.5 331.5 1015.4 330.5 1015.9 329.5 1016.7 328.5 1018.5 327.5 1018 326.5 1019 325.5 1020 324.5 1018.2 323.5 1019.3 322.5 1017.8 321.5 1019.4 320.5 1019 319.5 1017.6 318.5 1018.4 317.5 1018.9 316.5 1019.2 315.5 1019.1 314.5 1020.8 313.5 1021.1 312.5 1022.2 311.5 1022.3 310.5 1021.3 309.5 1019.6 308.5 1019.7 307.5 1017.8 306.5 1018 305.5 1016.9 304.5 1015.7 303.5 1015.3 302.5 1015.8 301.5 1017.4 300.5 1017.7 299.5 1016.7 298.5 1019 297.5 1019.5 296.5 1018.7 295.5 1018.8 294.5 1019.8 293.5 1018.9 292.5 1017.9 291.5 1016.5 290.5 1013.3 289.5 1012.4 288.5 1014.5 287.5 1016.4 286.5 1018 285.5 1017.9 284.5 1017.8 283.5 1017.7 282.5 1016.7 281.5 1015.9 280.5 1016 279.5 1017.3 278.5 1017.8 277.5 1018.2 276.5 1018.3 275.5 1019.9 274.5 1021.3 273.5 1021.3 272.5 1019.5 271.5 1017.5 270.5 1017.5 269.5 1015.5 268.5 1014.6 267.5 1017.3 266.5 1018.3 265.5 1020.7 264.5 1021.8 263.5 1021.3 262.5 1021.2 261.5 1022.4 260.5 1021 259.5 1021.5 258.5 1022.5 257.5 1022.2 256.5 1021.3 255.5 1021.2 254.5 1022.3 253.5 1022.8 252.5 1022 251.5 1022.6 250.5 1021.8 249.5 1022 248.5 1022.4 247.5 1021.2 246.5 1022.2 245.5 1021.5 244.5 1019.3 243.5 1017.6 242.5 1015.9 241.5 1014.8 240.5 1013.8 239.5 1015.5 238.5 1015.9 237.5 1015.6 236.5 1015.5 235.5 1018.3 234.5 1019.5 233.5 1020.3 232.5 1020.9 231.5 1020.6 230.5 1023 229.5 1023.6 228.5 1022.7 227.5 1022 226.5 1019.2 225.5 1017.7 224.5 1015.3 223.5 1014.5 222.5 1018.1 221.5 1019.4 220.5 1022.8 219.5 1021.6 218.5 1022.1 217.5 1021.1 216.5 1021.7 215.5 1020.3 214.5 1019.5 213.5 1019.7 212.5 1018.9 211.5 1019.5 210.5 1017.9 209.5 1017.3 208.5 1017.4 207.5 1016.6 206.5 1015.6 205.5 1013.9 204.5 1014.3 203.5 1014.7 202.5 1015.7 201.5 1016.6 200.5 1016.8 199.5 1017.7 198.5 1018.3 197.5 1018.5 196.5 1019.7 195.5 1020.1 194.5 1019.5 193.5 1020.8 192.5 1020.8 191.5 1021.8 190.5 1022.1 189.5 1021.6 188.5 1020.3 187.5 1021 186.5 1020.1 185.5 1020 184.5 1017.5 183.5 1017.4 182.5 1018.5 181.5 1019.7 180.5 1021.5 179.5 1023.3 178.5 1023.8 177.5 1024.1 176.5 1024.8 175.5 1023.2 174.5 1023 173.5 1024.5 172.5 1023.5 171.5 1022.8 170.5 1023.5 169.5 1023.1 168.5 1022.7 167.5 1022.9 166.5 1023.5 165.5 1023.3 164.5 1023.2 163.5 1023.5 162.5 1023.5 161.5 1025 160.5 1023.6 159.5 1025.6 158.5 1025.9 157.5 1025.7 156.5 1026.6 155.5 1026.9 154.5 1027.5 153.5 1027.3 152.5 1027.3 151.5 1026.6 150.5 1026.3 149.5 1024.4 148.5 1023.9 147.5 1023.9 146.5 1023.6 145.5 1025.5 144.5 1025.5 143.5 1025.6 142.5 1025.4 141.5 1026.9 140.5 1027.6 139.5 1026 138.5 1027.7 137.5 1026.9 136.5 1026.9 135.5 1027.2 134.5 1026.3 133.5 1026.6 132.5 1025.7 131.5 1026.7 130.5 1027.1 129.5 1026.2 128.5 1026.9 127.5 1026.3 126.5 1026.4 125.5 1027.6 124.5 1027.3 123.5 1028.9 122.5 1027.9 121.5 1027.9 120.5 1026.4 119.5 1025.5 118.5 1026.3 117.5 1024 116.5 1024.8Z" fill="#1f77b4"/>
<path d="M116.5 1006.4h0M116.5 1024.2h0M118.4 1024.2h0M117.5 1005.9h0M117.5 1023.4h0M119 1005.7h0M118.3 1023.1h0M118.5 1009.2h0M118.5 1025.7h0M116.5 1007h0M119.5 1009.2h0M119.5 1024.9h0M120.5 1009.1h0M120.5 1025.8h0M121.5 1010.9h0M121.5 1027.3h0M122.5 1010h0M122.5 1027.3h0M123.5 1009.5h0M123.5 1028.3h0M123.4 1029.3h0M125.6 1031.1h0M124.5 1009.4h0M124.5 1026.7h0M125.1 1009.4h0M124.6 1008.3h0M125.5 1010h0M125.5 1027h0M126.2 1009.8h0M126.5 1009.6h0M126.5 1025.8h0M127.5 1007.2h0M127.5 1025.7h0M127.2 1005.4h0M128.2 1004.7h0M128.5 1007.2h0M128.5 1026.3h0M130.6 1006.1h0M129.5 1005.6h0M129.5 1025.6h0M131.4 1025.3h0M130.5 1002.7h0M130.5 1026.5h0M131.5 1002.2h0M131.5 1026.1h0M132 997.9h0M131.9 1027.1h0M132.5 998.8h0M132.5 1025.1h0M133.5 1001.3h0M133.5 1026h0M133.8 1001.5h0M134.5 1002.4h0M134.5 1025.7h0M135.5 1004.9h0M135.5 1026.6h0M136.9 1027.5h0M136.5 1005.1h0M136.5 1026.3h0M137.5 1004.5h0M137.5 1026.3h0M139.2 1027.4h0M138.5 1003.2h0M138.5 1027.1h0M139.5 1001.5h0M139.5 1025.4h0M140.7 1026.2h0M140.5 999.3h0M140.5 1027h0M139.7 1027.9h0M141.5 999.9h0M141.5 1026.3h0M143.3 1000.1h0M142.5 999h0M142.5 1024.8h0M143.5 998.6h0M143.5 1025h0M142.6 997.8h0M144.1 1024.6h0M144.5 998.9h0M144.5 1024.9h0M145.5 997.6h0M145.5 1024.9h0M146.5 996.8h0M146.5 1023h0M146.7 1022.7h0M147.5 998.1h0M147.5 1023.3h0M148.5 998.3h0M148.5 1023.3h0M150.5 1022.9h0M149.5 999.2h0M149.5 1023.8h0M149.5 997.9h0M150.5 998.6h0M150.5 1025.7h0M152.4 997.3h0M152.3 1026.4h0M151.5 997.8h0M151.5 1026h0M153.4 997.6h0M152.5 999.3h0M152.5 1026.7h0M152 1027.7h0M153.5 1000.5h0M153.5 1026.7h0M153.7 1000.8h0M154.5 1001.3h0M154.5 1026.9h0M155 1027h0M155.5 1002.3h0M155.5 1026.3h0M157.3 1027h0M156.5 1002h0M156.5 1026h0M158 1001.4h0M157.5 1001.1h0M157.5 1025.1h0M158.5 999.6h0M158.5 1025.3h0M160.6 1025.1h0M159.5 996.7h0M159.5 1025h0M160.5 993.5h0M160.5 1023h0M160.8 993.2h0M161.5 989.7h0M161.5 1024.4h0M162.5 989.6h0M162.5 1022.9h0M161.4 989.9h0M163.5 992.5h0M163.5 1022.9h0M164.5 996.3h0M164.5 1022.6h0M164.8 996.2h0M165.5 999.1h0M165.5 1022.7h0M166 997.2h0M166.5 996.8h0M166.5 1022.9h0M167.6 996.2h0M167.5 997.3h0M167.5 1022.3h0M168.5 995.1h0M168.5 1022.1h0M166.3 1022.7h0M169.5 993.2h0M169.5 1022.5h0M169.5 992.6h0M168.3 1022.6h0M170.5 992.9h0M170.5 1022.9h0M171.5 991.7h0M171.5 1022.2h0M170.5 1024.5h0M172.5 992.1h0M172.5 1022.9h0M173.5 992.3h0M173.5 1023.9h0M174.5 993.5h0M174.5 1022.4h0M175.5 991.6h0M175.5 1022.6h0M174.5 991.1h0M176.5 991.8h0M176.5 1024.2h0M174.4 992.1h0M175.7 1023.9h0M177.5 989.8h0M177.5 1023.5h0M178.5 989h0M178.5 1023.2h0M179.5 984.4h0M179.5 1022.7h0M180.1 983.9h0M180.5 971.3h0M180.5 1020.9h0M182.2 968.3h0M181.5 952.8h0M181.5 1019.1h0M182.4 1021h0M182.5 949.7h0M182.5 1017.9h0M183.5 947.1h0M183.5 1016.8h0M184.8 1017.7h0M184.5 961.2h0M184.5 1016.9h0M185.5 972.1h0M185.5 1019.4h0M184.9 1019.9h0M186.5 977.2h0M186.5 1019.5h0M185.9 972.1h0M187.5 978.7h0M187.5 1020.4h0M187.2 978.2h0M188.5 978.5h0M187.4 972.6h0M188.5 981.1h0M188.5 1019.7h0M189.5 976.9h0M189.5 1021h0M190.6 971.6h0M190.5 972.8h0M190.5 1021.5h0M192.5 969.1h0M191.5 962.2h0M191.5 1021.2h0M191.6 962.6h0M192.5 957.7h0M192.5 1020.2h0M193.5 953.4h0M193.5 1020.2h0M194.5 940.9h0M194.5 1018.9h0M195.7 1018.9h0M195.5 937.6h0M195.5 1019.5h0M193.7 936.9h0M196.5 933.6h0M196.5 1019.1h0M196.8 1019.3h0M197.5 932h0M197.5 1017.9h0M197.4 931.3h0M198.5 938.1h0M198.5 1017.7h0M199.5 944.5h0M199.5 1017.1h0M200.5 949.4h0M200.5 1016.2h0M201.5 953.4h0M201.5 1016h0M202.5 956.1h0M202.5 1015.1h0M201.8 955.8h0M203.5 936h0M203.5 1014.1h0M204.5 899h0M204.5 1013.7h0M205.5 882.2h0M205.5 1013.3h0M206.5 876.8h0M206.5 1015h0M207.5 867.5h0M207.5 890.7h0M207.5 1016h0M205.8 1016.1h0M208.5 902.6h0M208.5 1016.8h0M207.3 901h0M209.5 937.7h0M209.5 1016.7h0M210.5 957.9h0M210.5 1017.3h0M212.6 1017.5h0M211.5 969.3h0M211.5 1018.9h0M210.1 1020.9h0M212.5 973.9h0M212.5 1018.3h0M213.5 973.6h0M213.5 1019.1h0M214.5 972.3h0M214.5 1018.9h0M213.9 970.9h0M215.5 968.9h0M215.5 1019.7h0M216.5 965.5h0M216.5 1021.1h0M214.3 965.3h0M217.5 961.3h0M217.5 1020.5h0M218.5 948.3h0M218.5 1021.5h0M219.5 932.4h0M219.5 1021h0M219 925.8h0M220.5 905.8h0M220.5 1022.2h0M220.1 905.5h0M221.5 893.8h0M221.5 1018.8h0M223 893.4h0M222.5 880.1h0M222.5 1017.5h0M223.5 884.7h0M223.5 1013.9h0M224.5 891.8h0M224.5 1014.7h0M226.1 889.9h0M225.5 909h0M225.5 1017.1h0M226.5 927.9h0M226.5 1018.6h0M227.1 1020.1h0M227.5 943.9h0M227.5 1021.4h0M228.5 952.8h0M228.5 1022.1h0M228.8 952.5h0M229.5 958.3h0M229.5 1023h0M228.5 958.1h0M228.9 1024h0M230.5 960.9h0M230.5 1022.4h0M231.5 957.5h0M231.5 1020h0M231.7 955h0M232.5 952.8h0M232.5 1020.3h0M233.5 952.7h0M233.5 1019.7h0M234.5 951.6h0M234.5 1018.9h0M234.1 950.5h0M235.5 953.4h0M235.5 1017.7h0M236.5 952.8h0M236.5 1014.9h0M237.5 952.9h0M237.5 1015h0M238.5 952.8h0M238.5 1015.3h0M239.5 951.9h0M239.5 1014.9h0M240.5 952.2h0M240.5 1013.2h0M238.8 952.6h0M241.5 952.2h0M241.5 1014.2h0M242.5 954.2h0M242.5 1015.3h0M241.9 954h0M241.9 1015.9h0M243.5 953.9h0M243.5 1017h0M243.9 1016.6h0M244.5 954.3h0M244.5 1018.7h0M245.5 953.1h0M245.5 1020.9h0M246.5 953.3h0M246.5 1021.6h0M245 951.8h0M244.5 1021.7h0M247.5 953.5h0M247.5 1020.6h0M248.5 955.2h0M248.5 1021.8h0M249.5 951.5h0M249.5 1021.4h0M249.5 950.5h0M250.5 946h0M250.5 1021.2h0M251.5 936.6h0M251.5 1022h0M251.1 936.4h0M253.5 1022.8h0M252.5 929.8h0M252.5 1021.4h0M251.2 929.4h0M253.5 929.8h0M253.5 1022.2h0M253.4 929.9h0M254.5 929.7h0M254.5 1021.7h0M255.5 930.6h0M255.5 1020.6h0M256.5 938.1h0M256.5 1020.7h0M257.5 943.9h0M257.5 1021.6h0M256.3 943.9h0M256.7 943.7h0M258.5 938.1h0M258.5 1021.9h0M259.5 931.3h0M259.5 1020.9h0M260.5 938.9h0M260.5 1020.4h0M261.5 946.6h0M261.5 1021.8h0M262.5 951h0M262.5 1020.6h0M264 951.1h0M263.5 951.9h0M263.5 1020.7h0M264.3 952.2h0M264.8 951.1h0M264.5 950.4h0M264.5 1021.2h0M265.5 941.1h0M265.5 1020.1h0M266.5 927.7h0M266.5 1017.7h0M267.5 907.8h0M267.5 1016.7h0M266.9 907.1h0M268.5 911.2h0M268.5 1014h0M266.8 1015.1h0M269.5 920.5h0M269.5 1014.9h0M270.8 1015.1h0M270.5 931.5h0M270.5 1016.9h0M271.5 941.9h0M271.5 1016.9h0M272.5 946.7h0M272.5 1018.9h0M273.5 955.6h0M273.5 1020.7h0M274.5 968.9h0M274.5 1020.7h0M274.5 968.8h0M275.5 973.6h0M275.5 1019.3h0M276.9 974h0M276.5 972h0M276.5 1017.7h0M277.5 971h0M277.5 1017.6h0M278.5 968.4h0M278.5 1017.2h0M279.5 962.6h0M279.5 1016.7h0M280.5 957.1h0M280.5 1015.4h0M281.1 957.2h0M281.5 952.3h0M281.5 1015.3h0M282.5 945.3h0M282.5 1016.1h0M283.5 930h0M283.5 1017.1h0M281.4 1017.3h0M284.5 923.3h0M284.5 1017.2h0M285.5 912.4h0M285.5 1017.3h0M286.5 901.6h0M286.5 1017.4h0M286.3 1017.2h0M287.5 902.3h0M287.5 1015.8h0M286.7 899.3h0M288.5 903.8h0M288.5 1013.9h0M289.2 1013.6h0M289.5 914.6h0M289.5 1011.8h0M290.5 923.6h0M290.5 1012.7h0M291.5 928.9h0M291.5 1015.9h0M292.5 949.5h0M292.5 1017.3h0M293.5 959.5h0M293.5 1018.3h0M294.5 962.8h0M294.5 1019.2h0M292.4 962.7h0M295.5 960.9h0M295.5 1018.2h0M296.5 961.7h0M296.5 1018.1h0M297.5 959.5h0M297.5 1018.9h0M297.2 958h0M296.9 959.7h0M299.5 1018.8h0M298.5 959.2h0M298.5 1018.4h0M296.5 1018.3h0M299.5 961h0M299.5 1016.1h0M299.9 958.9h0M300.5 960.8h0M300.5 1017.1h0M302.6 960.3h0M301.5 962.1h0M301.5 1016.8h0M302.5 952.1h0M302.5 1015.2h0M303.5 1016h0M303.5 915.1h0M303.5 1014.7h0M304.7 1015.5h0M304.5 897.3h0M304.5 1015.1h0M305.5 890.8h0M305.5 1016.3h0M307 1016h0M306.5 894.5h0M306.5 1017.4h0M306.2 892.8h0M307.5 901.3h0M307.5 1017.2h0M308.5 920.8h0M308.5 1019.1h0M309.5 938.6h0M309.5 1019h0M310.5 945.2h0M310.5 1020.7h0M311.5 946.3h0M311.5 1021.7h0M312.9 1022.9h0M312.5 945.9h0M312.5 1021.6h0M314.5 946h0M310.7 944.5h0M313.5 944.5h0M313.5 1020.5h0M314.5 944h0M314.5 1020.2h0M315.5 943.7h0M315.5 1018.5h0M316.5 943.9h0M316.5 1018.6h0M317.5 943.2h0M317.5 1018.3h0M317.8 941.6h0M319.2 1020.9h0M318.5 943.8h0M318.5 1017.8h0M317.3 944.1h0M319.5 943.3h0M319.5 1017h0M318.8 942.1h0M320.9 1017.1h0M320.5 943.3h0M320.5 1018.4h0M320.7 942.8h0M321.5 943.2h0M321.5 1018.8h0M319.6 1019.3h0M322.5 942.4h0M322.5 1017.2h0M323.2 942.6h0M323.5 940.2h0M323.5 1018.7h0M324.5 941.1h0M324.5 1017.6h0M325.5 945.4h0M325.5 1019.4h0M327.6 1020h0M326.5 947.2h0M326.5 1018.4h0M328.4 1019.7h0M327.5 948.4h0M327.5 1017.4h0M328.5 949h0M328.5 1017.9h0M327 948.7h0M329.5 948.7h0M329.5 1016.1h0M330.5 946.5h0M330.5 1015.3h0M331.5 944.2h0M331.5 1014.8h0M332.5 939.6h0M332.5 1013.9h0M333.1 938.4h0M333.5 933h0M333.5 1014.2h0M334 932.2h0M334.5 928h0M334.5 1013.6h0M335 925.5h0M335.5 926.9h0M335.5 1014.5h0M333.5 923.9h0M336.5 934.1h0M336.5 1016h0M337.5 939.2h0M337.5 1016.1h0M339 939.4h0M336.6 1016.3h0M338.5 942.9h0M338.5 1017.4h0M339.9 943.2h0M337.2 941h0M339.5 947.1h0M339.5 1018.6h0M339.6 946.9h0M340.5 950h0M340.5 1020.6h0M342.7 947.4h0M338.5 949h0M341.5 950.2h0M341.5 1021.9h0M342.5 951.3h0M342.5 1022.1h0M343.5 965.2h0M343.5 1020.2h0M343.1 956.9h0M344.5 976.7h0M344.5 1021h0M345.5 983h0M345.5 1020.2h0M346.5 981.8h0M346.5 1020.8h0M347.4 979.8h0M347.5 977.1h0M347.5 1020h0M346.1 1022.1h0M348.5 971.2h0M348.5 1020.1h0M349.5 963.3h0M349.5 1018.6h0M350.5 961.5h0M350.5 1018.1h0M352 960.7h0M350.9 1017.8h0M351.5 959.3h0M351.5 1017.2h0M351.1 957.7h0M352.5 957.2h0M352.5 1015.7h0M352.8 955.7h0M353.5 956h0M353.5 1014.6h0M354.3 956h0M354.5 953h0M354.5 1014.5h0M353.7 949.7h0M355.5 953.7h0M355.5 1017.2h0M357.2 1020.4h0M356.5 955.3h0M356.5 1018.7h0M357.5 955.8h0M357.5 1021.2h0M358.5 957.4h0M358.5 1021.6h0M357.3 954.1h0M359.5 957.5h0M359.5 1021.4h0M360.5 957.5h0M360.5 1022h0M360.8 957.8h0M361.5 961.8h0M361.5 1022.5h0M362.5 976h0M362.5 1023.1h0M363.5 982.4h0M363.5 1022.5h0M364.5 986.9h0M364.5 1022.6h0M366 987h0M364.9 987.1h0M365.3 986.5h0M365.5 987.8h0M365.5 1024.6h0M367.5 982.8h0M366.5 986.6h0M366.5 1025.2h0M365.5 984.7h0M366.6 986.4h0M367.5 987.2h0M367.5 1023.7h0M368.2 1025.5h0M368.5 986.4h0M368.5 1024.4h0M369.5 985.1h0M369.5 1024.1h0M370.5 984.5h0M370.5 1023.9h0M372.2 982.9h0M371.5 981.6h0M371.5 1022.8h0M372.5 981.3h0M372.5 1022.9h0M372.1 979h0M373.5 976h0M373.5 1022.3h0M373.9 975.5h0M374.5 973.2h0M374.5 1022.1h0M376.2 1022h0M375.5 972.9h0M375.5 1022.3h0M376.5 971.1h0M376.5 1022.5h0M377.5 974h0M377.5 1022.3h0M378.5 977.5h0M378.5 1022.9h0M378.2 1022.8h0M379.5 978.1h0M379.5 1023h0M380.5 970.9h0M380.5 1022.8h0M381.5 962.8h0M381.5 1022.7h0M382.5 952.9h0M382.5 1023.5h0M381.1 1023.6h0M383.5 951.3h0M383.5 1022.7h0M381.7 1024.6h0M384.5 946.6h0M384.5 1023.7h0M385.5 944.9h0M385.5 1024h0M384.7 941.8h0M386.5 951.7h0M386.5 1023.3h0M386.9 948.7h0M387.5 961.1h0M387.5 1023.8h0M388.5 965.6h0M388.5 1024.5h0M390.3 964.7h0M387.8 965.7h0M390.3 1025.3h0M389.5 976.2h0M389.5 1024.9h0M390.1 976.4h0M390.5 980.6h0M390.5 1024.8h0M389.1 980.4h0M391.5 981.1h0M391.5 1025h0M393.3 979.5h0M389.6 1025.1h0M392.5 980.4h0M392.5 1024.2h0M393.5 978.2h0M393.5 1024.3h0M394.5 978.3h0M394.5 1023h0M395.5 979.3h0M395.5 1024.1h0M396.5 980.5h0M396.5 1024h0M396.6 1025.2h0M394.3 1027.6h0M397.5 978.4h0M397.5 1022.9h0M398.5 975.3h0M398.5 1023.2h0M398.9 975.5h0M399.5 972.4h0M399.5 1021.8h0M398.6 971.8h0M400.5 965.1h0M400.5 1022h0M401.5 960.8h0M401.5 1020.8h0M402.5 950.8h0M402.5 1020.8h0M401.5 950.7h0M402.5 950.4h0M403.5 946.8h0M403.5 1020.8h0M404.5 938.7h0M404.5 1021.8h0M403.9 938.6h0M405.5 938.4h0M405.5 1022.4h0M405.4 1023.5h0M406.5 946.8h0M406.5 1021.3h0M406.2 1022.6h0M407.5 951.3h0M407.5 1021.9h0M408.5 953.6h0M408.5 1021.9h0M409.5 956.1h0M409.5 1020.8h0M411.1 955.7h0M410.5 955.8h0M410.5 1021.7h0M411.5 956.3h0M411.5 1022h0M410.8 955.9h0M412.3 952.6h0M412.5 963.4h0M412.5 1021.8h0M413.5 965.7h0M413.5 1022.1h0M412.9 962.9h0M414.5 968.6h0M414.5 1022h0M413.5 967.7h0M413.9 1024.1h0M415.5 970.1h0M415.5 1023h0M416.5 966.1h0M416.5 1023.3h0M417.4 962.2h0M416.8 1024.6h0M417.5 963.5h0M417.5 1022.7h0M418.5 959.9h0M418.5 1023.9h0M417.6 1024.6h0M419.5 953.7h0M419.5 1024h0M421.7 953.5h0M420.3 1025h0M420.5 946.1h0M420.5 1024.5h0M422.5 945.8h0M421.5 944.4h0M421.5 1024.7h0M422.5 941.4h0M422.5 1024.7h0M423.5 938h0M423.5 1025h0M424.5 935.9h0M424.5 1023.9h0M425.8 935.3h0M425.5 931.4h0M425.5 1023h0M426.5 934.7h0M426.5 1022.9h0M427 934.4h0M427.5 941.5h0M427.5 1022h0M425.4 1021.7h0M428.5 944.5h0M428.5 1021.6h0M429.5 936.5h0M429.5 1020.2h0M427.3 936.7h0M430.5 927.3h0M430.5 1019.8h0M431.5 907.2h0M431.5 1020.1h0M430.3 1020.6h0M432.5 901.7h0M432.5 1020h0M433.5 894.9h0M433.5 1017.3h0M434.5 883.3h0M434.5 1015.3h0M435.5 863.8h0M435.5 1013.5h0M436.5 861.7h0M436.5 1012.7h0M437.6 1012.6h0M437.8 1014h0M437.5 860h0M437.5 1010.3h0M438.1 857.3h0M438.5 859.1h0M438.5 1009.6h0M438.6 856.7h0M438.5 1009.6h0M439.5 856h0M439.5 1009.8h0M441 854.6h0M440.5 852.1h0M440.5 1010.1h0M441.5 851.6h0M441.5 1012.2h0M442.5 866.5h0M442.5 1012.4h0M443.5 875h0M443.5 1013.1h0M444.5 879.9h0M444.5 1013.2h0M445.5 896.6h0M445.5 1015.1h0M445.6 895.5h0M446.5 903.8h0M446.5 1016.6h0M447.5 909.6h0M447.5 1019.4h0M448.5 943.6h0M448.5 1019.9h0M448 942h0M449.4 1020.7h0M449.5 959.3h0M449.5 1022.6h0M450.5 964.3h0M450.5 1022.1h0M449 962.7h0M451.5 966h0M451.5 1022.2h0M449.9 1024h0M452.5 965.1h0M452.5 1023.1h0M452.2 1023h0M453.5 965.8h0M453.5 1023.8h0M454.5 967.3h0M454.5 1024.1h0M452.5 967.4h0M455.5 968.7h0M455.5 1023.3h0M455.7 967.1h0M456.5 970.4h0M456.5 1025.2h0M457.9 969.1h0M457.5 970.3h0M457.5 1024.5h0M458.5 969.9h0M458.5 1025.7h0M459.5 978.2h0M459.5 1025.8h0M460.5 982.7h0M460.5 1024.5h0M461.5 980.1h0M461.5 1023.3h0M462.5 963.6h0M462.5 1023.5h0M464.2 1024.5h0M463.5 942.9h0M463.5 1021.5h0M463.5 1021.2h0M464.5 910.8h0M464.5 1020.4h0M465.5 899.6h0M465.5 1019.1h0M466.5 883.2h0M466.5 1016.6h0M467.5 877.9h0M467.5 1015.5h0M468.5 872.1h0M468.5 1012.9h0M469.5 859.3h0M469.5 1009.8h0M470.5 846.2h0M470.5 1007.1h0M471.5 826.3h0M471.5 1009.9h0M470 822.6h0M472.5 824.7h0M472.5 1010.9h0M472.7 822.9h0M473.5 826.6h0M473.5 1014h0M474.5 826h0M474.5 1014.6h0M472.6 1014.7h0M475.5 836h0M475.5 1017.6h0M474.1 835.8h0M476.5 854.9h0M476.5 1019.4h0M477.5 873.1h0M477.5 1018.2h0M476.3 1018.3h0M478.5 892.2h0M478.5 1019.1h0M480.2 891.7h0M479.5 898.7h0M479.5 1019.5h0M480.5 898.1h0M480.5 1019.5h0M481.2 1019.9h0M481.5 897h0M481.5 1020.4h0M483 1020.6h0M482.5 920h0M482.5 1020.9h0M483.4 1021.4h0M483.5 929.8h0M483.5 1020.1h0M484.5 937.6h0M484.5 1020.8h0M485.7 937.9h0M484.4 1021.1h0M485.5 946.5h0M485.5 1020.6h0M486.5 946.7h0M486.5 948.6h0M486.5 1021h0M488.6 947.9h0M487.5 952.9h0M487.5 1017.4h0M487.2 1017.5h0M488.5 939.3h0M488.5 1014.9h0M490.7 1015.8h0M489.5 905.4h0M489.5 1012.3h0M489.5 903.6h0M489.1 904.4h0M491.6 901.4h0M489.8 904.4h0M490.5 890.2h0M490.5 1009.8h0M491.5 871.5h0M491.5 1006.4h0M492.5 854.8h0M492.5 1004.6h0M491.5 853.2h0M493.5 834.6h0M493.5 1005.3h0M494.5 828.7h0M494.5 1005.1h0M495.5 836.4h0M495.5 1003.6h0M496.5 842h0M496.5 1003.9h0M497.5 852.1h0M497.5 1002.8h0M496.3 1002.5h0M498.5 856.3h0M498.5 1002.7h0M499.5 859.8h0M499.5 1001.8h0M499.9 859.5h0M500.5 860.6h0M500.5 1000.1h0M501.5 862.2h0M501.5 997.8h0M502.5 862.7h0M502.5 997h0M503.5 868.5h0M503.5 1004.8h0M504.2 1007h0M504.5 1004.7h0M503 1005.4h0M504.5 871.7h0M504.5 1012.3h0M505.5 888.6h0M505.5 1018h0M507.3 883.6h0M507.4 888.1h0M506.5 901.4h0M506.5 1018.3h0M505.4 901.4h0M507.5 905.5h0M507.5 1018h0M508.5 905.5h0M508.5 904.6h0M508.5 1019.1h0M509.4 904.1h0M509.5 905h0M509.5 1018.9h0M507.4 905.1h0M510.5 906.2h0M510.5 1018.8h0M511.5 905.1h0M511.5 1020.1h0M511.7 904.8h0M512.5 914.8h0M512.5 1019.1h0M513.5 927.5h0M513.5 1020.1h0M515.3 925.2h0M511.5 927.5h0M514.5 933.1h0M514.5 1019.8h0M515.5 943.8h0M515.5 1019.4h0M516.5 951.6h0M516.5 1019.3h0M516.1 950.5h0M517.7 1019h0M517.5 955h0M517.5 1020.6h0M518.5 958.3h0M518.5 1020.1h0M519.5 956.6h0M519.5 1019.8h0M520.4 956.7h0M520.5 955.2h0M520.5 1020.6h0M521.5 955.8h0M521.5 1020.2h0M522.7 1020h0M522.5 959.8h0M522.5 1020.2h0M521 956.9h0M521 1020h0M523.5 962.1h0M523.5 1021.6h0M524.5 962.6h0M524.5 1022h0M526 961.1h0M524.2 1022.2h0M525.5 964.1h0M525.5 1020.9h0M524.6 961.2h0M526.5 980.7h0M526.5 1022.2h0M524.9 1024.3h0M528 1022.3h0M527.5 985.9h0M527.5 1021.2h0M527.6 986.3h0M526.2 1021.6h0M528.5 990.6h0M528.5 1022.1h0M529.8 990.7h0M529.5 993.1h0M529.5 1021.9h0M529.8 993.3h0M530.5 992.4h0M530.5 1021.4h0M530.8 990.8h0M531.5 992.6h0M531.5 1021.8h0M532.5 993.8h0M532.5 1023.3h0M533.5 992h0M533.5 1022.9h0M533.3 992h0M534.5 990.8h0M534.5 1022.5h0M534.7 1023h0M535.5 987.8h0M535.5 1022.3h0M534 987.3h0M535.9 1022.6h0M536.5 985.3h0M536.5 1024h0M537.5 983.4h0M537.5 1023.9h0M538.5 982.3h0M538.5 1024.3h0M539.5 983.7h0M539.5 1023.9h0M540.5 983.2h0M540.5 1023.9h0M539 982.7h0M541.5 982.3h0M541.5 1024.4h0M543.2 980.2h0M542.5 985.9h0M542.5 1025.1h0M540.4 985.5h0M543.5 987.9h0M543.5 1024.4h0M542.3 985.9h0M544.5 1024.1h0M544.5 989h0M544.5 1025.2h0M542.9 988.1h0M545.7 988.3h0M545.5 990.4h0M545.5 1025.6h0M544 1025.2h0M546.5 997.4h0M546.5 1025.2h0M548.4 1025.7h0M547.5 1000.8h0M547.5 1024.1h0M546.8 1000h0M547 1000.4h0M546.6 1025.8h0M548.5 1004.7h0M548.5 1025.3h0M549.5 1002.2h0M549.5 1026.2h0M548.6 1026.1h0M550.5 991.5h0M550.5 1025.9h0M551.5 977.1h0M551.5 1025.4h0M552.5 955.3h0M552.5 1025.7h0M552.7 955h0M550.3 954h0M553.9 955.6h0M553.5 955.3h0M553.5 1024.5h0M554.5 951.4h0M554.5 1025h0M555.5 952.1h0M555.5 1024.6h0M553.7 947.5h0M553.6 948.7h0M556.5 953.5h0M556.5 1025.8h0M557.5 955.3h0M557.5 1025.5h0M558.5 955.7h0M558.5 1025.4h0M559.5 958h0M559.5 1023.9h0M561.3 956.1h0M559 1023.8h0M560.5 958.5h0M560.5 1024.3h0M561.5 959.3h0M561.5 1023.9h0M562.5 966.4h0M562.5 1023.2h0M563.5 982.5h0M563.5 1024.4h0M564.5 993.1h0M564.5 1024.7h0M564.8 1025.9h0M565.5 999.5h0M565.5 1023.2h0M566.9 999.7h0M566.5 1004.1h0M566.5 1025.5h0M568.4 1004h0M567.5 1005.6h0M567.5 1024.6h0M568.9 1002.2h0M568.5 1007.3h0M568.5 1024.8h0M569.5 1005.2h0M569.5 1024.9h0M570.5 1004.2h0M570.5 1025h0M571.5 1003h0M571.5 1025h0M572.5 1002.3h0M572.5 1025.9h0M573.5 1005.3h0M573.5 1024h0M573.7 1005.7h0M574.5 1006.4h0M574.5 1024.9h0M575.5 1007.7h0M575.5 1024.5h0M576.5 1009.8h0M576.5 1024.5h0M577.5 1008.6h0M577.5 1024.9h0M578.5 1009.7h0M578.5 1024.6h0M579.5 1009.1h0M579.5 1024.7h0M580.5 1007.4h0M580.5 1023.6h0M581.5 1006.8h0M581.5 1023.8h0M582.5 1005.5h0M582.5 1022.3h0M583.5 1004.7h0M583.5 1022.6h0M582.8 997.6h0M584.5 1001.7h0M584.5 1022h0M585.5 1002h0M585.5 1021.1h0M585.9 1021.4h0M586.5 1000.2h0M586.5 1021.2h0M588.5 999.1h0M587.5 998.5h0M587.5 1021.3h0M588.2 998.3h0M588.5 995.6h0M588.5 1021.2h0M588 994.2h0M589.5 991.8h0M589.5 1020.2h0M587.7 991.8h0M588 990.9h0M590.5 985.5h0M590.5 1019.8h0M590.1 985.1h0M590.6 980h0M590.1 984.6h0M591.5 983.4h0M591.5 1020.5h0M591.6 982.6h0M592.5 979.7h0M592.5 1018.9h0M593.5 974.6h0M593.5 1018.9h0M594.5 969h0M594.5 1019h0M594.8 968.6h0M595.6 969.2h0M595 1019.2h0M595.5 969.6h0M595.5 1020.6h0M596.5 970.7h0M596.5 1019.5h0M597.5 968.5h0M597.5 1019.9h0M596.9 966.7h0M598.5 961.4h0M598.5 1019.6h0M596.8 1023.5h0M599.5 952.2h0M599.5 1021.6h0M600.5 936h0M600.5 1020.7h0M601.3 1020.9h0M601.5 933.2h0M601.5 1022h0M602.5 924h0M602.5 1020.4h0M600.3 924h0M603 1020.3h0M600.7 1022.2h0M603.5 923.9h0M603.5 1022.2h0M603.1 922.8h0M604.5 929.7h0M604.5 1020.7h0M605.5 934.6h0M605.5 1022.5h0M606.5 947.3h0M606.5 1023.3h0M607.5 974.7h0M607.5 1023.3h0M607.1 1023.2h0M608.5 988.2h0M608.5 1025.8h0M609.5 990.6h0M609.5 1025.4h0M610.5 991h0M610.5 1025.5h0M611.5 992.1h0M611.5 1025.9h0M611.9 991.3h0M612.5 993.2h0M612.5 1024.7h0M613.2 1025h0M614.7 1025.3h0M613.5 992.3h0M613.5 1024.5h0M614.9 1027.8h0M614.5 992h0M614.5 1023.9h0M614.1 1023.7h0M615.5 990.8h0M615.5 1023.9h0M616.5 989.5h0M616.5 1023.7h0M617.5 989h0M617.5 1022.7h0M618.5 987.8h0M618.5 1023.7h0M617.4 987.8h0M618.4 988.1h0M619.5 986.1h0M619.5 1022.9h0M620 985.1h0M620.5 981.6h0M620.5 1021.9h0M622.4 980.8h0M620.3 980h0M621.5 980.6h0M621.5 1021.9h0M622.5 981.2h0M622.5 1023.1h0M620.7 980.8h0M623.5 980.3h0M623.5 1023h0M624.5 981h0M624.5 1022.4h0M624 977.9h0M623.2 1022h0M625.5 980.9h0M625.5 1023h0M626.5 978.8h0M626.5 1022.2h0M627.5 977h0M627.5 1022.6h0M629.4 977.3h0M628.5 974.2h0M628.5 1022.1h0M628.8 974.6h0M629.5 971.2h0M629.5 1023.1h0M631.1 1024.6h0M630.5 964.8h0M630.5 1021.7h0M630.9 964.6h0M631.5 957.2h0M631.5 1022.1h0M633.1 957.5h0M630.6 1022.8h0M632.5 954.9h0M632.5 1023.4h0M633.1 1023.1h0M633.5 951.5h0M633.5 1023.4h0M634.5 948.2h0M634.5 1023.5h0M635.5 940.2h0M635.5 1022.6h0M636.5 935.6h0M636.5 1022.3h0M637.5 933.1h0M637.5 1023.6h0M639.3 1028.3h0M638.5 942.4h0M638.5 1022.9h0M639.5 955.3h0M639.5 1022.5h0M640.8 951.6h0M640.5 961.8h0M640.5 1022.3h0M641.5 972h0M641.5 1021.9h0M642.5 976.7h0M642.5 1022h0M644.3 976.9h0M643.5 981.6h0M643.5 1023.3h0M644.6 980.9h0M644.5 983.7h0M644.5 1022.5h0M642.9 982.9h0M643.8 983.7h0M645.5 985.4h0M645.5 1022.9h0M646.5 984.1h0M646.5 1022.1h0M647.7 981.1h0M647.5 983h0M647.5 1023.2h0M647.4 1023h0M648.5 980.1h0M648.5 1023.2h0M648.4 980.1h0M646.3 1023.7h0M649.5 975.6h0M649.5 1023.1h0M650.5 972h0M650.5 1022.3h0M651.5 962.5h0M651.5 1022.1h0M649.7 962.2h0M652.5 960.1h0M652.5 1022.2h0M653.5 956.2h0M653.5 1021.9h0M654.3 1023.2h0M654.5 952.5h0M654.5 1021.9h0M655.5 940.8h0M655.5 1021.5h0M656.7 940.2h0M656.5 935.5h0M656.5 1019.4h0M654.7 934.4h0M657.5 926.6h0M657.5 1019.6h0M656.5 926.3h0M658.1 1020.8h0M658.5 906.3h0M658.5 1020h0M659.5 906h0M659.5 1019.8h0M660.7 904.9h0M661.6 1020.3h0M660.5 911.3h0M660.5 1018.7h0M660.8 910.2h0M659.6 911.1h0M661.9 909.1h0M661.3 1021.7h0M661.5 913.4h0M661.5 1018.2h0M662.5 915.8h0M662.5 1018.4h0M663.6 911.6h0M661.5 1018.5h0M663.5 930.2h0M663.5 1018.3h0M663 929.7h0M663.5 1018h0M664.5 939.8h0M664.5 1017.4h0M665.5 942.3h0M665.5 1019.3h0M666.5 935.5h0M666.5 1020h0M667.3 1019.9h0M668.6 1020.5h0M667.5 924h0M667.5 1020.5h0M668.5 918h0M668.5 1022.1h0M669.2 917.7h0M667.1 918.1h0M669.5 919.5h0M669.5 1022.7h0M668.2 1024h0M670.5 919.9h0M670.5 1023.3h0M671.5 921.5h0M671.5 1025h0M671 921.1h0M670.2 1024.8h0M672.5 922h0M672.5 1025.3h0M673.5 937.7h0M673.5 1025.2h0M675.6 1025.4h0M674.5 950h0M674.5 1025.1h0M675.5 944.6h0M675.5 967.5h0M675.5 1024.9h0M674 967.5h0M676.5 977.3h0M676.5 1025.1h0M677.5 983.3h0M677.5 1024.6h0M678.5 986.8h0M678.5 1024.7h0M679.5 987.1h0M679.5 1024.6h0M679.1 985.1h0M677.6 1024.7h0M680.5 986.9h0M680.5 1024.3h0M681.5 985.4h0M681.5 1023.1h0M683.3 1026.5h0M682.5 978.7h0M682.5 1023.7h0M681.7 977.4h0M683.5 971.7h0M683.5 1023.9h0M684.5 961.9h0M684.5 1023.2h0M682.8 961h0M685.5 943.3h0M685.5 1022.7h0M686.5 933.1h0M686.5 1023h0M686.6 1023.9h0M687.5 920.7h0M687.5 1023.2h0M689.6 920.2h0M688.5 920.1h0M688.5 1021.7h0M689.5 925.5h0M689.5 1022.9h0M689.1 925.1h0M688.4 925.2h0M691.1 1024.1h0M689.8 1022.8h0M690.5 928h0M690.5 1021.6h0M691.5 936.3h0M691.5 1022.2h0M692.5 950.6h0M692.5 1022.8h0M691.5 947.3h0M693.9 1022.5h0M693.5 956.4h0M693.5 1022.2h0M694.5 963.3h0M694.5 1022.1h0M695.5 969.5h0M695.5 1021.1h0M696.5 974.2h0M696.5 1022.5h0M697.5 975.7h0M697.5 1024h0M696.3 973.6h0M698.5 978.2h0M698.5 1023.4h0M697.7 977.6h0M699.5 979h0M699.5 1023.8h0M700.5 980.6h0M700.5 1023.9h0M701.5 985.4h0M701.5 1023.8h0M702.9 984.5h0M702.5 984.1h0M702.5 1022.8h0M703.5 983.6h0M703.5 1023.9h0M704.5 982h0M704.5 1022.2h0M705.1 979.5h0M704 982.3h0M705.5 979.5h0M705.5 1022.1h0M706.8 975.2h0M706.5 978.9h0M706.5 1022.6h0M708.3 1022.7h0M707.8 1022.2h0M707.5 978.6h0M707.5 1022.5h0M705.6 978h0M708.5 981.2h0M708.5 1023.9h0M709.5 981.5h0M709.5 1023.6h0M709.6 979.5h0M710.5 978.3h0M710.5 1024.5h0M711.5 970.9h0M711.5 1025.2h0M711.3 1025.2h0M712.5 958.9h0M712.5 1026h0M713.5 956.4h0M713.5 1025.4h0M711.6 1025.1h0M714.5 954.8h0M714.5 1025.1h0M712.5 954.9h0M715.5 956h0M715.5 1023.9h0M716.5 954.9h0M716.5 1023.4h0M717.5 955.4h0M717.5 1023.5h0M718.2 1024h0M718.5 956.1h0M718.5 1023.7h0M718.9 955.8h0M719.5 962.1h0M719.5 1023.7h0M721.4 962.5h0M720.5 970.4h0M720.5 1023.3h0M720.3 970.4h0M721.5 975.4h0M721.5 1023.2h0M722.5 976.8h0M722.5 1023.4h0M722.3 1026.6h0M723.5 973.6h0M723.5 1022.1h0M723.5 973.5h0M724.5 970.8h0M724.5 1021.3h0M725.5 963.2h0M725.5 1021.6h0M724.5 962.1h0M725.5 1022.4h0M726.5 961.4h0M726.5 1021.6h0M724.7 961.8h0M727.5 961.6h0M727.5 1020.4h0M728.5 959.3h0M728.5 1021.1h0M730.4 959.6h0M729.5 955.8h0M729.5 1021.2h0M730.5 953.7h0M730.5 1019.9h0M728.7 952.7h0M731.6 953h0M731.5 951.5h0M731.5 1019.7h0M729.9 950.1h0M731.5 951.1h0M732.5 946.1h0M732.5 1019.3h0M732.8 946.4h0M731 1019.2h0M733.5 939h0M733.5 1018.5h0M734.5 935.2h0M734.5 1018h0M735.5 930.5h0M735.5 1018.5h0M736.5 919.5h0M736.5 1018h0M736.9 919.5h0M738.4 919.1h0M735.5 1017.8h0M737.5 1020.1h0M737.5 917h0M737.5 1018.5h0M738.5 914.5h0M738.5 1018.5h0M737.3 912.9h0M736.6 1019.8h0M739.5 910.8h0M739.5 1020.4h0M738 1020.1h0M740.9 1022.5h0M740.8 1020.4h0M740.5 902.7h0M740.5 1019.7h0M740.1 1020.5h0M741.5 901.8h0M741.5 1021.4h0M740.4 1022.3h0M742.5 910h0M742.5 1021.6h0M741.4 909.7h0M743.5 916.2h0M743.5 1022.4h0M742.4 916.4h0M744.5 920.5h0M744.5 1022.1h0M745.5 925.8h0M745.5 1019.9h0M746.5 926.8h0M746.5 1019.8h0M747.5 927.2h0M747.5 1019.4h0M748.5 928.8h0M748.5 1020.8h0M747.9 923.8h0M749.3 925.5h0M749.5 928.8h0M749.5 1020.4h0M750.5 941.9h0M750.5 1021.5h0M752.3 1021.2h0M751.5 951.2h0M751.5 1021.4h0M752.5 967.7h0M752.5 1022.2h0M752.7 965.8h0M753.5 979.9h0M753.5 1023.2h0M751.9 976.5h0M754.5 989.8h0M754.5 1024.2h0M755.5 995.2h0M755.5 1024.6h0M756.5 997.8h0M756.5 1026.4h0M755.9 1026.3h0M757.5 997.4h0M757.5 1026.9h0M758.5 994.2h0M758.5 1025.2h0M758.1 992.3h0M759.5 990.1h0M759.5 1025.3h0M761 990.3h0M760.5 987.7h0M760.5 1025.8h0M759 986.4h0M761.5 989.3h0M761.5 1025.3h0M762.5 993.5h0M762.5 1023.3h0M763.5 996.9h0M763.5 1022.4h0M764 996.8h0M765.1 1022h0M764.5 996.9h0M764.5 1021.7h0M764.6 997.2h0M764.5 996.6h0M765.5 993.9h0M765.5 1021.5h0M766.5 991.4h0M766.5 1021h0M767.5 985.4h0M767.5 1022.8h0M765.9 984.3h0M768.5 985.5h0M768.5 1021.6h0M769.5 984.5h0M769.5 1021.7h0M768.1 983.6h0M770.5 984.6h0M770.5 1022.3h0M768.9 981.4h0M771.8 983.2h0M770.9 1022.4h0M771.5 984.6h0M771.5 1023.9h0M769.6 983.1h0M772.5 985.2h0M772.5 1022.9h0M773.5 984.4h0M773.5 1023.3h0M774.5 984.4h0M774.5 1024.5h0M775.5 998h0M775.5 1024.2h0M776.5 1002.3h0M776.5 1024.6h0M776.7 998.8h0M777.7 1025.2h0M778.5 1025.3h0M777.5 1003.5h0M777.5 1025.4h0M778.5 1002.4h0M778.5 1024.4h0M779.5 999.4h0M779.5 1025.7h0M781.1 998.4h0M778.8 997.5h0M780.5 999.2h0M780.5 1025.7h0M780.5 999.4h0M781.5 1005.3h0M781.5 1025.4h0M782.5 1009.1h0M782.5 1026.1h0M783.5 1011.2h0M783.5 1025.2h0M784.4 1008.4h0M784.5 1012.2h0M784.5 1026.4h0M785.5 1011.6h0M785.5 1027.1h0M786.1 1010.1h0M786.5 1010.5h0M786.5 1025.8h0M788 1026.5h0M785.2 1025.8h0M787.5 1011h0M787.5 1027.4h0M785.9 1009.6h0M788.5 1010.5h0M788.5 1026.5h0M789.5 1013.6h0M789.5 1026.3h0M790.5 1015.2h0M790.5 1026.3h0M791.5 1015.1h0M791.5 1026.1h0M792.5 1015.6h0M792.5 1026.6h0M793.5 1014.5h0M793.5 1025.7h0M794.5 1013.7h0M794.5 1025h0M796.7 1013.8h0M794.2 1026h0M795.5 1012.5h0M795.5 1025.9h0M796.5 1008.7h0M796.5 1025.4h0M797.5 1004.9h0M797.5 1024.9h0M798.5 1000h0M798.5 1024.8h0M799.5 993.4h0M799.5 1024.2h0M800.5 992.3h0M800.5 1024.5h0M802 992.3h0M801.5 990.7h0M801.5 1024.2h0M802.5 989.4h0M802.5 1024.9h0M803.5 987.6h0M803.5 1024.8h0M805.3 1025.1h0M804.2 1024.6h0M804.5 989.5h0M804.5 1025h0M805.5 991.8h0M805.5 1025h0M806.5 993.3h0M806.5 1024.8h0M807.5 994.1h0M807.5 1024.8h0M808.5 995.5h0M808.5 1025.3h0M807.6 995.9h0M809.5 994.5h0M809.5 1025.3h0M810.5 994.1h0M810.5 1025.3h0M811.5 995.2h0M811.5 1025h0M812.5 999.4h0M812.5 1024.9h0M813.5 1000.9h0M813.5 1025.2h0M814.5 1002.5h0M814.5 1025.2h0M815.5 1003.6h0M815.5 1025.5h0M816.5 1006.9h0M816.5 1025.8h0M814.4 1006.4h0M817.5 1008.2h0M817.5 1026.3h0M818.5 1009.1h0M818.5 1026.6h0M819.6 1009.5h0M819.5 1009.4h0M819.5 1026.3h0M820.5 1012.8h0M820.5 1027h0M818.6 1012.9h0M821.5 1013.9h0M821.5 1026.5h0M822.5 1014.5h0M822.5 1026.7h0M823.5 1014.8h0M823.5 1027.6h0M824.5 1014.1h0M824.5 1027.8h0M825.5 1013.1h0M825.5 1027.6h0M826.5 1011.7h0M826.5 1027.5h0M827.5 1010.9h0M827.5 1027h0M828.5 1011.3h0M828.5 1027.7h0M829.5 1011.2h0M829.5 1027h0M828.4 1026.7h0M830.5 1011.8h0M830.5 1027.1h0M831.5 1011.2h0M831.5 1027.3h0M832.8 1027h0M832.5 1011.8h0M832.5 1027.1h0M834.3 1012.2h0M833.5 1011.9h0M833.5 1027.6h0M834.5 1011.2h0M834.5 1027.9h0M835.5 1011.5h0M835.5 1027.1h0M836.5 1011.8h0M836.5 1027.8h0M837.5 1010.8h0M837.5 1028.1h0M838.5 1011h0M838.5 1028h0M839.5 1010.2h0M839.5 1027.6h0M840.5 1011.7h0M840.5 1027.5h0M838.6 1011.9h0M841.5 1012.2h0M841.5 1027.8h0M842.5 1012.8h0M842.5 1028.2h0M843.5 1013.2h0M843.5 1028.7h0M844.5 1013.7h0M844.5 1027.9h0M845.5 1013.2h0M845.5 1028.4h0M846.5 1012.3h0M846.5 1028.5h0M847.1 1012.4h0M847.5 1011.2h0M847.5 1028.2h0M847.2 1011.3h0M848.9 1028.5h0M848.5 1009.6h0M848.5 1027.5h0M849.5 1007.1h0M849.5 1028h0M850.5 1007h0M850.5 1027.9h0M851.5 1006.4h0M851.5 1027.3h0M852.5 1005.2h0M852.5 1027h0M853.5 1002.6h0M853.5 1027.4h0M854.5 999.5h0M854.5 1027.7h0M855.5 994.3h0M855.5 1027.4h0M856.5 989.5h0M856.5 1027.3h0M857.5 985.9h0M857.5 1027.6h0M858.5 983.7h0M858.5 1027.4h0M859.5 991.6h0M859.5 1028.2h0M861.1 1028.5h0M860.5 997.3h0M860.5 1028.3h0M861.5 1001.4h0M861.5 1028.2h0M860 1028.2h0M862.5 1001.6h0M862.5 1027.8h0M862 1001.9h0M863.5 1001.8h0M863.5 1028.3h0M864.5 1002.5h0M864.5 1028.1h0M865.5 1002.7h0M865.5 1028.8h0M865.9 1028.5h0M866.5 1002.1h0M866.5 1028.1h0M867.5 1006.2h0M867.5 1028.4h0M868.5 1008h0M868.5 1028.3h0M869.5 1010.3h0M869.5 1029.2h0M867.6 1009.1h0M871.1 1010.7h0M870.5 1011.2h0M870.5 1028.8h0M871.5 1013.9h0M871.5 1029.1h0M872.5 1014.7h0M872.5 1028.8h0M873.4 1028.5h0M873.5 1016.1h0M873.5 1028.8h0M874.5 1016.1h0M874.5 1029.4h0M875.5 1016.8h0M875.5 1029.2h0M876.5 1017.6h0M876.5 1028.9h0M877.5 1017.3h0M877.5 1029h0M878.5 1017.8h0M878.5 1028.6h0M879.5 1017.5h0M879.5 1029.2h0M880.5 1017.3h0M880.5 1028.6h0M881.5 1017.5h0M881.5 1028.9h0M880.6 1032h0M882.5 1016.6h0M882.5 1028.5h0M883.5 1016.8h0M883.5 1028.6h0M883.6 1016.5h0M882.9 1015.4h0M884.5 1015.8h0M884.5 1028h0M885.5 1015.6h0M885.5 1027.9h0M885.7 1013h0M885.3 1014.7h0M886.5 1015.4h0M886.5 1028.1h0M887.5 1014.4h0M887.5 1028.3h0M888.6 1014.4h0M888.5 1012.5h0M888.5 1028.8h0M889.5 1009.6h0M889.5 1028.3h0M889.2 1008.6h0M889.4 1028h0M890.5 1004h0M890.5 1028.1h0M891.5 1000.5h0M891.5 1028.2h0M890.6 1000.1h0M892.5 992h0M892.5 1028.6h0M893.5 992.7h0M893.5 1028.5h0M894.5 998.4h0M894.5 1028h0M895.5 1002.6h0M895.5 1028.7h0M895.9 1029.2h0M896.5 1005.6h0M896.5 1028h0M898 1006h0M897.5 1005h0M897.5 1028.1h0M898.4 1005h0M898.5 1005.7h0M898.5 1028.7h0M899.5 1006.3h0M899.5 1028.1h0M900.5 1008.9h0M900.5 1028h0M901.5 1010.5h0M901.5 1027.9h0M901.8 1029.5h0M902.5 1011.8h0M902.5 1027.9h0M901.4 1010.2h0M903.5 1013h0M903.5 1028h0M904.5 1013.4h0M904.5 1028h0M905.5 1016.3h0M905.5 1028.2h0M906.5 1017.5h0M906.5 1028.7h0M904.9 1017.7h0M907.5 1018.3h0M907.5 1028.5h0M908.5 1019h0M908.5 1028.6h0M909.5 1019.1h0M909.5 1028.4h0M910.1 1028.8h0M910.5 1019.2h0M910.5 1029h0M911.5 1018.4h0M911.5 1028.7h0M912.5 1017.7h0M912.5 1029.1h0M911.4 1029.1h0M913.5 1017.2h0M913.5 1029.7h0M914.8 1029.6h0M914.5 1018.1h0M914.5 1029.4h0M915.5 1019.2h0M915.5 1029.1h0M916.5 1019.9h0M916.5 1029.3h0M916.1 1019.5h0M917.5 1021h0M917.5 1029h0M918.5 1020.9h0M918.5 1029.3h0M919.5 1020.6h0M919.5 1029.3h0M920.5 1019.9h0M920.5 1029.8h0M921.5 1019.9h0M921.5 1029.6h0M922.5 1019.3h0M922.5 1029.6h0M923.6 1031.1h0M923.5 1019.3h0M923.5 1029.2h0M924.5 1018.6h0M924.5 1029.7h0M925.5 1019.2h0M925.5 1029.7h0M926.5 1018.8h0M926.5 1029.4h0M927.5 1019.3h0M927.5 1029.3h0M928.5 1018.5h0M928.5 1029.3h0M929.5 1018.3h0M929.5 1029.7h0M929.3 1018.3h0M930.5 1017.2h0M930.5 1029.7h0M931.5 1016.6h0M931.5 1029.5h0M933.3 1029.5h0M932.5 1015h0M932.5 1030.5h0M932.5 1031.3h0M933.5 1013.6h0M933.5 1029.7h0M934.5 1017.6h0M934.5 1030.6h0M932.9 1017.7h0M935.5 1020.2h0M935.5 1030.4h0M936.5 1021.6h0M936.5 1030h0M937.5 1023h0M937.5 1030.5h0M938.5 1023.1h0M938.5 1030.8h0M939.5 1022.5h0M939.5 1030.7h0M940.5 1022.7h0M940.5 1030.3h0M941.9 1022.8h0M941.5 1022.9h0M941.5 1030h0M940 1022.7h0M939.5 1023.2h0M942.5 1022.8h0M942.5 1030.3h0M943.5 1022.4h0M943.5 1030h0M944.5 1023.2h0M944.5 1030.4h0M945.5 1023.2h0M945.5 1030.4h0M946.5 1023h0M946.5 1030.6h0M947.5 1022.2h0M947.5 1030.1h0M948.5 1021.3h0M948.5 1030.9h0M949.5 1014.3h0M949.5 1030.5h0M950.5 1004.8h0M950.5 1031h0M951.5 1004.8h0M951.5 1030.7h0M952.5 1004.3h0M952.5 1031.1h0M951.1 1004.5h0M953.5 1010.4h0M953.5 1031.6h0M954.5 1016.3h0M954.5 1031h0M955.5 1020.4h0M955.5 1031h0M956.5 1022h0M956.5 1031.3h0M957.5 1022.2h0M957.5 1031.6h0M958.5 1022.4h0M958.5 1031.2h0M959.5 1022.7h0M959.5 1031.1h0M957.7 1023h0M960.5 1022.2h0M960.5 1031.6h0M961.5 1022h0M961.5 1031.4h0M962 1032.3h0M962.5 1021.8h0M962.5 1031.3h0M961.7 1031.2h0M963.5 1021h0M963.5 1031.1h0M964.5 1020.9h0M964.5 1031.1h0M962.8 1020.9h0M965.5 1022h0M965.5 1031.1h0M966.5 1022.7h0M966.5 1031.6h0M967.5 1023.3h0M967.5 1031.6h0M968.5 1024h0M968.5 1031.4h0M969.5 1023h0M969.5 1031h0M968.9 1022.4h0M970.5 1022.5h0M970.5 1031h0M971.5 1021.6h0M971.5 1031.8h0M972.5 1021.3h0M972.5 1031.8h0M971.4 1020.2h0M973.5 1021.5h0M973.5 1031.8h0M973.9 1021.7h0M974.5 1023.2h0M974.5 1031.4h0M975.5 1023.3h0M975.5 1031.9h0M976.5 1024.2h0M976.5 1031.8h0M977.5 1024.5h0M977.5 1031.1h0M978.5 1024.2h0M978.5 1031h0M979.5 1025.3h0M979.5 1031.5h0M981.5 1032.4h0M980.5 1024.5h0M980.5 1031.9h0M981.5 1024.4h0M981.5 1031.2h0M982.5 1024.3h0M982.5 1032h0M983.5 1024.8h0M983.5 1031.4h0M984.9 1024.6h0M984.5 1024.3h0M984.5 1031.9h0M983.3 1024.3h0M985.5 1024h0M985.5 1032h0M986.5 1025h0M986.5 1031.9h0M986.5 1031.6h0M987.5 1025.7h0M987.5 1031.6h0M988.5 1025.9h0M988.5 1031.9h0M989.3 1031.8h0M989.5 1026h0M989.5 1031.5h0M990.5 1026.1h0M990.5 1031.9h0M991.5 1026.4h0M991.5 1032.1h0M992.3 1032h0M992.5 1026.1h0M992.5 1032h0M993.5 1025.7h0M993.5 1031.6h0M994.5 1025.7h0M994.5 1032h0M995.5 1026.1h0M995.5 1031.2h0M993.9 1030.8h0M996.5 1026h0M996.5 1032h0M997.5 1025.7h0M997.5 1031.3h0M998 1025.4h0M996.5 1025.7h0M998.5 1025.7h0M998.5 1031.4h0M999.5 1026.1h0M999.5 1031.6h0M1000.5 1025.9h0M1000.5 1031.8h0M1001.5 1025.4h0M1001.5 1031.5h0M1003.1 1024.9h0M1002.5 1026h0M1002.5 1031.4h0M1003.5 1025.3h0M1003.5 1031.4h0M1004.5 1025.1h0M1004.5 1031.7h0M1005.5 1025.5h0M1005.5 1032.2h0M1006.5 1025.5h0M1006.5 1031.5h0M1004.9 1025.6h0M1007.5 1025.4h0M1007.5 1031.9h0M1008.5 1025.7h0M1008.5 1031.5h0M1010.2 1031.3h0M1009.5 1025.9h0M1009.5 1032h0M1008.6 1026h0M1010.5 1026.1h0M1010.5 1031.4h0M1011.5 1026.1h0M1011.5 1032.4h0M1012.5 1026.1h0M1012.5 1031.5h0M1013.8 1031.1h0M1013.5 1025.7h0M1013.5 1031.8h0M1014.5 1025.9h0M1014.5 1032.1h0M1015.5 1025.2h0M1015.5 1032.1h0M1016.5 1025.3h0M1016.5 1031.9h0M1017.5 1023.9h0M1017.5 1032.2h0M1018.3 1033h0M1018.5 1024.3h0M1018.5 1032.3h0M1019.5 1024.9h0M1019.5 1031.8h0M1020.5 1025.1h0M1020.5 1031.7h0M1021.5 1024.9h0M1021.5 1031.9h0M1022.5 1026h0M1022.5 1031.8h0M1023.5 1025.6h0M1023.5 1032.5h0M1024.5 1026.5h0M1024.5 1032.3h0M1025.5 1026h0M1025.5 1032.4h0M1026.5 1025.7h0M1026.5 1031.6h0M1027.5 1025.7h0M1027.5 1032h0M1028.5 1025.9h0M1028.5 1032.5h0M1029.5 1026.1h0M1029.5 1032.5h0M1030.5 1026.1h0M1030.5 1032h0M1028.5 1031.9h0M1031.5 1026.1h0M1031.5 1032.6h0M1032.5 1026.6h0M1032.5 1032.6h0M1032.2 1032.3h0M1033.5 1026.5h0M1033.5 1031.8h0M1034.5 1025.7h0M1034.5 1031.9h0M1035.5 1025.7h0M1035.5 1032.4h0M1036.5 1026.3h0M1036.5 1032.7h0M1037.5 1025.7h0M1037.5 1032.4h0M1036.1 1024.8h0M1039.6 1032h0M1038.5 1026.4h0M1038.5 1031.7h0M1039.2 1031.5h0M1039.5 1025.8h0M1039.5 1032.1h0M1040.5 1025.8h0M1040.5 1031.8h0M1040.7 1025.6h0M1041.5 1026.5h0M1041.5 1031.7h0M1039.6 1031.5h0M1042.5 1026.1h0M1042.5 1031.8h0M1043.5 1025.6h0M1043.5 1032.6h0M1044.2 1025.2h0M1042.2 1025.3h0M1044.5 1025.7h0M1044.5 1032.6h0M1045.5 1024.7h0M1045.5 1032.5h0M1044.2 1032.4h0M1046.5 1024.8h0M1046.5 1032.5h0M1047.5 1023.3h0M1047.5 1031.9h0M1046.2 1023.2h0M1048.5 1023.7h0M1048.5 1032.7h0M1048.2 1032.3h0M1049.5 1023.5h0M1049.5 1031.8h0M1050.5 1024h0M1050.5 1032.6h0M1050.8 1023.9h0M1052.1 1023.4h0M1051.5 1024.5h0M1051.5 1032h0M1052.5 1023.7h0M1052.5 1032.6h0M1054.2 1023.4h0M1053.8 1032.3h0M1053.5 1023.7h0M1053.5 1031.8h0M1054.5 1023.8h0M1054.5 1032h0M1055.5 1024.1h0M1055.5 1032.3h0M1056.5 1024.7h0M1056.5 1032.1h0M1057.5 1024.4h0M1057.5 1032.1h0M1058.5 1024.2h0M1058.5 1031.9h0M1059.5 1023.8h0M1059.5 1031.9h0M1060.8 1032.3h0M1060.5 1024.1h0M1060.5 1032.1h0M1059.1 1024.1h0M1061.5 1023.3h0M1061.5 1032.7h0M1062.5 1023.1h0M1062.5 1032.1h0M1063.5 1022.4h0M1063.5 1032.2h0M1064.5 1021h0M1064.5 1032.1h0M1065.5 1021.2h0M1065.5 1032.6h0M1066.5 1022.9h0M1066.5 1032h0M1065.3 1022.8h0M1064.9 1020.9h0M1064.4 1032h0M1067.5 1023.1h0M1067.5 1032.1h0M1066 1023.5h0M1068.5 1023.6h0M1068.5 1032.1h0M1069.5 1023.8h0M1069.5 1031.7h0M1070.5 1024.1h0M1070.5 1032h0M1071.5 1023.7h0M1071.5 1032.3h0M1072.5 1023.7h0M1072.5 1032.2h0M1073.5 1024h0M1073.5 1031.7h0M1074.5 1023.6h0M1074.5 1032.3h0M1075.3 1022.2h0M1075.5 1023.6h0M1075.5 1032.3h0M1076.5 1022.4h0M1076.5 1032.5h0M1076.4 1021.7h0M1077.5 1023.1h0M1077.5 1031.7h0M1078.5 1023.1h0M1078.5 1032h0M1079.5 1022.8h0M1079.5 1032.5h0M1080.5 1022.4h0M1080.5 1032.2h0M1081.5 1022.2h0M1081.5 1031.7h0M1082.5 1023.2h0M1082.5 1031.9h0M1083.5 1022.6h0M1083.5 1031.8h0M1084.5 1024.2h0M1084.5 1032.2h0M1085.5 1025.2h0M1085.5 1031.9h0M1084.4 1031.9h0M1086.5 1025.7h0M1086.5 1032.4h0M1087.5 1026.2h0M1087.5 1032.3h0M1089.5 1026.3h0M1086 1031.9h0M1088.5 1026.8h0M1088.5 1032.6h0M1089.5 1027.3h0M1089.5 1031.9h0M1090.5 1027.4h0M1090.5 1032.1h0M1091.1 1032.2h0M1091.5 1027.1h0M1091.5 1032.5h0M1092.5 1027.4h0M1092.5 1032h0M1093.5 1027.4h0M1093.5 1032h0M1092 1032.3h0M1094.5 1027.1h0M1094.5 1032h0M1095.2 1023.3h0M1095.5 1026.9h0M1095.5 1032.6h0M1096.5 1026.6h0M1096.5 1032.4h0M1097.5 1027.1h0M1097.5 1031.7h0M1095.8 1027h0M1095.7 1036.5h0M1098.5 1027.1h0M1098.5 1032.2h0M1099.5 1026.6h0M1099.5 1032.6h0M1100 1026.3h0M1100.5 1026.7h0M1100.5 1031.8h0M1101.5 1026.8h0M1101.5 1031.7h0M1101.5 1027h0M1102.5 1026.9h0M1102.5 1032.4h0M1101.2 1027.1h0M1103.5 1027h0M1103.5 1032.4h0M1104.5 1026.8h0M1104.5 1031.9h0M1103.9 1027.1h0M1105.8 1031.8h0M1105.5 1026.7h0M1105.5 1032h0M1106.5 1027.2h0M1106.5 1031.9h0M1107.5 1026.5h0M1107.5 1032.6h0M1108.5 1027.4h0M1108.5 1032h0M1109.5 1026.6h0M1109.5 1032.1h0M1110.5 1026.3h0M1110.5 1032.5h0M1111.5 1026.7h0M1111.5 1032.4h0M1113 1026.7h0M1110.1 1033.6h0M1112.5 1026.2h0M1112.5 1031.8h0M1113.5 1026.2h0M1113.5 1032.5h0M1114.6 1026.2h0M1114.5 1025.1h0M1114.5 1031.7h0M1112.6 1031.8h0M1115.5 1024.4h0M1115.5 1032.5h0M1116.5 1024.5h0M1116.5 1031.9h0M1117.5 1024.1h0M1117.5 1032.2h0M1118.5 1024.4h0M1118.5 1032.6h0M1119.5 1024.1h0M1119.5 1032.1h0M1119 1024h0M1120.5 1024.1h0M1120.5 1032.1h0M1121.5 1024.5h0M1121.5 1031.9h0M1122.5 1024.2h0M1122.5 1032.2h0M1122.4 1033.5h0M1123.5 1024.3h0M1123.5 1031.7h0M1124.5 1024.4h0M1124.5 1032h0M1124.4 1031.7h0M1125.5 1024.5h0M1125.5 1032h0M1126.5 1024.7h0M1126.5 1032.3h0M1127.5 1024h0M1127.5 1031.7h0M1128.5 1024.4h0M1128.5 1032.3h0M1129.5 1024.4h0M1129.5 1031.9h0M1130.5 1024.1h0M1130.5 1032.4h0M1130.6 1032.3h0M1131.5 1023.9h0M1131.5 1032.3h0M1129.3 1023.8h0M1132.5 1024.3h0M1132.5 1032.5h0M1133.5 1024.5h0M1133.5 1032.6h0M1134.5 1024.1h0M1134.5 1032.1h0M1135.4 1031.9h0M1135.5 1023.6h0M1135.5 1032h0M1136.5 1023.1h0M1136.5 1032.3h0M1137.7 1032.6h0M1137.5 1022.8h0M1137.5 1031.9h0M1138.5 1023.3h0M1138.5 1031.8h0M1139.5 1024.5h0M1139.5 1032.6h0M1140.5 1024.7h0M1140.5 1031.9h0M1141.5 1024.9h0M1141.5 1032.4h0M1142.5 1025h0M1142.5 1032.3h0M1143.5 1025.5h0M1143.5 1032.6h0M1144.2 1033.1h0M1144.5 1025.7h0M1144.5 1032.6h0M1145.5 1025.9h0M1145.5 1032.4h0M1146.5 1025.8h0M1146.5 1031.8h0M1147.5 1025.8h0M1147.5 1031.9h0M1148.5 1026h0M1148.5 1031.9h0M1147.8 1032.8h0M1148.8 1031.6h0M1149.5 1025.1h0M1149.5 1032.7h0M1150.5 1025.1h0M1150.5 1031.8h0M1151.5 1024.4h0M1151.5 1031.8h0M1152.5 1023.9h0M1152.5 1032.2h0M1153.5 1023.5h0M1153.5 1032.3h0M1154.5 1024h0M1154.5 1032.5h0M1153.4 1023.5h0M1152.4 1033.2h0M1155.5 1024.1h0M1155.5 1031.7h0M1156.5 1025h0M1156.5 1032.2h0M1158.7 1032.9h0M1157.5 1024.3h0M1157.5 1032.6h0M1158.5 1024.4h0M1158.5 1032.4h0M1159.5 1025.3h0M1159.5 1032.1h0M1160.5 1025.5h0M1160.5 1032.4h0M1161.5 1025.2h0M1161.5 1031.9h0M1162.5 1024.7h0M1162.5 1031.7h0M1162.6 1031.8h0M1163.5 1024.6h0M1163.5 1032.2h0M1164.5 1024.3h0M1164.5 1032h0M1165.5 1024.6h0M1165.5 1031.8h0M1166.5 1024.1h0M1166.5 1031.8h0M1167.5 1024.2h0M1167.5 1031.9h0M1169.3 1022.5h0M1166.5 1033.5h0M1168.5 1024.4h0M1168.5 1031.7h0M1169.5 1025.6h0M1169.5 1032.4h0M1167.9 1026h0M1168.8 1032h0M1170.8 1033.6h0M1170.5 1025.5h0M1170.5 1032.5h0M1171.5 1025.6h0M1171.5 1032.2h0M1172.5 1026.3h0M1172.5 1031.7h0M1173.5 1027.2h0M1173.5 1032.3h0M1174.1 1035.2h0M1171.9 1032.5h0M1174.5 1026.9h0M1174.5 1032.6h0M1175.5 1027h0M1175.5 1032.3h0M1176.5 1026.9h0M1176.5 1032h0M1177.5 1026.5h0M1177.5 1031.9h0M1178.5 1026.7h0M1178.5 1031.8h0M1179.5 1026.5h0M1179.5 1032.4h0M1180.4 1022.6h0M1180.5 1027.3h0M1180.5 1031.9h0M1181.5 1027.3h0M1181.5 1032h0M1182.5 1027.3h0M1182.5 1031.9h0M1183.5 1026.8h0M1183.5 1032.2h0M1182.4 1027h0M1184.5 1027.2h0M1184.5 1032.5h0M1185.2 1024.3h0M1185.5 1026.8h0M1185.5 1032.1h0M1186.5 1027.1h0M1186.5 1032.2h0M1186.8 1033.3h0M1187.5 1027.4h0M1187.5 1032.1h0M1185.4 1027.4h0M1188.5 1026.8h0M1188.5 1032.1h0M1189.5 1026.5h0M1189.5 1032.1h0M1188.5 1031.7h0M1190.5 1027.4h0M1190.5 1032.5h0M1191.5 1026.6h0M1191.5 1032.2h0M1189.5 1026.4h0M1192.5 1026.7h0M1192.5 1032.1h0M1193.5 1026.8h0M1193.5 1032.1h0M1194 1027.2h0M1194.5 1027h0M1194.5 1031.8h0M1195.5 1026.9h0M1195.5 1032.5h0M1196.5 1027.2h0M1196.5 1032.2h0M1197.5 1026.8h0M1197.5 1032.3h0M1198.5 1026.7h0M1198.5 1032.2h0M1199.5 1026.6h0M1199.5 1032.1h0M1200.5 1026.9h0M1200.5 1032.1h0M1201.5 1026.7h0M1201.5 1031.9h0M1202.5 1026.4h0M1202.5 1032.1h0M1203.5 1026.5h0M1203.5 1031.9h0M1204.5 1026.3h0M1204.5 1031.8h0M1205.5 1026.5h0M1205.5 1032.3h0M1206.5 1026h0M1206.5 1032.1h0M1207.5 1025.7h0M1207.5 1032.1h0M1208.5 1024.8h0M1208.5 1031.8h0M1209.5 1022.9h0M1209.5 1031.8h0M1210.5 1021.7h0M1210.5 1032h0M1211.5 1019.7h0M1211.5 1032.1h0M1212.5 1019.4h0M1212.5 1031.7h0M1213.5 1021.8h0M1213.5 1031.5h0M1214.5 1023h0M1214.5 1031.9h0M1215.5 1023.5h0M1215.5 1032.1h0M1217.7 1023.3h0M1216.5 1023.9h0M1216.5 1031.4h0M1217.5 1025.2h0M1217.5 1031.6h0M1218.5 1025.2h0M1218.5 1032.3h0M1219.5 1025.7h0M1219.5 1031.6h0M1220.5 1025.8h0M1220.5 1031.5h0M1218.9 1025.9h0M1221.5 1026.5h0M1221.5 1032h0M1222.5 1025.7h0M1222.5 1031.4h0M1224.2 1023.2h0M1224.1 1026h0M1223.5 1025.8h0M1223.5 1032.3h0M1223.2 1025.7h0M1224.5 1025.1h0M1224.5 1031.8h0M1225.5 1025.2h0M1225.5 1032.1h0M1226.5 1025h0M1226.5 1032.1h0M1227.5 1024.9h0M1227.5 1032h0M1228.5 1025.1h0M1228.5 1032.2h0M1227.9 1024.8h0M1229.5 1024.5h0M1229.5 1031.5h0M1230.5 1024.1h0M1230.5 1031.5h0M1231.9 1031.3h0M1231.5 1023.8h0M1231.5 1031.7h0M1230 1031.7h0M1232.5 1024.2h0M1232.5 1031.4h0M1233.5 1023.9h0M1233.5 1031.4h0M1234.5 1023.4h0M1234.5 1031.5h0M1233 1031.1h0M1235.5 1021.9h0M1235.5 1031.3h0M1237.6 1022h0M1235 1031.2h0M1236.5 1021.8h0M1236.5 1031.2h0M1237.5 1020.3h0M1237.5 1032h0M1238.5 1019.5h0M1238.5 1031.3h0M1239.5 1019.4h0M1239.5 1031.9h0M1240.5 1021.9h0M1240.5 1031.5h0M1241.5 1022.6h0M1241.5 1031.6h0M1240.7 1022.8h0M1242.5 1022.9h0M1242.5 1031.3h0M1240.7 1022h0M1243.5 1023.6h0M1243.5 1031.8h0M1245.5 1031.4h0M1244.5 1024.3h0M1244.5 1031.7h0M1245.5 1024.2h0M1245.5 1031.3h0M1246.5 1024.9h0M1246.5 1032.1h0M1247.9 1031.7h0M1247.5 1024.4h0M1247.5 1031.2h0M1245.7 1024.1h0M1248.5 1025.1h0M1248.5 1032h0M1246.9 1031.8h0M1249.5 1024.8h0M1249.5 1032h0M1250.4 1025.2h0M1249 1031.7h0M1247.7 1031.7h0M1250.5 1024.9h0M1250.5 1031.6h0M1251.5 1025.3h0M1251.5 1032.3h0M1251.6 1024.7h0M1250.8 1024.9h0M1251.7 1032.2h0M1251.3 1032.2h0M1252.5 1025.3h0M1252.5 1032.4h0M1253.5 1025.3h0M1253.5 1032.3h0M1254.5 1024.9h0M1254.5 1031.6h0M1255.5 1024.8h0M1255.5 1032.1h0M1256.5 1025.4h0M1256.5 1032.3h0M1257.5 1025.5h0M1257.5 1032.4h0M1258.5 1024.9h0M1258.5 1031.8h0M1259.5 1025.1h0M1259.5 1032.1h0M1260.5 1025.5h0M1260.5 1032.7h0M1261.5 1025.1h0M1261.5 1032.6h0M1262.5 1025.3h0M1262.5 1032.4h0M1263.5 1025h0M1263.5 1032.9h0M1263.8 1024.2h0M1264.5 1025.5h0M1264.5 1032.1h0M1264.7 1032.5h0M1265.5 1024.7h0M1265.5 1032h0M1266.5 1024.8h0M1266.5 1032.8h0M1268.3 1025.1h0M1267.5 1025h0M1267.5 1032.1h0M1268.5 1024.4h0M1268.5 1032.4h0M1266.8 1032.2h0M1269.5 1023.9h0M1269.5 1032.9h0M1270.5 1024.1h0M1270.5 1032.9h0M1271.5 1022.8h0M1271.5 1032.4h0M1272.5 1021.5h0M1272.5 1032.3h0M1273.5 1020.6h0M1273.5 1032.9h0M1274.5 1019.4h0M1274.5 1032.6h0M1275.5 1020.7h0M1275.5 1032.9h0M1276.5 1022.4h0M1276.5 1032.6h0M1277.5 1024h0M1277.5 1032.1h0M1278.5 1023.7h0M1278.5 1032.3h0M1279.5 1023.1h0M1279.5 1032.3h0M1280.5 1022.6h0M1280.5 1032.7h0M1281.5 1022.8h0M1281.5 1032.6h0M1281.6 1022.8h0M1282.6 1032.3h0M1279.8 1032.9h0M1282.5 1021.4h0M1282.5 1032.2h0M1283.5 1021.3h0M1283.5 1032.2h0M1284.5 1021.1h0M1284.5 1032.3h0M1283.1 1020h0M1285.5 1020.1h0M1285.5 1033h0M1287.1 1018.3h0M1286.5 1019.1h0M1286.5 1033h0M1287.5 1020.1h0M1287.5 1032.6h0M1288.5 1022.1h0M1288.5 1033.4h0M1289.5 1022.8h0M1289.5 1033.2h0M1291.2 1022.6h0M1290.5 1024.2h0M1290.5 1032.8h0M1291.5 1025.3h0M1291.5 1032.7h0M1292.5 1025.7h0M1292.5 1033h0M1291 1026h0M1293.5 1026h0M1293.5 1032.9h0M1291.9 1024.4h0M1294.5 1026.2h0M1294.5 1032.7h0M1295.5 1025.9h0M1295.5 1033h0M1296.5 1025.6h0M1296.5 1033.3h0M1297.5 1024.9h0M1297.5 1033.2h0M1298.9 1033.3h0M1298.5 1024.6h0M1298.5 1033.1h0M1299.5 1024.6h0M1299.5 1032.4h0M1301.2 1032.2h0M1300.5 1023.9h0M1300.5 1032.8h0M1301.6 1033.7h0M1301.5 1023.1h0M1301.5 1031.8h0M1302.5 1022.6h0M1302.5 1032.2h0M1303.5 1021.5h0M1303.5 1031.4h0M1304.5 1021.1h0M1304.5 1031.4h0M1305.5 1021.3h0M1305.5 1031.8h0M1306.5 1020.7h0M1306.5 1031.4h0M1307.5 1020.3h0M1307.5 1031.1h0M1308.5 1017.9h0M1308.5 1031.3h0M1309.5 1018.1h0M1309.5 1018.1h0M1309.5 1031.6h0M1310.5 1017.1h0M1310.5 1031.3h0M1311.5 1016.5h0M1311.5 1031.2h0M1310 1031.3h0M1312.5 1015.9h0M1312.5 1031.4h0M1313.5 1015.2h0M1313.5 1030.7h0M1314.5 1016.2h0M1314.5 1031.3h0M1315 1031.8h0M1315.5 1017.9h0M1315.5 1030.9h0M1316.5 1017.5h0M1316.5 1030.9h0M1316 1017.6h0M1317.5 1017.5h0M1317.5 1030.6h0M1318.5 1016.5h0M1318.5 1030.8h0M1319.5 1014.2h0M1319.5 1030.6h0M1320.5 1013.4h0M1320.5 1030.4h0M1321.5 1006.9h0M1321.5 1030h0M1322.5 987.9h0M1322.5 1028.9h0M1321.2 987.9h0M1323.5 986.9h0M1323.5 1028.8h0M1324.2 986.4h0M1324 987.3h0M1324.5 985.6h0M1324.5 1028.3h0M1325.5 987h0M1325.5 1028.4h0M1326.5 989.4h0M1326.5 1028.3h0M1324.5 1028h0M1327.5 991.9h0M1327.5 1028.8h0M1329.7 989.3h0M1327.8 1029.4h0M1328.5 992.7h0M1328.5 1028.6h0M1329.5 993.8h0M1329.5 1029.5h0M1330.5 998.4h0M1330.5 1028.7h0M1330.2 1028.9h0M1331.5 1003.9h0M1331.5 1030h0M1329.7 1003.2h0M1332.5 1006.8h0M1332.5 1029.2h0M1333.5 1012.4h0M1333.5 1030.4h0M1333.4 1030.8h0M1334.5 1014.5h0M1334.5 1030.8h0M1335.5 1017.5h0M1335.5 1030h0M1336.3 1029.6h0M1336.5 1016.6h0M1336.5 1029.5h0M1337.5 1015.5h0M1337.5 1029h0M1338.5 1012.4h0M1338.5 1029.2h0M1338.2 1011.8h0M1339.5 1011.5h0M1339.5 1028.7h0M1338.5 1011.7h0M1340.5 1008.4h0M1340.5 1028.6h0M1341.5 1004.7h0M1341.5 1028.5h0M1342.5 1003.6h0M1342.5 1028.2h0M1343.5 1003.5h0M1343.5 1027.2h0M1344.5 1005.1h0M1344.5 1027.9h0M1345.5 1009.1h0M1345.5 1028.6h0M1346.5 1010.9h0M1346.5 1028.6h0M1347.5 1014.7h0M1347.5 1027.8h0M1349.1 1014.6h0M1348.5 1018.3h0M1348.5 1028.4h0M1349.5 1021.2h0M1349.5 1027.8h0M1348.2 1021.4h0M1350.5 1021.8h0M1350.5 1029.2h0M1351.5 1020.2h0M1351.5 1028.4h0M1350 1031.4h0M1352.5 1018.6h0M1352.5 1029.2h0M1353.5 1011.7h0M1353.5 1029.6h0M1354.5 1003.6h0M1354.5 1029.8h0M1352.5 1002.2h0M1355.5 1004h0M1355.5 1029.2h0M1356.5 1001.2h0M1356.5 1029.7h0M1356.8 1000.4h0M1357.5 1000h0M1357.5 1030.4h0M1358.5 999.8h0M1358.5 1029.3h0M1359.5 999h0M1359.5 1029.6h0M1360.5 1029.7h0M1360.5 1004h0M1360.5 1029.7h0M1361.5 1007.8h0M1361.5 1031.1h0M1360.1 1006.8h0M1362.5 1011.2h0M1362.5 1030.1h0M1363.2 1011.5h0M1363.5 1015.7h0M1363.5 1030.1h0M1364.5 1019h0M1364.5 1031.6h0M1365.5 1018.8h0M1365.5 1031.4h0M1366.5 1018.4h0M1366.5 1030h0M1367.5 1017.5h0M1367.5 1029.8h0M1368.5 1016.6h0M1368.5 1031h0M1367 1030.6h0M1368.1 1030.6h0M1369.5 1012.5h0M1369.5 1029.6h0M1370.5 1008h0M1370.5 1029.3h0M1368.9 1029.7h0M1371.5 1001.3h0M1371.5 1029.1h0M1373.7 1001.4h0M1372.5 1000.2h0M1372.5 1029.4h0M1373.5 1000.3h0M1373.5 1030.1h0M1371.8 999.6h0M1374.5 999h0M1374.5 1029.3h0M1375.5 998.9h0M1375.5 1028.6h0M1376.5 999.3h0M1376.5 1027.9h0M1377.5 998.8h0M1377.5 1028.5h0M1378.7 1030.1h0M1378.5 998.3h0M1378.5 1028.1h0M1378 997.5h0M1379.5 998h0M1379.5 1029h0M1380.5 998.7h0M1380.5 1027.6h0M1381.5 998.2h0M1381.5 1027.3h0M1382.5 1011.6h0M1382.5 1027.4h0M1384.5 1027.7h0M1383.5 1014.3h0M1383.5 1028h0M1384.5 1012h0M1384.5 1028.1h0M1385.5 1010.2h0M1385.5 1027.3h0M1386.5 1006.6h0M1386.5 1027.5h0M1387.5 1003.5h0M1387.5 1028.2h0M1386.5 1002.6h0M1388.5 997.9h0M1388.5 1026.9h0M1386.3 1026.6h0M1389.5 996.8h0M1389.5 1027.4h0M1390.5 995.1h0M1390.5 1027.2h0M1391.5 994.6h0M1391.5 1026.5h0M1392.5 997.3h0M1392.5 1026.7h0M1394.3 996.7h0M1393.5 998.6h0M1393.5 1027.1h0M1393.5 998.9h0M1394.5 1001.6h0M1394.5 1026.1h0M1395.5 1007h0M1395.5 1026.2h0M1397.4 1007.2h0M1394.6 1006.9h0M1396.5 1009.2h0M1396.5 1026.1h0M1396.7 1007.5h0M1397 1027.5h0M1396.2 1026.5h0M1397.5 1007.6h0M1397.5 1026.1h0M1398.5 1000.7h0M1398.5 1025.6h0M1396.6 1026.4h0M1399.5 1000.3h0M1399.5 1026.1h0M1400.5 1000.5h0M1400.5 1025.8h0M1400.1 1026.3h0M1398.5 1026.2h0M1402.6 1025.9h0M1401.5 998.8h0M1401.5 1025.7h0M1402.5 997.1h0M1402.5 1026.9h0M1403.5 992.7h0M1403.5 1026.1h0M1404.5 992.7h0M1404.5 1026.9h0M1405.2 992.7h0M1403.9 992.6h0M1403.9 990.8h0M1405.5 992h0M1405.5 1026.4h0M1406.5 991.3h0M1406.5 1025.9h0M1404.4 991h0M1407.5 992.2h0M1407.5 1027.2h0M1408.5 993.2h0M1408.5 1026.7h0M1408 1029.1h0M1409.5 993.9h0M1409.5 1026.3h0M1410.8 1027.9h0M1410.5 995.3h0M1410.5 1027.5h0M1411.2 993.2h0M1411.5 995h0M1411.5 1027.6h0M1411.4 992.6h0M1412.5 995.9h0M1412.5 1027.7h0M1413.5 1000.7h0M1413.5 1027.3h0M1415.7 999.5h0M1414.2 1000.9h0M1414.5 1006.6h0M1414.5 1027.2h0M1415.5 1005h0M1415.5 1027.8h0M1413.9 1028.3h0M1416.5 1003.1h0M1416.5 1028.5h0M1418.7 1001.5h0M1417.5 999.8h0M1417.5 1027.7h0M1418 1027.9h0M1418.5 998.2h0M1418.5 1027.9h0M1417.3 1027.9h0M1419.5 996.8h0M1419.5 1027.9h0M1420.5 994h0M1420.5 1027.2h0M1419.4 1029.3h0M1421.5 992.4h0M1421.5 1027.1h0M1422.5 991.8h0M1422.5 1025.3h0M1423.5 990.6h0M1423.5 1026.3h0M1424.5 989.2h0M1424.5 1025.2h0M1425.5 990.6h0M1425.5 1024.9h0M1426.5 990.5h0M1426.5 1025.2h0M1427.5 991.3h0M1427.5 1025.1h0M1428.5 990.4h0M1428.5 1025.6h0M1429 990h0M1429.5 987.6h0M1429.5 1024.7h0M1427.5 1024.8h0M1430.5 986.2h0M1430.5 1026h0M1431.5 989.5h0M1431.5 1025.1h0M1430.9 1024.8h0M1432.5 991.9h0M1432.5 1025.1h0M1431 990h0M1433.5 994.1h0M1433.5 1025.4h0M1434.5 997.9h0M1434.5 1025.3h0M1435.5 999.3h0M1435.5 1026.7h0M1434.2 1026.3h0M1437 1026.3h0M1436.5 1000.9h0M1436.5 1025.9h0M1437.5 1002.5h0M1437.5 1026h0M1438.5 1001.9h0M1438.5 1002.5h0M1438.5 1026h0M1437.1 1002.9h0M1440.3 1028h0M1439.5 1002.4h0M1439.5 1026.2h0M1438.2 1026.6h0M1440.5 1003.6h0M1440.5 1027.8h0M1441.5 1006h0M1441.5 1027.8h0M1443 1004.3h0M1442.5 1005.9h0M1442.5 1027.9h0M1443.4 1006.3h0M1444.6 1005.5h0M1443.5 1004h0M1443.5 1027.4h0M1443.9 1002.7h0M1444.5 1000.1h0M1444.5 1026.6h0M1445.5 993.8h0M1445.5 1026.9h0M1446.5 994h0M1446.5 1027.8h0M1447.6 993h0M1447.5 993h0M1447.5 1026.5h0M1448.5 993.3h0M1448.5 1027.1h0M1448.1 1027.8h0M1449.5 995.4h0M1449.5 1026.6h0M1448 995.3h0M1449.9 1026.6h0M1450.5 995.3h0M1450.5 1027.4h0M1451.5 1027h0M1451.5 995.9h0M1451.5 1027.4h0M1452.5 995.8h0M1452.5 1025.8h0M1453.5 996.4h0M1453.5 1026.3h0M1454.2 1027.3h0M1454.5 995.7h0M1454.5 1026.7h0M1455.5 995.7h0M1455.5 1026h0M1456.5 994.1h0M1456.5 1026.5h0M1454.5 993.3h0M1456.2 994.2h0M1457.5 989.6h0M1457.5 1026.2h0M1456.6 989.3h0M1458.5 988.1h0M1457.9 1025.8h0M1458 1029.7h0M1456.3 1029.1h0M1458.5 981.7h0M1458.5 1025.8h0M1457 1025.6h0M1459.5 980.4h0M1459.5 1026h0M1460.7 978.4h0M1460.5 977.8h0M1460.5 1026.3h0M1461.5 976.7h0M1461.5 1025.5h0M1462.5 975.7h0M1462.5 1026.4h0M1461.4 975.9h0M206.3 867.1h0M206.3 873.7h0M206.3 880.4h0M206.3 886.6h0M206.3 891.7h0M206.3 897.8h0M206.3 904h0M206.3 910.1h0M223.7 874.3h0M223.7 876.3h0M222.2 891.7h0M268.1 902.9h0M268.1 907.7h0M269.3 922h0M268.1 926.5h0M268.1 932.2h0M268.1 938.8h0M237.4 930.6h0M237.4 937.8h0M253.4 926.5h0M253.4 931.6h0M253.4 937.8h0M253.4 943.9h0M183.3 942.5h0M183.3 949h0M183.3 955.2h0M287.3 897.4h0M335.3 923.4h0M333.2 933h0M162.4 984.9h0M162.4 990h0M441.4 848.7h0M441.4 851.1h0M436.5 860.5h0M441.4 864h0M436.5 868.1h0M441.4 870.2h0M443 875.7h0M436.5 879.4h0M436.5 883.9h0M443 888.6h0M494.2 824.1h0M502.4 829.8h0M502.4 833.9h0M494.2 835.4h0M494.2 840.5h0M494.2 845.6h0M494.2 850.7h0M494.2 856.9h0M500.3 858.9h0M502.4 859.9h0M503.4 869.2h0M466.6 881.4h0M466.6 884.5h0M466.6 891.7h0M466.6 897.8h0M466.6 904h0M480.3 893.3h0M480.3 899.9h0M521.2 916.3h0M521.2 926.5h0M521.2 942.5h0M521.2 953.1h0M555.2 931.6h0M555.2 937.8h0M603.2 868.7h0M603.2 879.4h0M603.2 885.5h0M603.2 891.7h0M603.2 896.8h0M603.2 904h0M603.2 911.1h0M603.2 920.3h0M688.3 875.3h0M688.3 878.4h0M688.3 885.5h0M688.3 892.7h0M688.3 904h0M688.3 913.8h0M659.7 902.9h0M668.3 913.2h0M637.6 926.5h0M595.6 964.8h0M572.4 999.8h0M425.6 927.5h0M473.4 597.4h0M473.4 599.5h0M473.4 601.6h0M473.4 606.3h0M473.4 610.6h0M473.4 617.4h0M473.4 623.4h0M473.4 634.5h0M473.4 644.3h0M473.4 651.6h0M473.4 669.9h0M473.4 672.5h0M473.4 693.8h0M473.4 696.4h0M473.4 718.4h0M473.4 724.8h0M473.4 749.3h0M473.4 754.7h0M473.4 777.5h0M473.4 781.3h0M473.4 798h0M473.4 802.2h0M473.4 810.1h0M473.4 814.4h0M473.4 817.6h0M473.4 824h0M473.4 828.3h0M473.4 832.5h0M472.3 798.4h0M471.6 816.5h0M494.3 824.4h0M502.2 830.4h0M690 875.3h0M690 880.4h0M690 885.5h0M690 891.7h0M690 897.8h0M690 902.9h0M690 914.2h0M690 920.3h0M691 926.5h0M691.6 934.7h0M692.5 942.9h0M693.7 955.2h0M696.1 965.4h0M714.2 922h0M714.2 925.5h0M714.2 932.2h0M714.2 937.8h0M714.2 941.9h0M731.4 909.1h0M731.4 915.2h0M731.4 920.3h0M731.4 926.5h0M731.4 932.2h0M731.4 936.7h0M731.4 942.9h0M731.4 949h0M741.2 896.8h0M741.2 898.8h0M741.2 902.9h0M741.2 909.1h0M858.3 982.8h0M858.3 990h0M893.2 990.4h0M893.2 996.1h0M952.5 1003.3h0M933.3 1013.5h0M1447.4 983.7h0M1324.8 984.9h0M1359.5 996.8h0M1406.6 987.9h0M1430.6 983.7h0M1274.4 1019.1h0" stroke="#1f77b4" stroke-width="5.5" stroke-linecap="round" fill="none"/>
<path d="M117.2 1015.6 118.6 1017.4 119.2 1020.1 120 1019.5 121.4 1020.2 122.8 1021.5 123.3 1020.9 124.2 1021.2 125.6 1020.4 126.4 1019.6 127 1019.7 128.4 1018.7 129.5 1017.7 129.8 1016.9 131.2 1016.3 132.5 1013.9 132.6 1014.2 134 1015.7 135.4 1016.4 135.6 1016.8 136.8 1018.2 138.2 1019.7 138.3 1019.8 139.6 1018.4 140.7 1015.3 141 1015 142.4 1012.4 143.8 1009.4 143.8 1012.1 145.2 1013.8 146.6 1016.3 146.9 1014.6 148 1013.9 149.4 1012.6 149.9 1014.2 150.8 1013.9 152.2 1013.9 153 1014.6 153.6 1015.2 155 1015.1 156.1 1016.9 156.4 1015.4 157.8 1013.9 159.2 1012.1 159.2 1011.8 160.6 1011.9 162 1013.2 162.2 1014.2 163.4 1015 164.8 1016.6 164.9 1017.5 166.2 1015 167.6 1012.7 168.4 1011.5 169 1010.8 170.4 1009.8 171.4 1010.4 171.8 1009.8 173.2 1009 173.9 1007.5 174.6 1008 176 1010.9 176.6 1010.2 177.4 1010.2 178.8 1011.5 179.6 1010 180.2 1005.9 181.6 995.1 182.1 993.7 183 995.4 184.4 1005.2 184.7 1005.6 185.8 1002.8 187.2 1003.8 187.4 1003 188.6 1005.9 189.9 1007 190 1005.2 191.4 996.4 191.9 994.7 192.8 998.5 193.6 1006 194.2 995.8 195.6 980 196 971.1 197 984.8 198.1 995.2 198.4 997.3 199.8 1002 200.1 1001 201.2 992.6 202.6 986.7 203.2 987 204 977.4 205.4 962.5 205.8 960.7 206.8 975.5 207.9 997.4 208.2 998.8 209.6 1004 209.9 1006.5 211 997.2 211.4 996.6 212.4 1002 213.4 1010 213.8 1007.7 215.2 1000.2 215.5 998.1 216.6 1001.8 218 1005.9 218.1 1007.2 219.4 988.2 220.6 965.6 220.8 963.8 222.2 950.5 222.6 943.1 223.6 955.2 224.3 960.6 225 971.8 226.3 989.2 226.4 989.7 227.8 998.2 229.2 1008.7 229.2 1009.3 230.6 1000.9 231.9 991.5 232 991.1 233.4 986.9 234.8 983.1 234.9 983.5 236.2 983.9 237.6 984.3 238 985.1 239 989.9 240 992 240.4 991.7 241.8 989.1 243.1 985 243.2 983.8 244.6 988.1 245.2 992.9 246 989.2 247.2 989.5 247.4 988.1 248.8 997.9 249.7 997.6 250.2 1000.6 251.6 995.8 252.3 995 253 997.5 254.4 1002.3 255 1003.9 255.8 1004.4 257.2 994.4 257.9 992.3 258.6 985.1 259.9 977.6 260 979.3 261.4 996.3 262 1005.5 262.8 1003.7 264.2 1001.4 264.6 1002.1 265.6 992.3 267 974.8 267.3 970 268.4 981.8 269.7 990.4 269.8 991.4 271.2 995.1 271.8 999.6 272.6 1005.4 273.4 1006.7 274 1008.2 275.4 1001.3 276.8 996.1 276.9 997.7 278.2 998.1 279.6 994 280 993.6 281 997.7 282 997.4 282.4 989.3 283.8 981.9 284.1 978.5 285.2 967.9 286.5 955.3 286.6 954.8 288 968.9 288.6 978.6 289.4 980.2 290.8 995.2 291.2 1000 292.2 992.9 293.3 988.3 293.6 989.7 295 999.6 295.3 998.6 296.4 995.8 297.4 988.2 297.8 990.4 299.2 1001.3 299.4 1003.3 300.6 996.8 301.5 994.6 302 997.9 303.4 1000.4 303.5 1000.6 304.8 975.8 306 953.5 306.2 951.9 307.6 978.6 308.2 988.2 309 991.9 310.4 997.9 310.7 999.2 311.8 997.7 312.7 992.4 313.2 995.3 314.6 985.2 315.8 982.4 316 982.8 317.4 989.3 318.8 998.1 318.9 997.9 320.2 996.3 321.6 993.7 322 992 323 989.4 324 987.9 324.4 992 325.8 1000.6 326.1 1001.9 327.2 1000.7 328.6 1001.4 329.1 1002.9 330 994.6 331.4 982.5 332.2 978.6 332.8 979.3 334.2 985.8 334.2 984.9 335.6 981.5 335.7 981.9 337 989.4 337.7 991.8 338.4 990.9 339.4 988.6 339.8 990.6 341.2 1000.1 342.4 1005.9 342.6 1006.4 344 1009.5 344.5 1009.3 345.4 1009.4 346.8 1005.1 347.6 1005.2 348.2 1003.2 349.6 993.2 350 990 351 995.9 352.1 1002.4 352.4 998.1 353.8 995.6 354.7 990.1 355.2 989.3 356.6 996.1 357.8 1004.7 358 1002.3 359.4 995.8 360.3 989.4 360.8 991.4 362.2 1002.8 362.9 1009 363.6 1009.8 365 1011.5 366 1010.8 366.4 1010.7 367.8 1005.9 368.4 1004 369.2 1003.8 370.6 1010.3 371.1 1011.2 372 1007.8 372.7 1003.6 373.4 1008 374.2 1016.1 374.8 1010.6 376.2 1001.7 376.2 999.6 377.6 1008.9 378.7 1014.8 379 1014.3 380.4 1010.6 380.7 1008.3 381.8 1015.9 382.4 1020.6 383.2 1006.1 384.4 983.7 384.6 981 386 998.4 386.9 1008.2 387.4 1008.8 388.8 1011.2 389.5 1012.9 390.2 1012.2 391.6 1006.5 392.6 1004.9 393 1008.5 394.4 1015.9 394.7 1018.8 395.8 1010.4 397.2 1001.6 397.7 996.3 398.6 991.7 399.8 989.8 400 986.5 401.4 999 401.8 1000 402.8 993 404.2 979.1 404.5 978.3 405.6 991.1 406.9 1007.6 407 1007.7 408.4 1002.7 409.8 996.5 411.2 987.1 411.3 986.2 412.6 994.7 414 1006.1 414.3 1004.1 415.4 1008.3 416.8 1010.6 417.4 1009 418.2 999.7 418.8 992.3 419.6 1000.1 420.5 1012.2 421 1001.6 422.4 972.7 422.5 970.9 423.8 982.2 424.2 983.1 425.2 973.8 425.6 972.7 426.6 992.3 427.6 1011.8 428 1010.1 429.4 1004.4 430.7 1001.3 430.8 1000.6 432.2 990.4 433.6 979.2 433.8 979.1 435 968.9 436.4 953.9 436.5 956.1 437.8 972.7 438.5 985 439.2 975.4 440.6 957.1 441 950.3 442 950.5 443.4 950.2 443.4 950.3 444.8 961.4 446.1 976.4 446.2 976.1 447.6 999 448.7 1016.6 449 1014.3 450.4 998.8 451.6 981.9 451.8 985.2 453.2 999.7 453.7 1003.4 454.6 997 455.3 993.6 456 1000.6 457.3 1011 457.4 1011.2 458.8 1014.6 460.2 1019.3 461.4 1021.7 461.6 1020.4 463 1005.6 463.9 988.5 464.4 978.7 465.8 949.1 465.9 945.6 467.2 965.3 468.6 978.4 468.6 977.4 470 973.2 470.7 969.9 471.4 908.6 471.7 880.5 472.7 835.2 472.8 838.7 474.1 882.1 474.2 884.2 475.6 997 475.8 1014.6 477 989.5 477.8 974.2 478.4 972.1 479.8 964.1 480.3 964.1 481.2 975.8 482.6 995.4 482.9 1003 484 987.5 484.4 982.4 485.4 990.7 486.4 999.4 486.8 997.6 488.2 995.7 488.5 992.7 489.6 979.6 491 957.9 491.1 955.1 492.4 936.4 493.8 920.1 493.8 916.9 495.2 956.4 496.3 984.9 496.6 980 498 945.1 498.7 928 499.4 938.4 500.3 952.9 500.8 947.8 502.2 935.9 502.4 932.7 503.6 950.1 504.4 965.9 505 973.2 506.4 994.7 506.5 997.2 507.8 990.1 508.9 982.2 509.2 981 510.6 976.5 512 972.2 512.2 973.7 513.4 982.7 514.7 1000.4 514.8 999.3 516.2 999.4 516.7 993.4 517.6 1000.2 518.8 1005.2 519 1004.1 520.4 997.6 521.8 989.1 521.9 987.6 523.2 996.1 524.6 997.2 524.9 997.6 526 1003.5 527.4 1010.8 528 1012 528.8 1014.2 530.2 1017.5 531.1 1019.1 531.6 1016.8 533 1011.6 534.1 1005.5 534.4 1007.2 535.8 1008.4 537.2 1012 537.2 1011.6 538.6 1010.2 540 1010.9 540.3 1010.5 541.4 1012.9 542.8 1015.6 543.4 1016 544.2 1018.1 545.6 1021.7 545.8 1022.3 547 1021.4 548.4 1021.9 549.5 1021.6 549.8 1021.5 551.2 1020.2 552 1018.4 552.6 1011.6 554 995.9 555.2 975.4 555.4 979 556.8 988.7 557.7 995 558.2 995.4 559.6 994.2 559.7 993.2 561 999.1 562.4 1010.9 562.8 1014.5 563.8 1010.7 564.9 1010.6 565.2 1012.1 566.6 1016.3 566.9 1017.9 568 1018.7 569.4 1020.2 569.6 1019.6 570.8 1018.8 572.2 1019 573 1017.8 573.6 1017.2 575 1017.7 576.4 1019.3 577.1 1020.1 577.8 1019.5 579.2 1018.5 580.6 1018.2 581.2 1018.4 582 1017.8 583.4 1016.1 584.3 1015.5 584.8 1014.6 586.2 1015.9 587.4 1016.6 587.6 1016.8 589 1015.2 589.4 1014.4 590.4 1011.3 591.8 1007.1 592.5 1003.9 593.2 1001.4 594.6 1001.3 595 1000.9 596 1003.9 597 1012.9 597.4 1005.3 598.8 1000 599.7 997.4 600.2 990.8 601.6 971.6 602.7 957.7 603 963 604.4 987.3 604.8 994.5 605.8 1005.1 606.8 1011.2 607.2 1014.5 608.5 1022.8 608.6 1022.3 610 1016.5 610.9 1012.4 611.4 1010.7 612.8 1005.7 613 1005.1 614.2 1010.8 615.6 1017 616.1 1019 617 1014.7 618.1 1005.8 618.4 1006.7 619.8 1002.4 620.8 1001.3 621.2 1002.8 622.6 1007.6 623.2 1011.4 624 1007 625.3 1002.5 625.4 1003 626.8 1002.3 627.7 1000.8 628.2 1002.3 629.6 998.1 630.4 996.6 631 995.7 632.4 996.1 633.5 995 633.8 991.3 635.2 983.6 636.5 974.3 636.6 977 638 992.4 638.6 1001.6 639.4 1001.8 640.6 1004.3 640.8 1004.4 642.2 1009.9 643.6 1013 643.7 1013.9 645 1010.1 646.4 1005.2 646.8 1007.5 647.8 1006.6 649.2 1000.3 649.4 1002.3 650.6 992.3 652 983.2 652.3 980.6 653.4 990 654.4 999.6 654.8 995.4 656.2 990.7 657 986.1 657.6 980.1 659 961.8 659.7 953.8 660.4 966.9 661.8 986 662.1 989.8 663.2 994.5 664.6 999.8 665.2 1004.1 666 995.7 667.4 987.2 667.9 982.4 668.8 989.4 669.3 1000.9 670.2 989.4 671.3 975.3 671.6 982.6 672.8 1015.8 673 1017.2 674.4 1013.8 675.4 1011.8 675.8 1012.4 677.2 1012.9 678.5 1011.7 678.6 1012.3 680 1010.1 681.4 1009.4 681.6 1010 682.8 1005.1 684.2 995.4 684.7 992.8 685.6 1006.7 685.7 1007.3 687 980 688.3 949.7 688.4 953.9 689.8 970.3 690.4 981.8 691.2 986.9 692.4 1000.8 692.6 995.8 694 987.8 694.5 980.3 695.4 991.6 696.8 999.9 696.9 999.7 698.2 1005.3 699.6 1008.8 701 1009.6 702.3 1012 702.4 1010.4 703.8 1008.1 704.3 1006.8 705.2 1007.2 706.4 999.7 706.6 1002.8 708 1010.4 708.4 1010.8 709.4 1007.7 710.5 1006.4 710.8 1009.7 712.1 1011.6 712.2 1011.4 713.6 990.1 714.2 983.8 715 991.7 716.2 1007.6 716.4 1003.6 717.6 991.4 717.8 989.3 719.2 1004.4 720.3 1011.6 720.6 1009 722 1003.2 722.4 1001.9 723.4 1008.8 724.8 1015.2 724.8 1016 726.2 998.4 726.9 985.6 727.6 987.5 728.9 992.1 729 993 730.4 986.8 731 984.1 731.8 984.1 733 990 733.2 990.1 734.6 985.3 735.5 980.2 736 978.7 737.4 969.9 737.5 969.9 738.8 976.5 739.6 980.6 740.2 978.5 741.6 974.3 741.6 972.8 742.8 990.2 743 990.5 744.3 972.9 744.4 972.1 745.8 987.7 746.3 994.7 747.2 988.8 748.4 977.5 748.6 976.2 750 982.4 750.4 982.8 751.4 997.2 752.5 1007.1 752.8 1010.2 754.2 1013.3 754.5 1014.9 755.6 1016.5 757 1020.5 757.2 1020.7 758.4 1016.4 759.8 1010.5 760.7 1007.8 761.2 1007.8 762.6 1013.6 762.7 1013.3 764 1011.8 764.7 1006.8 765.4 1008.6 766.8 1003.7 767.8 999.6 768.2 1003 769.6 1009.5 769.9 1011.3 771 1012.6 772.4 1008 772.9 1009.5 773.8 1013.2 775.2 1016.4 775.6 1018.5 776.6 1018.3 778 1019.3 778.1 1020.3 779.4 1018.9 780.8 1016.9 781.1 1017.5 782.2 1018 783.6 1021.9 784.2 1022.6 785 1021 786.3 1017.7 786.4 1017.9 787.8 1020.4 789.2 1023 789.3 1023.3 790.6 1023.2 792 1023.7 792.4 1023.5 793.4 1023.9 794.8 1022.9 796.2 1021.6 796.5 1021.8 797.6 1019.7 799 1014.6 799.6 1013.8 800.4 1015.2 801.6 1017.5 801.8 1017.1 803.2 1009.6 803.7 1010.5 804.6 1012.7 805.7 1017.7 806 1016.6 807.4 1018.1 808.8 1016 808.8 1014.2 810.2 1016.1 811.6 1017.2 811.9 1017 813 1018 814.4 1019.5 815.8 1021.2 815.9 1021.8 817.2 1022.1 818.6 1022.9 820 1022.7 820 1021.9 821.4 1023.4 822.8 1024.5 823.1 1024.1 824.2 1023.8 825.6 1022.9 827 1021.5 827.2 1021.6 828.4 1021.6 829.8 1022.9 831.2 1023 831.3 1022.8 832.6 1022.3 834 1021.5 835.4 1019.9 836.4 1019 836.8 1019.2 838.2 1020.3 839.5 1022.1 839.6 1022.2 841 1022.7 842.4 1021.9 843.6 1022.7 843.8 1023.1 845.2 1022.4 846.6 1020.6 846.7 1020.5 848 1021.4 849.4 1022.7 849.7 1023 850.8 1022.1 852.2 1020.1 853.6 1019.7 853.8 1018.1 855 1018.2 856.4 1017.7 857.8 1016.5 857.9 1015.9 859.2 1019.7 860 1022.7 860.6 1022.3 862 1022 863.4 1021.5 864.1 1022.2 864.8 1020.5 866.1 1019.3 866.2 1020.4 867.6 1021 869 1022.5 870.2 1023.3 870.4 1023 871.8 1023.9 873.2 1023.9 874.3 1024.9 874.6 1025.1 876 1023.9 877.4 1022.9 877.4 1023.8 878.8 1023.7 880.2 1023.7 881.5 1025.1 881.6 1024.1 883 1023.5 884.4 1022.1 884.6 1021.6 885.8 1022.7 887.2 1024.2 887.6 1025.5 888.6 1025.2 890 1026.2 890.7 1026.8 891.4 1023 892.7 1016.9 892.8 1016 894.2 1020.5 894.8 1023 895.6 1020.4 897 1015.4 897.2 1014.4 898.4 1018.4 899.8 1023.3 899.9 1023.7 901.2 1022.9 902.6 1022.5 903 1021.2 904 1022.6 905.4 1023.8 906.8 1024.6 907.1 1024.8 908.2 1025.4 909.6 1025.3 911 1025.9 911.2 1025.9 912.4 1024.4 913.6 1022.9 913.8 1023.2 915.2 1024.5 916.6 1025 917.3 1026.1 918 1025.8 919.4 1026 920.8 1026.4 921.4 1026.5 922.2 1025.8 923.6 1026 925 1024.9 925.5 1025 926.4 1025.1 927.8 1025.5 929.2 1025.7 929.6 1025.9 930.6 1025.2 932 1024.2 932.7 1024.1 933.4 1024.5 934.8 1025.9 935.8 1026.8 936.2 1027 937.6 1027.8 939 1028.3 939.8 1029 940.4 1028.6 941.8 1027.9 943.2 1027.2 943.9 1026.9 944.6 1026.9 946 1027 947.4 1026.7 948 1026.7 948.8 1026.3 950.2 1025.2 951.6 1024 952.1 1024.2 953 1024.6 954.4 1026.6 955.2 1028 955.8 1028.1 957.2 1028.8 958.6 1029.5 959.3 1029.9 960 1029.1 961.4 1027.4 962.4 1026.6 962.8 1026.7 964.2 1027.7 965.6 1028.3 966.5 1028.9 967 1028.9 968.4 1028.7 969.8 1028.7 971.2 1028.5 972.6 1028.3 972.6 1028.5 974 1028.8 975.4 1029.1 976.8 1029.4 978.2 1029.8 978.8 1029.9 979.6 1029.7 981 1029.3 982.4 1029 983.8 1028.6 984.9 1028.5 985.2 1028.6 986.6 1029.1 988 1029.5 989.4 1030 990.2 1030.4 990.8 1030.4 992.2 1030.2 993.6 1030.4 995 1030.3 996.4 1030.2 997.8 1030.2 999.2 1030.2 1000.6 1030.1 1002 1030.1 1003.4 1030.1 1004.8 1030.1 1005.5 1030.1 1006.2 1029.9 1007.6 1029.8 1009 1029.7 1010.4 1029.5 1011.8 1029.4 1013.2 1029.2 1014.6 1029 1016 1028.9 1017.4 1028.7 1018.2 1028.6 1018.8 1028.8 1020.2 1029.4 1021.6 1029.7 1023 1030.1 1024.2 1030.5 1024.4 1030.6 1025.8 1030.5 1027.2 1030.5 1028.6 1030.4 1030 1030.4 1031.4 1030.5 1032.8 1030.4 1034.2 1030.5 1035.6 1030.6 1037 1030.5 1038.4 1030.5 1039.8 1030.5 1041.2 1030.5 1042.6 1030.5 1042.8 1030.5 1044 1030 1045.4 1029.4 1046.8 1028.9 1047.9 1028.4 1048.2 1028.3 1049.6 1028.4 1051 1028.6 1052.4 1028.7 1053.8 1028.7 1055.2 1028.8 1056.6 1029 1058 1028.9 1059.4 1029.2 1059.8 1029.2 1060.8 1028.8 1062.2 1028.2 1063.6 1027.4 1064.9 1026.5 1065 1026.7 1066.4 1027.6 1067.8 1028.8 1068.3 1029.1 1069.2 1029.1 1070.6 1028.9 1072 1028.8 1073.4 1028.7 1074.8 1028.5 1076.2 1028.4 1076.8 1028.3 1077.6 1028.8 1079 1029.7 1080.2 1030.3 1080.4 1030.2 1081.8 1029.4 1083.2 1028.5 1083.6 1028.4 1084.6 1028.7 1086 1029.4 1087.4 1030 1088.7 1030.5 1088.8 1030.5 1090.2 1030.5 1091.6 1030.6 1093 1030.6 1094.4 1030.5 1095.8 1030.5 1097.2 1030.5 1098.6 1030.5 1100 1030.5 1101.4 1030.5 1102.8 1030.5 1104.2 1030.5 1105.6 1030.5 1107 1030.5 1108.4 1030.5 1109.1 1030.5 1109.8 1030.4 1111.2 1030.1 1112.6 1029.8 1114 1029.5 1115.4 1029.3 1115.9 1029.1 1116.8 1029.1 1118.2 1029 1119.6 1029 1121 1028.8 1122.4 1028.8 1123.8 1028.7 1125.2 1028.6 1126.6 1028.5 1128 1028.3 1129.4 1028.3 1129.5 1028.2 1130.8 1028.3 1132.2 1028.3 1133.6 1028.3 1135 1028.2 1136.4 1028.2 1137.8 1028 1137.9 1027.8 1139.2 1028.3 1140.6 1028.8 1142 1029.1 1143.4 1029.6 1144.8 1029.9 1146.2 1030.3 1146.4 1030.3 1147.6 1030 1149 1029.8 1150.4 1029.3 1151.8 1029.1 1153.2 1028.7 1153.2 1028.7 1154.6 1028.8 1156 1028.8 1157.4 1028.9 1158.8 1029.1 1160.2 1029.2 1161.6 1029.3 1161.7 1029.4 1163 1029 1164.4 1028.9 1165.8 1028.7 1167.2 1028.6 1167.7 1028.4 1168.6 1028.7 1170 1029.2 1171.4 1029.8 1172.8 1030.3 1173.6 1030.7 1174.2 1030.6 1175.6 1030.7 1177 1030.7 1178.4 1030.7 1179.8 1030.7 1181.2 1030.7 1182.6 1030.7 1184 1030.7 1185.4 1030.7 1186.8 1030.7 1188.2 1030.7 1189.6 1030.7 1191 1030.7 1192.3 1030.8 1192.4 1030.7 1193.8 1030.5 1195.2 1030.6 1196.6 1030.5 1198 1030.4 1199.4 1030.4 1200.8 1030.4 1202.2 1030.3 1203.6 1030.1 1205 1030.2 1206.4 1030 1207.6 1030.1 1207.8 1029.9 1209.2 1028.4 1210.6 1027 1211.8 1025.7 1212 1026.2 1213.4 1027.2 1214.8 1028.7 1215.2 1029.2 1216.2 1029.5 1217.6 1029.7 1219 1030 1220.4 1030.3 1221.2 1030.6 1221.8 1030.4 1223.2 1030.3 1224.6 1030.2 1226 1030 1227.4 1029.9 1228.8 1029.8 1230.2 1029.6 1231.6 1029.4 1233 1029.3 1234.4 1029.2 1235.4 1029.1 1235.8 1028.9 1237.2 1028.3 1238.6 1027.7 1239.7 1027.3 1240 1027.4 1241.4 1028 1242.8 1028.4 1244 1028.5 1244.2 1028.7 1245.6 1029.1 1247 1029.4 1248.4 1029.6 1249.1 1029.9 1249.8 1029.6 1251.2 1028.9 1251.7 1028.7 1252.6 1028.9 1254 1029.1 1255.4 1029.5 1256.8 1029.7 1257.7 1029.9 1258.2 1029.7 1259.6 1029.3 1260.2 1029 1261 1029.3 1262.4 1029.9 1263.7 1030.3 1263.8 1030.3 1265.2 1030.1 1266.6 1029.5 1267.1 1029.3 1268 1029.4 1269.4 1029.4 1270.8 1029.4 1271.4 1029.4 1272.2 1028.8 1273.6 1028.1 1275 1027.1 1275.1 1027.4 1276.4 1028.2 1277.8 1029.1 1279.1 1029.8 1279.2 1029.7 1280.6 1028.7 1282 1027.4 1283.3 1026.3 1283.4 1026.3 1284.8 1025.7 1286.2 1025.1 1286.8 1025.3 1287.6 1026.2 1289 1027.8 1290.2 1029 1290.4 1029.1 1291.8 1029.4 1293.2 1029.8 1293.6 1029.9 1294.6 1029.7 1296 1029.4 1297.4 1029.4 1298.8 1029.2 1299.6 1029.1 1300.2 1028.2 1301.3 1026.5 1301.6 1026.6 1303 1027.3 1303.9 1027.5 1304.4 1027 1305.8 1026.2 1307.2 1025.6 1307.3 1025.5 1308.6 1025.4 1310 1023.7 1310.7 1023.6 1311.4 1022.8 1312.4 1021.9 1312.8 1023.1 1314.2 1026 1314.5 1027.1 1315.6 1026.8 1317 1025.9 1317.6 1025.9 1318.4 1025.8 1319.8 1026.4 1320.2 1026.4 1321.2 1026.3 1322.4 1025.7 1322.6 1023.9 1323.6 1014.3 1324 1013.3 1325.3 1007.5 1325.4 1009.1 1326.8 1013.8 1327 1015 1328.2 1012.8 1328.2 1013.3 1329.6 1018.5 1330.4 1022.1 1331 1023.5 1332.4 1025.5 1333 1026.1 1333.8 1026.8 1335.2 1027.1 1335.6 1027.4 1336.6 1026.1 1338 1024.6 1338.1 1023.8 1339.4 1022.6 1340.7 1020.4 1340.8 1020.2 1341.9 1020.7 1342.2 1020.6 1343.6 1017.3 1343.6 1016 1345 1021.4 1345.8 1023.9 1346.4 1024.6 1347.8 1025.6 1349.2 1027 1349.3 1026.8 1350.6 1026.4 1351.8 1026 1352 1025.7 1353.4 1024.4 1354.4 1023.3 1354.8 1022.1 1356.1 1014.5 1356.2 1015.2 1357.6 1014.5 1358.3 1010.9 1359 1015.5 1360.4 1022 1360.4 1022.5 1361.8 1023.7 1363 1025.2 1363.2 1025.2 1364.6 1027.3 1364.7 1027.1 1366 1026.2 1367.4 1024.9 1367.6 1024.7 1368.8 1024.1 1370.2 1022.2 1370.7 1021.2 1371.6 1022.2 1372.7 1020.4 1373 1019.6 1374.4 1017 1374.9 1015.1 1375.8 1015.7 1377.2 1017.7 1377.5 1018.4 1378.6 1019.2 1380 1022.1 1380.1 1023 1381.4 1023.7 1382.6 1024.8 1382.8 1025.2 1384.2 1023.8 1385.2 1023.6 1385.6 1022.1 1386.9 1017.8 1387 1018.1 1388.4 1016 1388.6 1014.4 1389.8 1012.8 1390.3 1009.1 1391.2 1015.6 1392.1 1019.3 1392.6 1018.9 1393.8 1017.2 1394 1018.2 1395.4 1020.9 1396.3 1023 1396.8 1021.9 1398.2 1021.5 1398.9 1021.8 1399.6 1019.4 1401 1013.7 1401.1 1013.3 1402.4 1015.7 1402.8 1017.9 1403.8 1013.3 1404 1012.5 1405.2 1012.2 1406.3 1008.8 1406.6 1011.3 1408 1013.2 1408.3 1014.9 1409.4 1017.3 1410.8 1018.2 1410.9 1017.4 1412.2 1018.6 1413.5 1019.7 1413.6 1020.5 1415 1018.1 1415.2 1018.1 1416.4 1020.9 1417.2 1024 1417.8 1021.3 1419.2 1013.7 1419.5 1013.9 1420.6 1013.2 1421.2 1014.7 1422 1011.5 1423.4 1007.2 1423.4 1006.4 1424.8 1007.6 1425.4 1011.7 1426.2 1009 1427.2 1009.3 1427.6 1009.1 1429 1008.9 1429.2 1007.2 1430.4 1010.9 1431.8 1014.2 1432 1016 1433.2 1012.9 1434 1013 1434.6 1014.9 1436 1018.4 1436.1 1018.9 1437.4 1017.9 1438.3 1015.8 1438.8 1014.9 1440.2 1018.4 1441.6 1020.5 1441.7 1020.7 1443 1019.9 1444.3 1019.4 1444.4 1018.7 1445.8 1015.9 1447.2 1013.1 1447.4 1012.6 1448.6 1016.3 1449.4 1016.7 1450 1015.8 1451.4 1015.6 1452 1012.6 1452.8 1016.7 1454.2 1019.9 1454.2 1020.2 1455.6 1014.7 1455.9 1013.9 1457 1017.1 1457.6 1020.1 1458.4 1013.3 1459.7 1005.8 1459.8 1002.7 1461.2 998.5 1461.4 999.4" stroke="#ff7f0e" stroke-width="2.3" stroke-linejoin="round" stroke-linecap="square" fill="none"/>
</g>
<rect x="116.5" y="575.5" width="1346.00" height="479.00" fill="none" stroke="#000" stroke-width="1.1"/>
<path d="M116.5 1054.5v4.9M284.5 1054.5v4.9M453.5 1054.5v4.9M621.5 1054.5v4.9M789.5 1054.5v4.9M958.5 1054.5v4.9M1126.5 1054.5v4.9M1294.5 1054.5v4.9M116.5 597.5h-4.9M116.5 651.5h-4.9M116.5 706.5h-4.9M116.5 760.5h-4.9M116.5 815.5h-4.9M116.5 869.5h-4.9M116.5 924.5h-4.9M116.5 978.5h-4.9M116.5 1033.5h-4.9" stroke="#000" stroke-width="1.1" fill="none"/>
<text x="104.7" y="604.3" font-size="20.3" text-anchor="end" textLength="69" lengthAdjust="spacingAndGlyphs">0.200</text>
<text x="104.7" y="658.3" font-size="20.3" text-anchor="end" textLength="69" lengthAdjust="spacingAndGlyphs">0.175</text>
<text x="104.7" y="713.3" font-size="20.3" text-anchor="end" textLength="69" lengthAdjust="spacingAndGlyphs">0.150</text>
<text x="104.7" y="767.3" font-size="20.3" text-anchor="end" textLength="69" lengthAdjust="spacingAndGlyphs">0.125</text>
<text x="104.7" y="822.3" font-size="20.3" text-anchor="end" textLength="69" lengthAdjust="spacingAndGlyphs">0.100</text>
<text x="104.7" y="876.3" font-size="20.3" text-anchor="end" textLength="69" lengthAdjust="spacingAndGlyphs">0.075</text>
<text x="104.7" y="931.3" font-size="20.3" text-anchor="end" textLength="69" lengthAdjust="spacingAndGlyphs">0.050</text>
<text x="104.7" y="985.3" font-size="20.3" text-anchor="end" textLength="69" lengthAdjust="spacingAndGlyphs">0.025</text>
<text x="104.7" y="1040.3" font-size="20.3" text-anchor="end" textLength="69" lengthAdjust="spacingAndGlyphs">0.000</text>
<rect x="1047.5" y="584.4" width="406.4" height="80.9" rx="2.6" fill="#fff" fill-opacity="0.8" stroke="#ccc" stroke-width="1.1"/>
<circle cx="1073.4" cy="599.4" r="2.6" fill="#1f77b4"/>
<path d="M1054 638.8H1093.1" stroke="#ff7f0e" stroke-width="2.1"/>
<text x="1107.0" y="604.8" font-size="17" textLength="40.0" lengthAdjust="spacingAndGlyphs">Raw</text>
<text x="1157.5" y="604.8" font-size="17" textLength="46.1" lengthAdjust="spacingAndGlyphs">Data</text>
<text x="1107.0" y="632.0" font-size="17" textLength="125.0" lengthAdjust="spacingAndGlyphs">Butterworth</text>
<text x="1240.0" y="632.0" font-size="17" textLength="80.5" lengthAdjust="spacingAndGlyphs">Filtered</text>
<text x="1328.5" y="632.0" font-size="17" textLength="46.5" lengthAdjust="spacingAndGlyphs">Data</text>
<text x="1107.0" y="653.2" font-size="17" textLength="58.0" lengthAdjust="spacingAndGlyphs">(N=6,</text>
<text x="1172.5" y="653.2" font-size="17" textLength="106.0" lengthAdjust="spacingAndGlyphs">Tc=3.3333</text>
<text x="1287.5" y="653.2" font-size="17" textLength="43.0" lengthAdjust="spacingAndGlyphs">min,</text>
<text x="1339.5" y="653.2" font-size="17" textLength="54.0" lengthAdjust="spacingAndGlyphs">Type:</text>
<text x="1401.0" y="653.2" font-size="17" textLength="43.0" lengthAdjust="spacingAndGlyphs">low)</text>
<text x="635" y="29.8" font-size="26.8" textLength="299" lengthAdjust="spacingAndGlyphs">10.0 MHz N0000039</text>
<text x="118.1" y="28.3" font-size="24.4" textLength="8.0" lengthAdjust="spacingAndGlyphs">(</text>
<text x="127.5" y="29.9" font-size="26.8" textLength="14.2" lengthAdjust="spacingAndGlyphs">a</text>
<text x="147.9" y="28.3" font-size="24.4" textLength="8.0" lengthAdjust="spacingAndGlyphs">)</text>
<text x="117.7" y="565.0" font-size="24.4" textLength="8.0" lengthAdjust="spacingAndGlyphs">(</text>
<text x="128.0" y="566.6" font-size="26.8" textLength="17.5" lengthAdjust="spacingAndGlyphs">b</text>
<text x="147.7" y="565.0" font-size="24.4" textLength="8.8" lengthAdjust="spacingAndGlyphs">)</text>
<text transform="translate(37.2 390.5) rotate(-90)" font-size="20.8" textLength="224" lengthAdjust="spacingAndGlyphs">Doppler Shift [Hz]</text>
<text transform="translate(24.3 918.5) rotate(-90)" font-size="20.8" textLength="207" lengthAdjust="spacingAndGlyphs">Peak Voltage [V]</text>
<text x="764.7" y="1157.3" font-size="21.8" textLength="48.6" lengthAdjust="spacingAndGlyphs">UTC</text>
<text transform="translate(113.5 1078.5) rotate(-30)" font-size="22.6" text-anchor="end" textLength="111.5" lengthAdjust="spacingAndGlyphs">06-09 00</text>
<text transform="translate(281.8 1078.5) rotate(-30)" font-size="22.6" text-anchor="end" textLength="111.5" lengthAdjust="spacingAndGlyphs">06-09 03</text>
<text transform="translate(450.1 1078.5) rotate(-30)" font-size="22.6" text-anchor="end" textLength="111.5" lengthAdjust="spacingAndGlyphs">06-09 06</text>
<text transform="translate(618.4 1078.5) rotate(-30)" font-size="22.6" text-anchor="end" textLength="111.5" lengthAdjust="spacingAndGlyphs">06-09 09</text>
<text transform="translate(786.7 1078.5) rotate(-30)" font-size="22.6" text-anchor="end" textLength="111.5" lengthAdjust="spacingAndGlyphs">06-09 12</text>
<text transform="translate(955.0 1078.5) rotate(-30)" font-size="22.6" text-anchor="end" textLength="111.5" lengthAdjust="spacingAndGlyphs">06-09 15</text>
<text transform="translate(1123.3 1078.5) rotate(-30)" font-size="22.6" text-anchor="end" textLength="111.5" lengthAdjust="spacingAndGlyphs">06-09 18</text>
<text transform="translate(1291.6 1078.5) rotate(-30)" font-size="22.6" text-anchor="end" textLength="111.5" lengthAdjust="spacingAndGlyphs">06-09 21</text>
</g></svg></body></html>
